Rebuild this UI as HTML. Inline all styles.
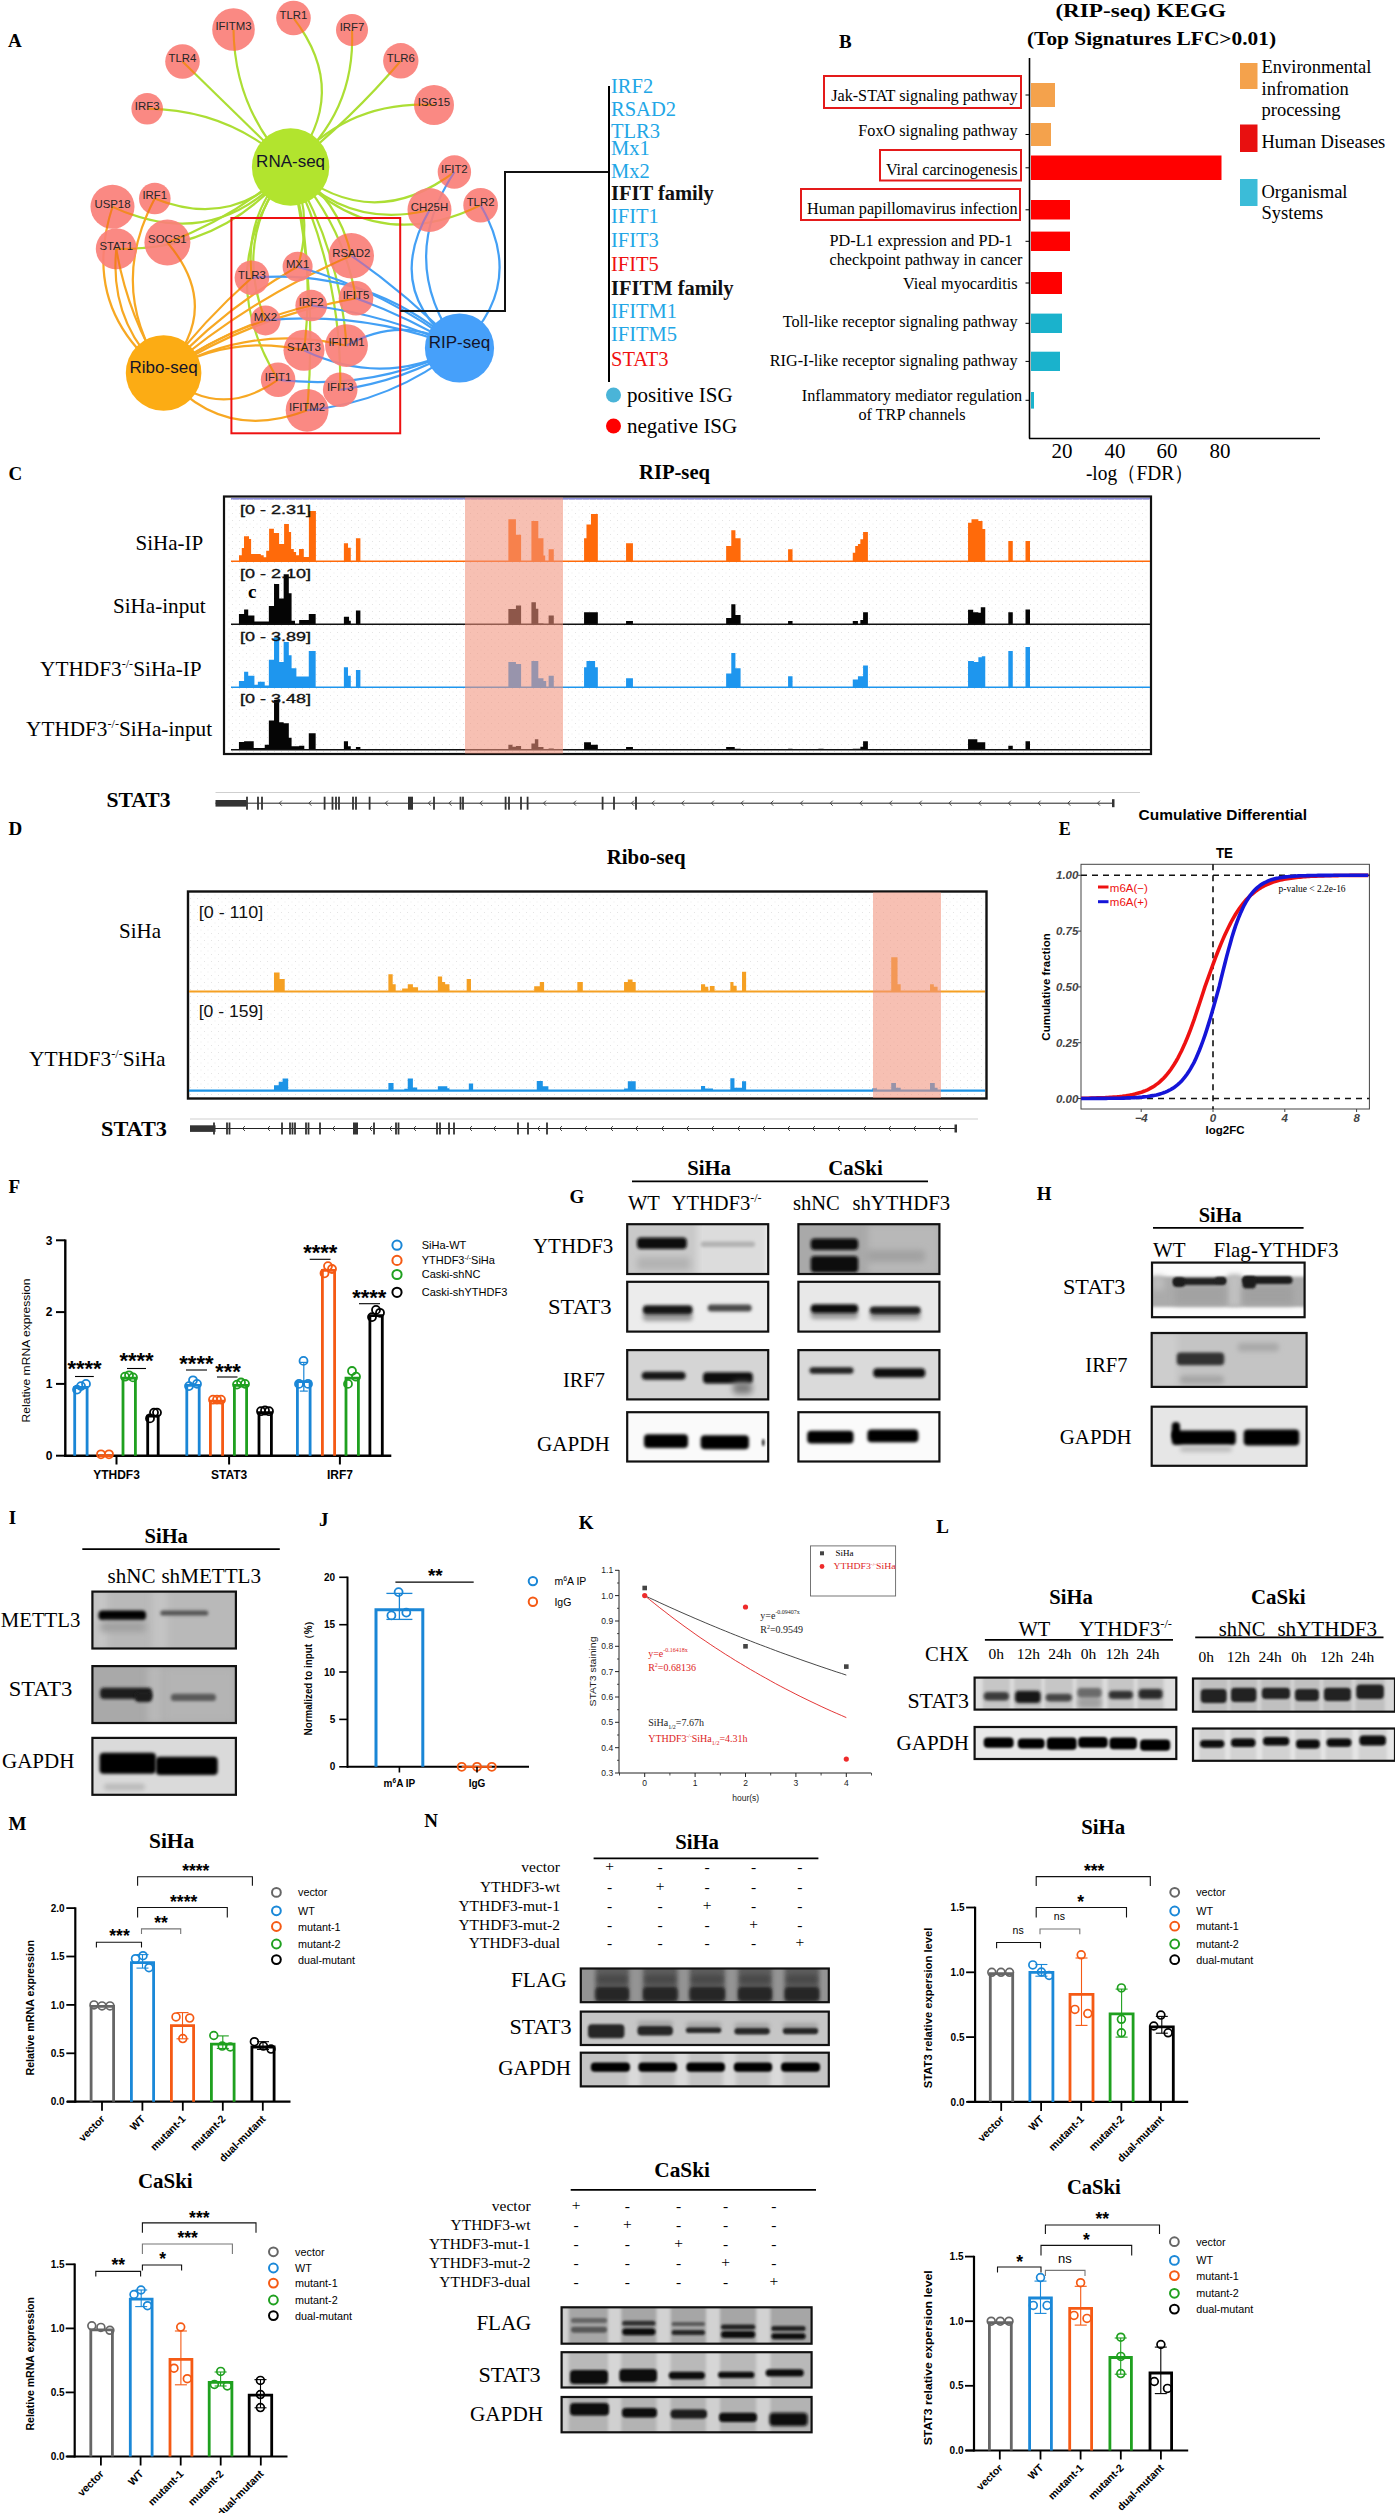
<!DOCTYPE html>
<html><head><meta charset="utf-8"><title>Figure</title>
<style>html,body{margin:0;padding:0;background:#fff;} svg{display:block;}</style>
</head><body>
<svg width="1395" height="2513" viewBox="0 0 1395 2513">
<defs>
<filter id="f0_8" x="-100%" y="-100%" width="300%" height="300%"><feGaussianBlur stdDeviation="0.8"/></filter>
<filter id="f1_2" x="-100%" y="-100%" width="300%" height="300%"><feGaussianBlur stdDeviation="1.2"/></filter>
<filter id="f1_3" x="-100%" y="-100%" width="300%" height="300%"><feGaussianBlur stdDeviation="1.3"/></filter>
<filter id="f1_4" x="-100%" y="-100%" width="300%" height="300%"><feGaussianBlur stdDeviation="1.4"/></filter>
<filter id="f1_5" x="-100%" y="-100%" width="300%" height="300%"><feGaussianBlur stdDeviation="1.5"/></filter>
<filter id="f1_6" x="-100%" y="-100%" width="300%" height="300%"><feGaussianBlur stdDeviation="1.6"/></filter>
<filter id="f1_8" x="-100%" y="-100%" width="300%" height="300%"><feGaussianBlur stdDeviation="1.8"/></filter>
<filter id="f2" x="-100%" y="-100%" width="300%" height="300%"><feGaussianBlur stdDeviation="2"/></filter>
<filter id="f2_2" x="-100%" y="-100%" width="300%" height="300%"><feGaussianBlur stdDeviation="2.2"/></filter>
<filter id="f2_5" x="-100%" y="-100%" width="300%" height="300%"><feGaussianBlur stdDeviation="2.5"/></filter>
<filter id="f3" x="-100%" y="-100%" width="300%" height="300%"><feGaussianBlur stdDeviation="3"/></filter>
<filter id="f4" x="-100%" y="-100%" width="300%" height="300%"><feGaussianBlur stdDeviation="4"/></filter>
<pattern id="dots" width="7" height="7" patternUnits="userSpaceOnUse"><rect x="1" y="2" width="1" height="1" fill="#e4e4e4"/><rect x="4.5" y="5.5" width="1" height="1" fill="#ececec"/></pattern>
</defs>
<rect width="1395" height="2513" fill="#fff"/>
<text x="8.0" y="47.0" font-family="Liberation Serif" font-size="19" font-weight="bold">A</text>
<path d="M290.6,167.0 Q234.6,109.7 233.5,29.5" fill="none" stroke="#acde34" stroke-width="2.2"/>
<path d="M290.6,167.0 Q351.7,93.7 293.5,18.0" fill="none" stroke="#acde34" stroke-width="2.2"/>
<path d="M290.6,167.0 Q355.6,113.8 352.0,30.0" fill="none" stroke="#acde34" stroke-width="2.2"/>
<path d="M290.6,167.0 Q236.6,114.2 182.5,61.5" fill="none" stroke="#acde34" stroke-width="2.2"/>
<path d="M290.6,167.0 Q351.0,119.4 400.8,60.8" fill="none" stroke="#acde34" stroke-width="2.2"/>
<path d="M290.6,167.0 Q230.5,109.2 147.2,108.8" fill="none" stroke="#acde34" stroke-width="2.2"/>
<path d="M290.6,167.0 Q346.8,100.2 434.0,105.0" fill="none" stroke="#acde34" stroke-width="2.2"/>
<path d="M290.6,167.0 Q370.5,235.0 454.4,172.0" fill="none" stroke="#acde34" stroke-width="2.2"/>
<path d="M290.6,167.0 Q347.2,230.2 429.5,210.0" fill="none" stroke="#acde34" stroke-width="2.2"/>
<path d="M290.6,167.0 Q371.1,258.3 480.6,205.2" fill="none" stroke="#acde34" stroke-width="2.2"/>
<path d="M290.6,167.0 Q216.7,254.6 112.5,206.8" fill="none" stroke="#acde34" stroke-width="2.2"/>
<path d="M290.6,167.0 Q233.7,230.3 154.8,198.5" fill="none" stroke="#acde34" stroke-width="2.2"/>
<path d="M290.6,167.0 Q236.6,217.1 167.4,242.5" fill="none" stroke="#acde34" stroke-width="2.2"/>
<path d="M290.6,167.0 Q223.9,251.5 116.3,248.8" fill="none" stroke="#acde34" stroke-width="2.2"/>
<path d="M290.6,167.0 Q243.6,212.7 251.9,277.8" fill="none" stroke="#acde34" stroke-width="2.2"/>
<path d="M290.6,167.0 Q314.0,215.4 297.6,266.7" fill="none" stroke="#acde34" stroke-width="2.2"/>
<path d="M290.6,167.0 Q338.7,199.2 351.3,255.7" fill="none" stroke="#acde34" stroke-width="2.2"/>
<path d="M290.6,167.0 Q343.0,222.8 356.0,298.3" fill="none" stroke="#acde34" stroke-width="2.2"/>
<path d="M290.6,167.0 Q232.0,236.2 265.5,320.4" fill="none" stroke="#acde34" stroke-width="2.2"/>
<path d="M290.6,167.0 Q340.0,249.6 346.5,345.6" fill="none" stroke="#acde34" stroke-width="2.2"/>
<path d="M290.6,167.0 Q209.9,269.0 278.1,379.7" fill="none" stroke="#acde34" stroke-width="2.2"/>
<path d="M290.6,167.0 Q342.1,272.4 340.2,389.8" fill="none" stroke="#acde34" stroke-width="2.2"/>
<path d="M290.6,167.0 Q318.3,287.3 307.1,410.3" fill="none" stroke="#acde34" stroke-width="2.2"/>
<path d="M290.6,167.0 Q315.6,257.3 304.0,350.3" fill="none" stroke="#acde34" stroke-width="2.2"/>
<path d="M163.6,373.0 Q79.9,307.8 112.5,206.8" fill="none" stroke="#f7a823" stroke-width="2.2"/>
<path d="M163.6,373.0 Q108.9,322.7 116.3,248.8" fill="none" stroke="#f7a823" stroke-width="2.2"/>
<path d="M163.6,373.0 Q127.5,315.6 116.3,248.8" fill="none" stroke="#f7a823" stroke-width="2.2"/>
<path d="M163.6,373.0 Q106.8,288.4 154.8,198.5" fill="none" stroke="#f7a823" stroke-width="2.2"/>
<path d="M163.6,373.0 Q224.2,309.5 167.4,242.5" fill="none" stroke="#f7a823" stroke-width="2.2"/>
<path d="M163.6,373.0 Q203.0,321.0 251.9,277.8" fill="none" stroke="#f7a823" stroke-width="2.2"/>
<path d="M163.6,373.0 Q222.1,309.1 297.6,266.7" fill="none" stroke="#f7a823" stroke-width="2.2"/>
<path d="M163.6,373.0 Q248.1,299.3 351.3,255.7" fill="none" stroke="#f7a823" stroke-width="2.2"/>
<path d="M163.6,373.0 Q230.6,324.5 311.2,305.5" fill="none" stroke="#f7a823" stroke-width="2.2"/>
<path d="M163.6,373.0 Q252.3,316.4 356.0,298.3" fill="none" stroke="#f7a823" stroke-width="2.2"/>
<path d="M163.6,373.0 Q210.3,338.5 265.5,320.4" fill="none" stroke="#f7a823" stroke-width="2.2"/>
<path d="M163.6,373.0 Q229.3,333.6 304.0,350.3" fill="none" stroke="#f7a823" stroke-width="2.2"/>
<path d="M163.6,373.0 Q249.6,322.7 346.5,345.6" fill="none" stroke="#f7a823" stroke-width="2.2"/>
<path d="M163.6,373.0 Q218.2,422.2 278.1,379.7" fill="none" stroke="#f7a823" stroke-width="2.2"/>
<path d="M163.6,373.0 Q221.9,443.3 307.1,410.3" fill="none" stroke="#f7a823" stroke-width="2.2"/>
<path d="M459.5,348.0 Q395.4,261.8 454.4,172.0" fill="none" stroke="#43a0f5" stroke-width="2.2"/>
<path d="M459.5,348.0 Q382.4,292.5 429.5,210.0" fill="none" stroke="#43a0f5" stroke-width="2.2"/>
<path d="M459.5,348.0 Q527.2,285.0 480.6,205.2" fill="none" stroke="#43a0f5" stroke-width="2.2"/>
<path d="M459.5,348.0 Q371.1,267.2 251.9,277.8" fill="none" stroke="#43a0f5" stroke-width="2.2"/>
<path d="M459.5,348.0 Q386.7,291.2 297.6,266.7" fill="none" stroke="#43a0f5" stroke-width="2.2"/>
<path d="M459.5,348.0 Q410.0,296.4 351.3,255.7" fill="none" stroke="#43a0f5" stroke-width="2.2"/>
<path d="M459.5,348.0 Q388.8,314.9 311.2,305.5" fill="none" stroke="#43a0f5" stroke-width="2.2"/>
<path d="M459.5,348.0 Q410.2,318.0 356.0,298.3" fill="none" stroke="#43a0f5" stroke-width="2.2"/>
<path d="M459.5,348.0 Q365.8,310.9 265.5,320.4" fill="none" stroke="#43a0f5" stroke-width="2.2"/>
<path d="M459.5,348.0 Q403.7,312.9 346.5,345.6" fill="none" stroke="#43a0f5" stroke-width="2.2"/>
<path d="M459.5,348.0 Q382.3,388.0 304.0,350.3" fill="none" stroke="#43a0f5" stroke-width="2.2"/>
<path d="M459.5,348.0 Q373.6,391.1 278.1,379.7" fill="none" stroke="#43a0f5" stroke-width="2.2"/>
<path d="M459.5,348.0 Q404.0,380.8 340.2,389.8" fill="none" stroke="#43a0f5" stroke-width="2.2"/>
<path d="M459.5,348.0 Q392.6,402.0 307.1,410.3" fill="none" stroke="#43a0f5" stroke-width="2.2"/>
<circle cx="233.5" cy="29.5" r="21.3" fill="#fa7f78" fill-opacity="0.92"/>
<circle cx="293.5" cy="18.0" r="17.3" fill="#fa7f78" fill-opacity="0.92"/>
<circle cx="352.0" cy="30.0" r="16.0" fill="#fa7f78" fill-opacity="0.92"/>
<circle cx="182.5" cy="61.5" r="17.3" fill="#fa7f78" fill-opacity="0.92"/>
<circle cx="400.8" cy="60.8" r="17.7" fill="#fa7f78" fill-opacity="0.92"/>
<circle cx="147.2" cy="108.8" r="15.8" fill="#fa7f78" fill-opacity="0.92"/>
<circle cx="434.0" cy="105.0" r="20.0" fill="#fa7f78" fill-opacity="0.92"/>
<circle cx="454.4" cy="172.0" r="16.7" fill="#fa7f78" fill-opacity="0.92"/>
<circle cx="429.5" cy="210.0" r="22.0" fill="#fa7f78" fill-opacity="0.92"/>
<circle cx="480.6" cy="205.2" r="17.3" fill="#fa7f78" fill-opacity="0.92"/>
<circle cx="112.5" cy="206.8" r="22.0" fill="#fa7f78" fill-opacity="0.92"/>
<circle cx="154.8" cy="198.5" r="15.8" fill="#fa7f78" fill-opacity="0.92"/>
<circle cx="116.3" cy="248.8" r="20.5" fill="#fa7f78" fill-opacity="0.92"/>
<circle cx="167.4" cy="242.5" r="23.0" fill="#fa7f78" fill-opacity="0.92"/>
<circle cx="251.9" cy="277.8" r="17.3" fill="#fa7f78" fill-opacity="0.92"/>
<circle cx="297.6" cy="266.7" r="15.0" fill="#fa7f78" fill-opacity="0.92"/>
<circle cx="351.3" cy="255.7" r="22.7" fill="#fa7f78" fill-opacity="0.92"/>
<circle cx="311.2" cy="305.5" r="15.8" fill="#fa7f78" fill-opacity="0.92"/>
<circle cx="356.0" cy="298.3" r="17.3" fill="#fa7f78" fill-opacity="0.92"/>
<circle cx="265.5" cy="320.4" r="15.0" fill="#fa7f78" fill-opacity="0.92"/>
<circle cx="304.0" cy="350.3" r="20.5" fill="#fa7f78" fill-opacity="0.92"/>
<circle cx="346.5" cy="345.6" r="21.4" fill="#fa7f78" fill-opacity="0.92"/>
<circle cx="278.1" cy="379.7" r="17.3" fill="#fa7f78" fill-opacity="0.92"/>
<circle cx="340.2" cy="389.8" r="17.3" fill="#fa7f78" fill-opacity="0.92"/>
<circle cx="307.1" cy="410.3" r="21.4" fill="#fa7f78" fill-opacity="0.92"/>
<clipPath id="nc_IFITM3"><circle cx="233.5" cy="29.5" r="21.3"/></clipPath>
<clipPath id="nc_TLR1"><circle cx="293.5" cy="18.0" r="17.3"/></clipPath>
<clipPath id="nc_IRF7"><circle cx="352.0" cy="30.0" r="16.0"/></clipPath>
<clipPath id="nc_TLR4"><circle cx="182.5" cy="61.5" r="17.3"/></clipPath>
<clipPath id="nc_TLR6"><circle cx="400.8" cy="60.8" r="17.7"/></clipPath>
<clipPath id="nc_IRF3"><circle cx="147.2" cy="108.8" r="15.8"/></clipPath>
<clipPath id="nc_ISG15"><circle cx="434.0" cy="105.0" r="20.0"/></clipPath>
<clipPath id="nc_IFIT2"><circle cx="454.4" cy="172.0" r="16.7"/></clipPath>
<clipPath id="nc_CH25H"><circle cx="429.5" cy="210.0" r="22.0"/></clipPath>
<clipPath id="nc_TLR2"><circle cx="480.6" cy="205.2" r="17.3"/></clipPath>
<clipPath id="nc_USP18"><circle cx="112.5" cy="206.8" r="22.0"/></clipPath>
<clipPath id="nc_IRF1"><circle cx="154.8" cy="198.5" r="15.8"/></clipPath>
<clipPath id="nc_STAT1"><circle cx="116.3" cy="248.8" r="20.5"/></clipPath>
<clipPath id="nc_SOCS1"><circle cx="167.4" cy="242.5" r="23.0"/></clipPath>
<clipPath id="nc_TLR3"><circle cx="251.9" cy="277.8" r="17.3"/></clipPath>
<clipPath id="nc_MX1"><circle cx="297.6" cy="266.7" r="15.0"/></clipPath>
<clipPath id="nc_RSAD2"><circle cx="351.3" cy="255.7" r="22.7"/></clipPath>
<clipPath id="nc_IRF2"><circle cx="311.2" cy="305.5" r="15.8"/></clipPath>
<clipPath id="nc_IFIT5"><circle cx="356.0" cy="298.3" r="17.3"/></clipPath>
<clipPath id="nc_MX2"><circle cx="265.5" cy="320.4" r="15.0"/></clipPath>
<clipPath id="nc_STAT3"><circle cx="304.0" cy="350.3" r="20.5"/></clipPath>
<clipPath id="nc_IFITM1"><circle cx="346.5" cy="345.6" r="21.4"/></clipPath>
<clipPath id="nc_IFIT1"><circle cx="278.1" cy="379.7" r="17.3"/></clipPath>
<clipPath id="nc_IFIT3"><circle cx="340.2" cy="389.8" r="17.3"/></clipPath>
<clipPath id="nc_IFITM2"><circle cx="307.1" cy="410.3" r="21.4"/></clipPath>
<path d="M290.6,167.0 Q234.6,109.7 233.5,29.5" fill="none" stroke="#f28a22" stroke-width="2.0" clip-path="url(#nc_IFITM3)"/>
<path d="M290.6,167.0 Q351.7,93.7 293.5,18.0" fill="none" stroke="#f28a22" stroke-width="2.0" clip-path="url(#nc_TLR1)"/>
<path d="M290.6,167.0 Q355.6,113.8 352.0,30.0" fill="none" stroke="#f28a22" stroke-width="2.0" clip-path="url(#nc_IRF7)"/>
<path d="M290.6,167.0 Q236.6,114.2 182.5,61.5" fill="none" stroke="#f28a22" stroke-width="2.0" clip-path="url(#nc_TLR4)"/>
<path d="M290.6,167.0 Q351.0,119.4 400.8,60.8" fill="none" stroke="#f28a22" stroke-width="2.0" clip-path="url(#nc_TLR6)"/>
<path d="M290.6,167.0 Q230.5,109.2 147.2,108.8" fill="none" stroke="#f28a22" stroke-width="2.0" clip-path="url(#nc_IRF3)"/>
<path d="M290.6,167.0 Q346.8,100.2 434.0,105.0" fill="none" stroke="#f28a22" stroke-width="2.0" clip-path="url(#nc_ISG15)"/>
<path d="M290.6,167.0 Q370.5,235.0 454.4,172.0" fill="none" stroke="#f28a22" stroke-width="2.0" clip-path="url(#nc_IFIT2)"/>
<path d="M290.6,167.0 Q347.2,230.2 429.5,210.0" fill="none" stroke="#f28a22" stroke-width="2.0" clip-path="url(#nc_CH25H)"/>
<path d="M290.6,167.0 Q371.1,258.3 480.6,205.2" fill="none" stroke="#f28a22" stroke-width="2.0" clip-path="url(#nc_TLR2)"/>
<path d="M290.6,167.0 Q216.7,254.6 112.5,206.8" fill="none" stroke="#f28a22" stroke-width="2.0" clip-path="url(#nc_USP18)"/>
<path d="M290.6,167.0 Q233.7,230.3 154.8,198.5" fill="none" stroke="#f28a22" stroke-width="2.0" clip-path="url(#nc_IRF1)"/>
<path d="M290.6,167.0 Q236.6,217.1 167.4,242.5" fill="none" stroke="#f28a22" stroke-width="2.0" clip-path="url(#nc_SOCS1)"/>
<path d="M290.6,167.0 Q223.9,251.5 116.3,248.8" fill="none" stroke="#f28a22" stroke-width="2.0" clip-path="url(#nc_STAT1)"/>
<path d="M290.6,167.0 Q243.6,212.7 251.9,277.8" fill="none" stroke="#f28a22" stroke-width="2.0" clip-path="url(#nc_TLR3)"/>
<path d="M290.6,167.0 Q314.0,215.4 297.6,266.7" fill="none" stroke="#f28a22" stroke-width="2.0" clip-path="url(#nc_MX1)"/>
<path d="M290.6,167.0 Q338.7,199.2 351.3,255.7" fill="none" stroke="#f28a22" stroke-width="2.0" clip-path="url(#nc_RSAD2)"/>
<path d="M290.6,167.0 Q343.0,222.8 356.0,298.3" fill="none" stroke="#f28a22" stroke-width="2.0" clip-path="url(#nc_IFIT5)"/>
<path d="M290.6,167.0 Q232.0,236.2 265.5,320.4" fill="none" stroke="#f28a22" stroke-width="2.0" clip-path="url(#nc_MX2)"/>
<path d="M290.6,167.0 Q340.0,249.6 346.5,345.6" fill="none" stroke="#f28a22" stroke-width="2.0" clip-path="url(#nc_IFITM1)"/>
<path d="M290.6,167.0 Q209.9,269.0 278.1,379.7" fill="none" stroke="#f28a22" stroke-width="2.0" clip-path="url(#nc_IFIT1)"/>
<path d="M290.6,167.0 Q342.1,272.4 340.2,389.8" fill="none" stroke="#f28a22" stroke-width="2.0" clip-path="url(#nc_IFIT3)"/>
<path d="M290.6,167.0 Q318.3,287.3 307.1,410.3" fill="none" stroke="#f28a22" stroke-width="2.0" clip-path="url(#nc_IFITM2)"/>
<path d="M290.6,167.0 Q315.6,257.3 304.0,350.3" fill="none" stroke="#f28a22" stroke-width="2.0" clip-path="url(#nc_STAT3)"/>
<path d="M163.6,373.0 Q79.9,307.8 112.5,206.8" fill="none" stroke="#f2801e" stroke-width="2.0" clip-path="url(#nc_USP18)"/>
<path d="M163.6,373.0 Q108.9,322.7 116.3,248.8" fill="none" stroke="#f2801e" stroke-width="2.0" clip-path="url(#nc_STAT1)"/>
<path d="M163.6,373.0 Q127.5,315.6 116.3,248.8" fill="none" stroke="#f2801e" stroke-width="2.0" clip-path="url(#nc_STAT1)"/>
<path d="M163.6,373.0 Q106.8,288.4 154.8,198.5" fill="none" stroke="#f2801e" stroke-width="2.0" clip-path="url(#nc_IRF1)"/>
<path d="M163.6,373.0 Q224.2,309.5 167.4,242.5" fill="none" stroke="#f2801e" stroke-width="2.0" clip-path="url(#nc_SOCS1)"/>
<path d="M163.6,373.0 Q203.0,321.0 251.9,277.8" fill="none" stroke="#f2801e" stroke-width="2.0" clip-path="url(#nc_TLR3)"/>
<path d="M163.6,373.0 Q222.1,309.1 297.6,266.7" fill="none" stroke="#f2801e" stroke-width="2.0" clip-path="url(#nc_MX1)"/>
<path d="M163.6,373.0 Q248.1,299.3 351.3,255.7" fill="none" stroke="#f2801e" stroke-width="2.0" clip-path="url(#nc_RSAD2)"/>
<path d="M163.6,373.0 Q230.6,324.5 311.2,305.5" fill="none" stroke="#f2801e" stroke-width="2.0" clip-path="url(#nc_IRF2)"/>
<path d="M163.6,373.0 Q252.3,316.4 356.0,298.3" fill="none" stroke="#f2801e" stroke-width="2.0" clip-path="url(#nc_IFIT5)"/>
<path d="M163.6,373.0 Q210.3,338.5 265.5,320.4" fill="none" stroke="#f2801e" stroke-width="2.0" clip-path="url(#nc_MX2)"/>
<path d="M163.6,373.0 Q229.3,333.6 304.0,350.3" fill="none" stroke="#f2801e" stroke-width="2.0" clip-path="url(#nc_STAT3)"/>
<path d="M163.6,373.0 Q249.6,322.7 346.5,345.6" fill="none" stroke="#f2801e" stroke-width="2.0" clip-path="url(#nc_IFITM1)"/>
<path d="M163.6,373.0 Q218.2,422.2 278.1,379.7" fill="none" stroke="#f2801e" stroke-width="2.0" clip-path="url(#nc_IFIT1)"/>
<path d="M163.6,373.0 Q221.9,443.3 307.1,410.3" fill="none" stroke="#f2801e" stroke-width="2.0" clip-path="url(#nc_IFITM2)"/>
<path d="M459.5,348.0 Q395.4,261.8 454.4,172.0" fill="none" stroke="#a878b8" stroke-width="2.0" clip-path="url(#nc_IFIT2)"/>
<path d="M459.5,348.0 Q382.4,292.5 429.5,210.0" fill="none" stroke="#a878b8" stroke-width="2.0" clip-path="url(#nc_CH25H)"/>
<path d="M459.5,348.0 Q527.2,285.0 480.6,205.2" fill="none" stroke="#a878b8" stroke-width="2.0" clip-path="url(#nc_TLR2)"/>
<path d="M459.5,348.0 Q371.1,267.2 251.9,277.8" fill="none" stroke="#a878b8" stroke-width="2.0" clip-path="url(#nc_TLR3)"/>
<path d="M459.5,348.0 Q386.7,291.2 297.6,266.7" fill="none" stroke="#a878b8" stroke-width="2.0" clip-path="url(#nc_MX1)"/>
<path d="M459.5,348.0 Q410.0,296.4 351.3,255.7" fill="none" stroke="#a878b8" stroke-width="2.0" clip-path="url(#nc_RSAD2)"/>
<path d="M459.5,348.0 Q388.8,314.9 311.2,305.5" fill="none" stroke="#a878b8" stroke-width="2.0" clip-path="url(#nc_IRF2)"/>
<path d="M459.5,348.0 Q410.2,318.0 356.0,298.3" fill="none" stroke="#a878b8" stroke-width="2.0" clip-path="url(#nc_IFIT5)"/>
<path d="M459.5,348.0 Q365.8,310.9 265.5,320.4" fill="none" stroke="#a878b8" stroke-width="2.0" clip-path="url(#nc_MX2)"/>
<path d="M459.5,348.0 Q403.7,312.9 346.5,345.6" fill="none" stroke="#a878b8" stroke-width="2.0" clip-path="url(#nc_IFITM1)"/>
<path d="M459.5,348.0 Q382.3,388.0 304.0,350.3" fill="none" stroke="#a878b8" stroke-width="2.0" clip-path="url(#nc_STAT3)"/>
<path d="M459.5,348.0 Q373.6,391.1 278.1,379.7" fill="none" stroke="#a878b8" stroke-width="2.0" clip-path="url(#nc_IFIT1)"/>
<path d="M459.5,348.0 Q404.0,380.8 340.2,389.8" fill="none" stroke="#a878b8" stroke-width="2.0" clip-path="url(#nc_IFIT3)"/>
<path d="M459.5,348.0 Q392.6,402.0 307.1,410.3" fill="none" stroke="#a878b8" stroke-width="2.0" clip-path="url(#nc_IFITM2)"/>
<text x="233.5" y="30.3" font-family="Liberation Sans" font-size="11.4" text-anchor="middle" fill="#262626">IFITM3</text>
<text x="293.5" y="18.8" font-family="Liberation Sans" font-size="11.4" text-anchor="middle" fill="#262626">TLR1</text>
<text x="352.0" y="30.8" font-family="Liberation Sans" font-size="11.4" text-anchor="middle" fill="#262626">IRF7</text>
<text x="182.5" y="62.3" font-family="Liberation Sans" font-size="11.4" text-anchor="middle" fill="#262626">TLR4</text>
<text x="400.8" y="61.6" font-family="Liberation Sans" font-size="11.4" text-anchor="middle" fill="#262626">TLR6</text>
<text x="147.2" y="109.6" font-family="Liberation Sans" font-size="11.4" text-anchor="middle" fill="#262626">IRF3</text>
<text x="434.0" y="105.8" font-family="Liberation Sans" font-size="11.4" text-anchor="middle" fill="#262626">ISG15</text>
<text x="454.4" y="172.8" font-family="Liberation Sans" font-size="11.4" text-anchor="middle" fill="#262626">IFIT2</text>
<text x="429.5" y="210.8" font-family="Liberation Sans" font-size="11.4" text-anchor="middle" fill="#262626">CH25H</text>
<text x="480.6" y="206.0" font-family="Liberation Sans" font-size="11.4" text-anchor="middle" fill="#262626">TLR2</text>
<text x="112.5" y="207.6" font-family="Liberation Sans" font-size="11.4" text-anchor="middle" fill="#262626">USP18</text>
<text x="154.8" y="199.3" font-family="Liberation Sans" font-size="11.4" text-anchor="middle" fill="#262626">IRF1</text>
<text x="116.3" y="249.6" font-family="Liberation Sans" font-size="11.4" text-anchor="middle" fill="#262626">STAT1</text>
<text x="167.4" y="243.3" font-family="Liberation Sans" font-size="11.4" text-anchor="middle" fill="#262626">SOCS1</text>
<text x="251.9" y="278.6" font-family="Liberation Sans" font-size="11.4" text-anchor="middle" fill="#262626">TLR3</text>
<text x="297.6" y="267.5" font-family="Liberation Sans" font-size="11.4" text-anchor="middle" fill="#262626">MX1</text>
<text x="351.3" y="256.5" font-family="Liberation Sans" font-size="11.4" text-anchor="middle" fill="#262626">RSAD2</text>
<text x="311.2" y="306.3" font-family="Liberation Sans" font-size="11.4" text-anchor="middle" fill="#262626">IRF2</text>
<text x="356.0" y="299.1" font-family="Liberation Sans" font-size="11.4" text-anchor="middle" fill="#262626">IFIT5</text>
<text x="265.5" y="321.2" font-family="Liberation Sans" font-size="11.4" text-anchor="middle" fill="#262626">MX2</text>
<text x="304.0" y="351.1" font-family="Liberation Sans" font-size="11.4" text-anchor="middle" fill="#262626">STAT3</text>
<text x="346.5" y="346.4" font-family="Liberation Sans" font-size="11.4" text-anchor="middle" fill="#262626">IFITM1</text>
<text x="278.1" y="380.5" font-family="Liberation Sans" font-size="11.4" text-anchor="middle" fill="#262626">IFIT1</text>
<text x="340.2" y="390.6" font-family="Liberation Sans" font-size="11.4" text-anchor="middle" fill="#262626">IFIT3</text>
<text x="307.1" y="411.1" font-family="Liberation Sans" font-size="11.4" text-anchor="middle" fill="#262626">IFITM2</text>
<circle cx="290.6" cy="167.0" r="38.7" fill="#b2e42e"/>
<text x="290.6" y="167.4" font-family="Liberation Sans" font-size="17" text-anchor="middle" fill="#141428">RNA-seq</text>
<circle cx="163.6" cy="373.0" r="37.8" fill="#fcac14"/>
<text x="163.6" y="373.4" font-family="Liberation Sans" font-size="17" text-anchor="middle" fill="#141428">Ribo-seq</text>
<circle cx="459.5" cy="348.0" r="34.6" fill="#46a0fa"/>
<text x="459.5" y="348.4" font-family="Liberation Sans" font-size="17" text-anchor="middle" fill="#141428">RIP-seq</text>
<rect x="231.4" y="218.0" width="168.8" height="215.3" fill="none" stroke="#ee1111" stroke-width="2"/>
<path d="M400.2,311 H505 V172 H609" fill="none" stroke="#111" stroke-width="2"/>
<line x1="609.0" y1="86.0" x2="609.0" y2="382.0" stroke="#000" stroke-width="2" />
<text x="611.0" y="93.0" font-family="Liberation Serif" font-size="20.5" fill="#22a6e6">IRF2</text>
<text x="611.0" y="116.0" font-family="Liberation Serif" font-size="20.5" fill="#22a6e6">RSAD2</text>
<text x="611.0" y="137.5" font-family="Liberation Serif" font-size="20.5" fill="#22a6e6">TLR3</text>
<text x="611.0" y="154.5" font-family="Liberation Serif" font-size="20.5" fill="#22a6e6">Mx1</text>
<text x="611.0" y="177.5" font-family="Liberation Serif" font-size="20.5" fill="#22a6e6">Mx2</text>
<text x="611.0" y="199.5" font-family="Liberation Serif" font-size="20.5" font-weight="bold" fill="#111">IFIT family</text>
<text x="611.0" y="222.5" font-family="Liberation Serif" font-size="20.5" fill="#22a6e6">IFIT1</text>
<text x="611.0" y="247.0" font-family="Liberation Serif" font-size="20.5" fill="#22a6e6">IFIT3</text>
<text x="611.0" y="271.0" font-family="Liberation Serif" font-size="20.5" fill="#f01010">IFIT5</text>
<text x="611.0" y="295.0" font-family="Liberation Serif" font-size="20.5" font-weight="bold" fill="#111">IFITM family</text>
<text x="611.0" y="318.0" font-family="Liberation Serif" font-size="20.5" fill="#22a6e6">IFITM1</text>
<text x="611.0" y="341.0" font-family="Liberation Serif" font-size="20.5" fill="#22a6e6">IFITM5</text>
<text x="611.0" y="366.0" font-family="Liberation Serif" font-size="20.5" fill="#f01010">STAT3</text>
<circle cx="613.5" cy="395.0" r="7.5" fill="#4ab4d8"/>
<text x="627.0" y="402.0" font-family="Liberation Serif" font-size="21">positive ISG</text>
<circle cx="613.5" cy="426.0" r="7.5" fill="#ff0000"/>
<text x="627.0" y="432.5" font-family="Liberation Serif" font-size="21">negative ISG</text>
<text x="1055.4" y="17.0" font-family="Liberation Serif" font-size="19.5" font-weight="bold" textLength="170.6" lengthAdjust="spacingAndGlyphs">(RIP-seq)  KEGG</text>
<text x="1151.5" y="44.5" font-family="Liberation Serif" font-size="19.5" text-anchor="middle" font-weight="bold" textLength="249.0" lengthAdjust="spacingAndGlyphs">(Top Signatures LFC&gt;0.01)</text>
<text x="839.0" y="47.5" font-family="Liberation Serif" font-size="19" font-weight="bold">B</text>
<line x1="1029.5" y1="58.0" x2="1029.5" y2="438.5" stroke="#000" stroke-width="1.6" />
<line x1="1029.0" y1="438.5" x2="1320.0" y2="438.5" stroke="#000" stroke-width="1.6" />
<text x="1062.0" y="457.5" font-family="Liberation Serif" font-size="21" text-anchor="middle">20</text>
<text x="1115.0" y="457.5" font-family="Liberation Serif" font-size="21" text-anchor="middle">40</text>
<text x="1167.0" y="457.5" font-family="Liberation Serif" font-size="21" text-anchor="middle">60</text>
<text x="1220.0" y="457.5" font-family="Liberation Serif" font-size="21" text-anchor="middle">80</text>
<text x="1085.9" y="479.5" font-family="Liberation Serif" font-size="21" textLength="107.5" lengthAdjust="spacingAndGlyphs">-log（FDR）</text>
<rect x="1031.0" y="83.0" width="24.0" height="24.0" fill="#f4a24c"/>
<line x1="1025.5" y1="95.0" x2="1029.0" y2="95.0" stroke="#000" stroke-width="1" />
<text x="1017.5" y="101.0" font-family="Liberation Serif" font-size="16.2" text-anchor="end">Jak-STAT signaling pathway</text>
<rect x="1031.0" y="123.0" width="20.0" height="23.0" fill="#f4a24c"/>
<line x1="1025.5" y1="134.5" x2="1029.0" y2="134.5" stroke="#000" stroke-width="1" />
<text x="1017.5" y="136.0" font-family="Liberation Serif" font-size="16.2" text-anchor="end">FoxO signaling pathway</text>
<rect x="1031.0" y="155.5" width="190.5" height="24.5" fill="#ff0000"/>
<line x1="1025.5" y1="167.8" x2="1029.0" y2="167.8" stroke="#000" stroke-width="1" />
<text x="1017.5" y="175.0" font-family="Liberation Serif" font-size="16.2" text-anchor="end">Viral carcinogenesis</text>
<rect x="1031.0" y="200.0" width="39.0" height="19.5" fill="#ff0000"/>
<line x1="1025.5" y1="209.8" x2="1029.0" y2="209.8" stroke="#000" stroke-width="1" />
<text x="1017.5" y="214.0" font-family="Liberation Serif" font-size="16.2" text-anchor="end">Human papillomavirus infection</text>
<rect x="1031.0" y="231.6" width="39.0" height="19.4" fill="#ff0000"/>
<line x1="1025.5" y1="241.3" x2="1029.0" y2="241.3" stroke="#000" stroke-width="1" />
<text x="829.6" y="245.5" font-family="Liberation Serif" font-size="16.2">PD-L1 expression and PD-1</text>
<text x="829.6" y="265.0" font-family="Liberation Serif" font-size="16.2">checkpoint pathway in cancer</text>
<rect x="1031.0" y="272.0" width="31.0" height="22.0" fill="#ff0000"/>
<line x1="1025.5" y1="283.0" x2="1029.0" y2="283.0" stroke="#000" stroke-width="1" />
<text x="1017.5" y="289.0" font-family="Liberation Serif" font-size="16.2" text-anchor="end">Vieal myocarditis</text>
<rect x="1031.0" y="313.6" width="31.0" height="19.4" fill="#1ab2cc"/>
<line x1="1025.5" y1="323.3" x2="1029.0" y2="323.3" stroke="#000" stroke-width="1" />
<text x="1017.5" y="327.0" font-family="Liberation Serif" font-size="16.2" text-anchor="end">Toll-like receptor signaling pathway</text>
<rect x="1031.0" y="351.7" width="29.0" height="19.3" fill="#1ab2cc"/>
<line x1="1025.5" y1="361.4" x2="1029.0" y2="361.4" stroke="#000" stroke-width="1" />
<text x="1017.5" y="366.0" font-family="Liberation Serif" font-size="16.2" text-anchor="end">RIG-I-like receptor signaling pathway</text>
<rect x="1031.0" y="392.0" width="3.0" height="16.6" fill="#1ab2cc"/>
<line x1="1025.5" y1="400.3" x2="1029.0" y2="400.3" stroke="#000" stroke-width="1" />
<text x="912.0" y="401.0" font-family="Liberation Serif" font-size="16.2" text-anchor="middle">Inflammatory mediator regulation</text>
<text x="912.0" y="420.0" font-family="Liberation Serif" font-size="16.2" text-anchor="middle">of TRP channels</text>
<rect x="824.0" y="76.0" width="197.0" height="32.0" fill="none" stroke="#e41a1a" stroke-width="2"/>
<rect x="880.0" y="150.0" width="141.0" height="30.5" fill="none" stroke="#e41a1a" stroke-width="2"/>
<rect x="801.0" y="189.0" width="219.0" height="31.0" fill="none" stroke="#e41a1a" stroke-width="2"/>
<rect x="1240.0" y="63.0" width="17.5" height="26.0" fill="#f4a24c"/>
<rect x="1240.0" y="124.5" width="17.5" height="27.5" fill="#e81010"/>
<rect x="1240.0" y="179.0" width="17.5" height="27.0" fill="#3bbcd8"/>
<text x="1261.5" y="73.0" font-family="Liberation Serif" font-size="18.5">Environmental</text>
<text x="1261.5" y="94.5" font-family="Liberation Serif" font-size="18.5">infromation</text>
<text x="1261.5" y="116.0" font-family="Liberation Serif" font-size="18.5">processing</text>
<text x="1261.5" y="148.0" font-family="Liberation Serif" font-size="18.5">Human Diseases</text>
<text x="1261.5" y="197.5" font-family="Liberation Serif" font-size="18.5">Organismal</text>
<text x="1261.5" y="219.0" font-family="Liberation Serif" font-size="18.5">Systems</text>
<text x="8.5" y="480.0" font-family="Liberation Serif" font-size="19" font-weight="bold">C</text>
<text x="639.0" y="479.1" font-family="Liberation Serif" font-size="21.5" font-weight="bold" textLength="71.0" lengthAdjust="spacingAndGlyphs">RIP-seq</text>
<rect x="224.0" y="496.5" width="927.0" height="257.5" fill="#fff" stroke="#111" stroke-width="2.2"/>
<line x1="231.0" y1="498.8" x2="1150.0" y2="498.8" stroke="#6666cc" stroke-width="1.2" />
<rect x="225.0" y="499.5" width="925.0" height="253.0" fill="url(#dots)"/>
<path d="M239.0,561.2V555.2H241.8V561.2ZM241.8,561.2V548.0H244.0V561.2ZM244.0,561.2V536.2H249.0V561.2ZM249.0,561.2V539.0H251.1V561.2ZM251.1,561.2V553.9H260.8V561.2ZM260.8,561.2V555.2H263.7V561.2ZM263.7,561.2V557.3H266.2V561.2ZM266.2,561.2V550.8H269.1V561.2ZM269.1,561.2V528.8H273.9V561.2ZM273.9,561.2V533.0H279.1V561.2ZM279.1,561.2V544.0H284.1V561.2ZM284.1,561.2V524.0H288.9V561.2ZM288.9,561.2V531.9H291.1V561.2ZM291.1,561.2V549.1H293.8V561.2ZM293.8,561.2V552.0H296.1V561.2ZM296.1,561.2V555.2H299.0V561.2ZM299.0,561.2V549.1H303.8V561.2ZM303.8,561.2V557.1H308.9V561.2ZM308.9,561.2V511.1H315.9V561.2Z" fill="#ff6a0a"/>
<path d="M343.88,561.23V543.34H348.01V561.23ZM348.01,561.23V547.81H350.76V561.23ZM355.93,561.23V538.18H360.40V561.23ZM508.37,561.23V519.25H515.94V561.23ZM515.94,561.23V534.74H521.10V561.23ZM531.42,561.23V520.97H538.31V561.23ZM538.31,561.23V538.18H543.47V561.23ZM543.47,561.23V555.38H545.19V561.23ZM548.63,561.23V549.19H553.79V561.23ZM584.07,561.23V538.18H586.48V561.23ZM586.48,561.23V524.41H590.96V561.23ZM590.96,561.23V514.09H597.84V561.23ZM626.06,561.23V543.34H632.94V561.23Z" fill="#ff6a0a"/>
<path d="M726.13,561.23V546.09H731.29V561.23ZM731.29,561.23V530.26H735.42V561.23ZM735.42,561.23V538.18H740.58V561.23ZM788.07,561.23V549.19H792.55V561.23ZM852.77,561.23V552.63H855.18V561.23ZM855.18,561.23V546.09H857.93V561.23ZM857.93,561.23V544.03H860.34V561.23ZM860.34,561.23V539.21H863.09V561.23ZM863.09,561.23V531.98H867.91V561.23ZM968.05,561.23V522.69H971.49V561.23ZM971.49,561.23V519.25H978.37V561.23ZM978.37,561.23V520.97H982.50V561.23ZM982.50,561.23V528.89H985.25V561.23ZM1008.31,561.23V540.93H1012.78V561.23ZM1025.51,561.23V540.93H1029.99V561.23Z" fill="#ff6a0a"/>
<path d="M238.93,624.21V613.88H244.09V624.21ZM244.09,624.21V609.41H248.22V624.21ZM248.22,624.21V615.60H254.41V624.21ZM254.41,624.21V621.45H264.74V624.21ZM264.74,624.21V621.45H268.86V624.21ZM268.86,624.21V605.97H274.03V624.21ZM274.03,624.21V583.94H279.19V624.21ZM279.19,624.21V598.40H283.66V624.21ZM283.66,624.21V574.31H288.82V624.21ZM288.82,624.21V593.23H291.58V624.21ZM291.58,624.21V620.76H295.02V624.21ZM299.15,624.21V620.08H308.78V624.21ZM308.78,624.21V613.88H315.66V624.21ZM343.88,624.21V616.63H349.04V624.21ZM349.04,624.21V620.76H350.76V624.21ZM355.93,624.21V610.44H360.40V624.21ZM508.37,624.21V609.06H515.94V624.21ZM515.94,624.21V605.62H521.10V624.21ZM531.42,624.21V602.18H535.90V624.21ZM535.90,624.21V608.72H538.31V624.21ZM538.31,624.21V623.52H543.47V624.21ZM548.63,624.21V615.60H553.79V624.21ZM584.07,624.21V612.16H597.84V624.21ZM626.06,624.21V621.11H632.94V624.21Z" fill="#050505"/>
<path d="M726.13,624.21V618.01H731.29V624.21ZM731.29,624.21V604.25H735.42V624.21ZM735.42,624.21V614.91H740.58V624.21ZM788.07,624.21V621.11H792.55V624.21ZM852.77,624.21V621.11H857.93V624.21ZM860.34,624.21V620.08H863.09V624.21ZM863.09,624.21V612.16H867.91V624.21ZM968.05,624.21V609.75H973.21V624.21ZM973.21,624.21V612.16H978.37V624.21ZM978.37,624.21V612.85H980.78V624.21ZM980.78,624.21V607.34H985.25V624.21ZM1008.31,624.21V612.16H1012.78V624.21ZM1025.51,624.21V609.41H1029.99V624.21Z" fill="#050505"/>
<path d="M238.93,687.18V680.98H244.09V687.18ZM244.09,687.18V671.69H248.22V687.18ZM248.22,687.18V675.82H254.41V687.18ZM254.41,687.18V684.77H257.85V687.18ZM257.85,687.18V681.67H264.74V687.18ZM264.74,687.18V685.46H268.86V687.18ZM268.86,687.18V659.65H274.03V687.18ZM274.03,687.18V637.28H279.19V687.18ZM279.19,687.18V662.06H283.66V687.18ZM283.66,687.18V642.10H288.82V687.18ZM288.82,687.18V655.18H291.58V687.18ZM291.58,687.18V668.25H296.39V687.18ZM296.39,687.18V676.51H308.78V687.18ZM308.78,687.18V651.05H315.66V687.18ZM343.88,687.18V667.22H348.01V687.18ZM348.01,687.18V675.82H350.76V687.18ZM355.93,687.18V669.97H360.40V687.18ZM508.37,687.18V662.06H515.94V687.18ZM515.94,687.18V664.12H521.10V687.18ZM531.42,687.18V661.03H538.31V687.18ZM538.31,687.18V678.23H543.47V687.18ZM543.47,687.18V680.98H546.22V687.18ZM548.63,687.18V675.82H553.79V687.18ZM584.07,687.18V667.22H586.48V687.18ZM586.48,687.18V661.03H595.09V687.18ZM595.09,687.18V667.22H597.84V687.18ZM626.06,687.18V678.23H632.94V687.18Z" fill="#1e96ee"/>
<path d="M726.13,687.18V673.41H731.29V687.18ZM731.29,687.18V653.11H735.42V687.18ZM735.42,687.18V668.25H740.58V687.18ZM788.07,687.18V676.17H792.55V687.18ZM852.77,687.18V679.61H857.93V687.18ZM857.93,687.18V676.17H863.09V687.18ZM863.09,687.18V665.50H867.91V687.18ZM968.05,687.18V661.03H973.90V687.18ZM973.90,687.18V662.06H978.37V687.18ZM978.37,687.18V657.24H981.81V687.18ZM981.81,687.18V656.21H985.25V687.18ZM1008.31,687.18V651.05H1012.78V687.18ZM1025.51,687.18V646.92H1029.99V687.18Z" fill="#1e96ee"/>
<path d="M238.93,749.81V741.89H244.09V749.81ZM244.09,749.81V741.20H253.72V749.81ZM253.72,749.81V748.09H264.74V749.81ZM264.74,749.81V744.65H268.86V749.81ZM268.86,749.81V720.56H274.03V749.81ZM274.03,749.81V699.91H279.19V749.81ZM279.19,749.81V722.28H283.66V749.81ZM283.66,749.81V723.31H288.82V749.81ZM288.82,749.81V737.76H291.58V749.81ZM291.58,749.81V746.37H299.15V749.81ZM299.15,749.81V745.68H304.31V749.81ZM308.78,749.81V733.29H315.66V749.81ZM343.88,749.81V741.20H348.01V749.81ZM348.01,749.81V746.37H350.76V749.81ZM355.93,749.81V747.05H360.40V749.81ZM508.37,749.81V744.65H512.50V749.81ZM512.50,749.81V746.71H515.94V749.81ZM515.94,749.81V746.02H521.10V749.81ZM531.42,749.81V743.61H534.87V749.81ZM534.87,749.81V739.14H538.31V749.81ZM538.31,749.81V747.05H543.47V749.81ZM548.63,749.81V748.43H553.79V749.81ZM584.07,749.81V742.24H590.96V749.81ZM590.96,749.81V744.65H597.84V749.81ZM626.06,749.81V747.05H632.94V749.81Z" fill="#050505"/>
<path d="M726.13,749.81V747.05H734.74V749.81ZM734.74,749.81V748.77H740.58V749.81ZM788.07,749.81V748.77H792.55V749.81ZM818.36,749.81V748.77H823.52V749.81ZM852.77,749.81V748.77H860.34V749.81ZM860.34,749.81V746.71H863.09V749.81ZM863.09,749.81V741.20H867.91V749.81ZM968.05,749.81V739.14H977.34V749.81ZM977.34,749.81V742.24H985.25V749.81ZM1008.31,749.81V745.68H1012.78V749.81ZM1025.51,749.81V741.20H1029.99V749.81Z" fill="#050505"/>
<line x1="231.0" y1="561.2" x2="1150.0" y2="561.2" stroke="#ff6a0a" stroke-width="1.4" />
<line x1="231.0" y1="624.2" x2="1150.0" y2="624.2" stroke="#111" stroke-width="1.4" />
<line x1="231.0" y1="687.2" x2="1150.0" y2="687.2" stroke="#1e96ee" stroke-width="1.6" />
<line x1="231.0" y1="749.8" x2="1150.0" y2="749.8" stroke="#111" stroke-width="1.4" />
<rect x="465.0" y="497.5" width="98.0" height="256.0" fill="#f2937c" fill-opacity="0.58"/>
<text x="240.0" y="514.0" font-family="Liberation Sans" font-size="13" fill="#111" textLength="71.0" lengthAdjust="spacingAndGlyphs" stroke="#111" stroke-width="0.35">[0 - 2.31]</text>
<text x="240.0" y="577.5" font-family="Liberation Sans" font-size="13" fill="#111" textLength="71.0" lengthAdjust="spacingAndGlyphs" stroke="#111" stroke-width="0.35">[0 - 2.10]</text>
<text x="240.0" y="640.5" font-family="Liberation Sans" font-size="13" fill="#111" textLength="71.0" lengthAdjust="spacingAndGlyphs" stroke="#111" stroke-width="0.35">[0 - 3.89]</text>
<text x="240.0" y="703.0" font-family="Liberation Sans" font-size="13" fill="#111" textLength="71.0" lengthAdjust="spacingAndGlyphs" stroke="#111" stroke-width="0.35">[0 - 3.48]</text>
<text x="248.0" y="598.0" font-family="Liberation Serif" font-size="19" font-weight="bold">c</text>
<text x="135.5" y="550.0" font-family="Liberation Serif" font-size="21" textLength="67.7" lengthAdjust="spacingAndGlyphs">SiHa-IP</text>
<text x="112.9" y="613.0" font-family="Liberation Serif" font-size="21" textLength="92.8" lengthAdjust="spacingAndGlyphs">SiHa-input</text>
<text x="40.1" y="676.0" font-family="Liberation Serif" font-size="21" textLength="161.6" lengthAdjust="spacingAndGlyphs">YTHDF3<tspan font-size="12" dy="-8">-/-</tspan><tspan dy="8">SiHa-IP</tspan></text>
<text x="26.1" y="736.0" font-family="Liberation Serif" font-size="21" textLength="186.0" lengthAdjust="spacingAndGlyphs">YTHDF3<tspan font-size="12" dy="-8">-/-</tspan><tspan dy="8">SiHa-input</tspan></text>
<line x1="215.5" y1="792.5" x2="1140.0" y2="792.5" stroke="#cfcfcf" stroke-width="1" />
<line x1="215.5" y1="803.2" x2="1113.5" y2="803.2" stroke="#222" stroke-width="1" />
<rect x="215.5" y="800.0" width="31.0" height="6.6" fill="#333"/>
<rect x="246.1" y="796.7" width="1.8" height="13.0" fill="#333"/>
<rect x="257.1" y="796.7" width="1.8" height="13.0" fill="#333"/>
<rect x="261.1" y="796.7" width="1.8" height="13.0" fill="#333"/>
<rect x="323.7" y="796.7" width="1.8" height="13.0" fill="#333"/>
<rect x="331.6" y="796.7" width="1.8" height="13.0" fill="#333"/>
<rect x="335.1" y="796.7" width="1.8" height="13.0" fill="#333"/>
<rect x="338.1" y="796.7" width="1.8" height="13.0" fill="#333"/>
<rect x="352.1" y="796.7" width="1.8" height="13.0" fill="#333"/>
<rect x="355.1" y="796.7" width="1.8" height="13.0" fill="#333"/>
<rect x="368.7" y="796.7" width="1.8" height="13.0" fill="#333"/>
<rect x="433.1" y="796.7" width="1.8" height="13.0" fill="#333"/>
<rect x="459.6" y="796.7" width="1.8" height="13.0" fill="#333"/>
<rect x="462.1" y="796.7" width="1.8" height="13.0" fill="#333"/>
<rect x="504.7" y="796.7" width="1.8" height="13.0" fill="#333"/>
<rect x="508.1" y="796.7" width="1.8" height="13.0" fill="#333"/>
<rect x="520.1" y="796.7" width="1.8" height="13.0" fill="#333"/>
<rect x="526.7" y="796.7" width="1.8" height="13.0" fill="#333"/>
<rect x="601.7" y="796.7" width="1.8" height="13.0" fill="#333"/>
<rect x="613.1" y="796.7" width="1.8" height="13.0" fill="#333"/>
<rect x="635.1" y="796.7" width="1.8" height="13.0" fill="#333"/>
<rect x="408.0" y="796.7" width="5.0" height="13.0" fill="#333"/>
<path d="M281.8,800.7 L279.3,803.2 L281.8,805.7" fill="none" stroke="#333" stroke-width="0.9"/>
<path d="M311.4,800.7 L308.9,803.2 L311.4,805.7" fill="none" stroke="#333" stroke-width="0.9"/>
<path d="M387.8,800.7 L385.3,803.2 L387.8,805.7" fill="none" stroke="#333" stroke-width="0.9"/>
<path d="M430.8,800.7 L428.3,803.2 L430.8,805.7" fill="none" stroke="#333" stroke-width="0.9"/>
<path d="M451.5,800.7 L449.0,803.2 L451.5,805.7" fill="none" stroke="#333" stroke-width="0.9"/>
<path d="M482.5,800.7 L480.0,803.2 L482.5,805.7" fill="none" stroke="#333" stroke-width="0.9"/>
<path d="M546.0,800.7 L543.5,803.2 L546.0,805.7" fill="none" stroke="#333" stroke-width="0.9"/>
<path d="M576.0,800.7 L573.5,803.2 L576.0,805.7" fill="none" stroke="#333" stroke-width="0.9"/>
<path d="M633.9,800.7 L631.4,803.2 L633.9,805.7" fill="none" stroke="#333" stroke-width="0.9"/>
<path d="M654.5,800.7 L652.0,803.2 L654.5,805.7" fill="none" stroke="#333" stroke-width="0.9"/>
<path d="M684.2,800.7 L681.7,803.2 L684.2,805.7" fill="none" stroke="#333" stroke-width="0.9"/>
<path d="M713.9,800.7 L711.4,803.2 L713.9,805.7" fill="none" stroke="#333" stroke-width="0.9"/>
<path d="M743.6,800.7 L741.1,803.2 L743.6,805.7" fill="none" stroke="#333" stroke-width="0.9"/>
<path d="M773.3,800.7 L770.8,803.2 L773.3,805.7" fill="none" stroke="#333" stroke-width="0.9"/>
<path d="M803.0,800.7 L800.5,803.2 L803.0,805.7" fill="none" stroke="#333" stroke-width="0.9"/>
<path d="M832.7,800.7 L830.2,803.2 L832.7,805.7" fill="none" stroke="#333" stroke-width="0.9"/>
<path d="M862.4,800.7 L859.9,803.2 L862.4,805.7" fill="none" stroke="#333" stroke-width="0.9"/>
<path d="M892.1,800.7 L889.6,803.2 L892.1,805.7" fill="none" stroke="#333" stroke-width="0.9"/>
<path d="M921.8,800.7 L919.3,803.2 L921.8,805.7" fill="none" stroke="#333" stroke-width="0.9"/>
<path d="M951.5,800.7 L949.0,803.2 L951.5,805.7" fill="none" stroke="#333" stroke-width="0.9"/>
<path d="M981.2,800.7 L978.7,803.2 L981.2,805.7" fill="none" stroke="#333" stroke-width="0.9"/>
<path d="M1010.9,800.7 L1008.4,803.2 L1010.9,805.7" fill="none" stroke="#333" stroke-width="0.9"/>
<path d="M1040.6,800.7 L1038.1,803.2 L1040.6,805.7" fill="none" stroke="#333" stroke-width="0.9"/>
<path d="M1070.3,800.7 L1067.8,803.2 L1070.3,805.7" fill="none" stroke="#333" stroke-width="0.9"/>
<path d="M1100.0,800.7 L1097.5,803.2 L1100.0,805.7" fill="none" stroke="#333" stroke-width="0.9"/>
<rect x="1112.0" y="799.2" width="2.5" height="8.0" fill="#333"/>
<text x="106.5" y="807.0" font-family="Liberation Serif" font-size="20" font-weight="bold" textLength="64.0" lengthAdjust="spacingAndGlyphs">STAT3</text>
<text x="8.6" y="835.0" font-family="Liberation Serif" font-size="19" font-weight="bold">D</text>
<text x="606.7" y="863.7" font-family="Liberation Serif" font-size="20" font-weight="bold" textLength="78.8" lengthAdjust="spacingAndGlyphs">Ribo-seq</text>
<rect x="188.0" y="891.5" width="798.5" height="207.0" fill="#fff" stroke="#111" stroke-width="2.4"/>
<rect x="189.0" y="893.0" width="796.0" height="204.0" fill="url(#dots)"/>
<path d="M273.98,991.51V972.58H279.57V991.51ZM279.57,991.51V979.03H284.73V991.51ZM388.39,991.51V974.30H392.69V991.51ZM392.69,991.51V984.19H395.70V991.51ZM402.15,991.51V988.49H407.74V991.51ZM407.74,991.51V984.19H412.90V991.51ZM412.90,991.51V987.20H418.06V991.51ZM437.85,991.51V976.45H442.15V991.51ZM442.15,991.51V982.04H445.16V991.51ZM445.16,991.51V984.19H449.46V991.51ZM466.67,991.51V979.03H470.97V991.51ZM534.19,991.51V986.34H539.78V991.51ZM539.78,991.51V982.04H544.09V991.51ZM578.49,991.51V982.04H582.80V991.51Z" fill="#f5a023"/>
<path d="M577.35,991.42V981.96H582.08V991.42ZM624.04,991.42V981.96H627.82V991.42ZM627.82,991.42V979.43H632.56V991.42ZM632.56,991.42V981.96H635.71V991.42ZM701.01,991.42V984.16H705.11V991.42ZM705.11,991.42V986.69H708.26V991.42ZM709.84,991.42V986.06H714.57V991.42ZM730.35,991.42V981.96H733.50V991.42ZM733.50,991.42V985.74H736.66V991.42ZM742.02,991.42V971.86H746.12V991.42ZM891.23,991.42V957.35H897.54V991.42ZM897.54,991.42V984.16H900.69V991.42ZM930.03,991.42V984.16H933.82V991.42ZM933.82,991.42V986.69H937.60V991.42Z" fill="#f5a023"/>
<path d="M273.98,1090.43V1085.27H278.71V1090.43ZM278.71,1090.43V1081.83H282.58V1090.43ZM282.58,1090.43V1078.39H288.17V1090.43ZM388.39,1090.43V1083.12H393.55V1090.43ZM404.30,1090.43V1088.71H407.74V1090.43ZM407.74,1090.43V1078.39H412.90V1090.43ZM412.90,1090.43V1087.42H417.20V1090.43ZM437.85,1090.43V1086.13H447.31V1090.43ZM447.31,1090.43V1088.28H449.46V1090.43ZM468.82,1090.43V1083.55H473.12V1090.43ZM536.77,1090.43V1080.97H542.80V1090.43ZM542.80,1090.43V1086.13H548.39V1090.43Z" fill="#1c93e6"/>
<path d="M624.04,1090.79V1088.58H627.82V1090.79ZM627.82,1090.79V1081.32H635.71V1090.79ZM701.01,1090.79V1086.06H705.11V1090.79ZM705.11,1090.79V1088.58H713.00V1090.79ZM730.35,1090.79V1078.17H734.45V1090.79ZM734.45,1090.79V1087.63H742.02V1090.79ZM742.02,1090.79V1081.32H746.12V1090.79ZM872.30,1090.79V1088.26H877.03V1090.79ZM891.23,1090.79V1082.90H895.96V1090.79ZM895.96,1090.79V1087.63H900.69V1090.79ZM930.03,1090.79V1082.90H934.76V1090.79ZM934.76,1090.79V1087.63H937.60V1090.79Z" fill="#1c93e6"/>
<line x1="189.0" y1="991.5" x2="985.0" y2="991.5" stroke="#f5a023" stroke-width="2.2" />
<line x1="189.0" y1="1090.6" x2="985.0" y2="1090.6" stroke="#1c93e6" stroke-width="2.2" />
<rect x="873.0" y="892.5" width="68.0" height="205.5" fill="#f2937c" fill-opacity="0.58"/>
<text x="198.7" y="917.5" font-family="Liberation Sans" font-size="17" fill="#111" textLength="64.5" lengthAdjust="spacingAndGlyphs">[0 - 110]</text>
<text x="198.7" y="1017.0" font-family="Liberation Sans" font-size="17" fill="#111" textLength="64.5" lengthAdjust="spacingAndGlyphs">[0 - 159]</text>
<text x="119.0" y="938.0" font-family="Liberation Serif" font-size="21" textLength="42.0" lengthAdjust="spacingAndGlyphs">SiHa</text>
<text x="29.0" y="1066.0" font-family="Liberation Serif" font-size="21" textLength="136.6" lengthAdjust="spacingAndGlyphs">YTHDF3<tspan font-size="12" dy="-8">-/-</tspan><tspan dy="8">SiHa</tspan></text>
<line x1="190.0" y1="1119.0" x2="978.0" y2="1119.0" stroke="#cfcfcf" stroke-width="1" />
<line x1="190.0" y1="1128.5" x2="956.0" y2="1128.5" stroke="#222" stroke-width="1" />
<rect x="190.0" y="1125.3" width="25.5" height="6.6" fill="#333"/>
<rect x="213.1" y="1122.5" width="1.8" height="12.0" fill="#333"/>
<rect x="226.1" y="1122.5" width="1.8" height="12.0" fill="#333"/>
<rect x="228.6" y="1122.5" width="1.8" height="12.0" fill="#333"/>
<rect x="281.1" y="1122.5" width="1.8" height="12.0" fill="#333"/>
<rect x="289.1" y="1122.5" width="1.8" height="12.0" fill="#333"/>
<rect x="291.6" y="1122.5" width="1.8" height="12.0" fill="#333"/>
<rect x="294.1" y="1122.5" width="1.8" height="12.0" fill="#333"/>
<rect x="305.1" y="1122.5" width="1.8" height="12.0" fill="#333"/>
<rect x="307.6" y="1122.5" width="1.8" height="12.0" fill="#333"/>
<rect x="319.1" y="1122.5" width="1.8" height="12.0" fill="#333"/>
<rect x="373.1" y="1122.5" width="1.8" height="12.0" fill="#333"/>
<rect x="395.1" y="1122.5" width="1.8" height="12.0" fill="#333"/>
<rect x="397.6" y="1122.5" width="1.8" height="12.0" fill="#333"/>
<rect x="436.1" y="1122.5" width="1.8" height="12.0" fill="#333"/>
<rect x="439.1" y="1122.5" width="1.8" height="12.0" fill="#333"/>
<rect x="448.1" y="1122.5" width="1.8" height="12.0" fill="#333"/>
<rect x="453.1" y="1122.5" width="1.8" height="12.0" fill="#333"/>
<rect x="517.1" y="1122.5" width="1.8" height="12.0" fill="#333"/>
<rect x="527.1" y="1122.5" width="1.8" height="12.0" fill="#333"/>
<rect x="546.1" y="1122.5" width="1.8" height="12.0" fill="#333"/>
<rect x="353.0" y="1122.5" width="5.0" height="12.0" fill="#333"/>
<path d="M245.0,1126.0 L242.5,1128.5 L245.0,1131.0" fill="none" stroke="#333" stroke-width="0.9"/>
<path d="M270.0,1126.0 L267.5,1128.5 L270.0,1131.0" fill="none" stroke="#333" stroke-width="0.9"/>
<path d="M335.0,1126.0 L332.5,1128.5 L335.0,1131.0" fill="none" stroke="#333" stroke-width="0.9"/>
<path d="M372.0,1126.0 L369.5,1128.5 L372.0,1131.0" fill="none" stroke="#333" stroke-width="0.9"/>
<path d="M392.0,1126.0 L389.5,1128.5 L392.0,1131.0" fill="none" stroke="#333" stroke-width="0.9"/>
<path d="M416.0,1126.0 L413.5,1128.5 L416.0,1131.0" fill="none" stroke="#333" stroke-width="0.9"/>
<path d="M472.0,1126.0 L469.5,1128.5 L472.0,1131.0" fill="none" stroke="#333" stroke-width="0.9"/>
<path d="M496.0,1126.0 L493.5,1128.5 L496.0,1131.0" fill="none" stroke="#333" stroke-width="0.9"/>
<path d="M540.0,1126.0 L537.5,1128.5 L540.0,1131.0" fill="none" stroke="#333" stroke-width="0.9"/>
<path d="M562.0,1126.0 L559.5,1128.5 L562.0,1131.0" fill="none" stroke="#333" stroke-width="0.9"/>
<path d="M587.0,1126.0 L584.5,1128.5 L587.0,1131.0" fill="none" stroke="#333" stroke-width="0.9"/>
<path d="M613.0,1126.0 L610.5,1128.5 L613.0,1131.0" fill="none" stroke="#333" stroke-width="0.9"/>
<path d="M638.0,1126.0 L635.5,1128.5 L638.0,1131.0" fill="none" stroke="#333" stroke-width="0.9"/>
<path d="M664.0,1126.0 L661.5,1128.5 L664.0,1131.0" fill="none" stroke="#333" stroke-width="0.9"/>
<path d="M689.0,1126.0 L686.5,1128.5 L689.0,1131.0" fill="none" stroke="#333" stroke-width="0.9"/>
<path d="M714.0,1126.0 L711.5,1128.5 L714.0,1131.0" fill="none" stroke="#333" stroke-width="0.9"/>
<path d="M740.0,1126.0 L737.5,1128.5 L740.0,1131.0" fill="none" stroke="#333" stroke-width="0.9"/>
<path d="M765.0,1126.0 L762.5,1128.5 L765.0,1131.0" fill="none" stroke="#333" stroke-width="0.9"/>
<path d="M790.0,1126.0 L787.5,1128.5 L790.0,1131.0" fill="none" stroke="#333" stroke-width="0.9"/>
<path d="M815.0,1126.0 L812.5,1128.5 L815.0,1131.0" fill="none" stroke="#333" stroke-width="0.9"/>
<path d="M840.0,1126.0 L837.5,1128.5 L840.0,1131.0" fill="none" stroke="#333" stroke-width="0.9"/>
<path d="M866.0,1126.0 L863.5,1128.5 L866.0,1131.0" fill="none" stroke="#333" stroke-width="0.9"/>
<path d="M891.0,1126.0 L888.5,1128.5 L891.0,1131.0" fill="none" stroke="#333" stroke-width="0.9"/>
<path d="M916.0,1126.0 L913.5,1128.5 L916.0,1131.0" fill="none" stroke="#333" stroke-width="0.9"/>
<path d="M941.0,1126.0 L938.5,1128.5 L941.0,1131.0" fill="none" stroke="#333" stroke-width="0.9"/>
<rect x="954.5" y="1124.5" width="2.5" height="8.0" fill="#333"/>
<text x="101.0" y="1136.0" font-family="Liberation Serif" font-size="20" font-weight="bold" textLength="66.0" lengthAdjust="spacingAndGlyphs">STAT3</text>
<text x="1138.6" y="819.9" font-family="Liberation Sans" font-size="14.5" font-weight="bold" textLength="168.4" lengthAdjust="spacingAndGlyphs">Cumulative Differential</text>
<text x="1058.8" y="834.8" font-family="Liberation Serif" font-size="18" font-weight="bold">E</text>
<text x="1216.0" y="857.8" font-family="Liberation Sans" font-size="15" font-weight="bold" textLength="17.0" lengthAdjust="spacingAndGlyphs">TE</text>
<rect x="1081.0" y="864.3" width="288.4" height="244.7" fill="#fff" stroke="#444" stroke-width="1"/>
<line x1="1081.0" y1="875.3" x2="1369.4" y2="875.3" stroke="#111" stroke-width="1.6" stroke-dasharray="6,5"/>
<line x1="1081.0" y1="1098.5" x2="1369.4" y2="1098.5" stroke="#111" stroke-width="1.6" stroke-dasharray="6,5"/>
<line x1="1213.0" y1="864.3" x2="1213.0" y2="1109.0" stroke="#111" stroke-width="1.6" stroke-dasharray="6,5"/>
<path d="M1081.1,1098.3 L1082.9,1098.3 L1084.7,1098.2 L1086.5,1098.2 L1088.2,1098.2 L1090.0,1098.1 L1091.8,1098.1 L1093.6,1098.0 L1095.4,1098.0 L1097.2,1097.9 L1099.0,1097.9 L1100.8,1097.8 L1102.6,1097.8 L1104.4,1097.7 L1106.2,1097.6 L1108.0,1097.5 L1109.8,1097.4 L1111.6,1097.3 L1113.4,1097.1 L1115.2,1097.0 L1117.0,1096.9 L1118.8,1096.7 L1120.6,1096.5 L1122.4,1096.3 L1124.1,1096.0 L1125.9,1095.8 L1127.7,1095.5 L1129.5,1095.2 L1131.3,1094.9 L1133.1,1094.5 L1134.9,1094.1 L1136.7,1093.6 L1138.5,1093.1 L1140.3,1092.6 L1142.1,1092.0 L1143.9,1091.3 L1145.7,1090.6 L1147.5,1089.8 L1149.3,1088.9 L1151.1,1087.9 L1152.9,1086.9 L1154.7,1085.7 L1156.5,1084.4 L1158.3,1083.1 L1160.0,1081.6 L1161.8,1079.9 L1163.6,1078.2 L1165.4,1076.2 L1167.2,1074.1 L1169.0,1071.9 L1170.8,1069.5 L1172.6,1066.8 L1174.4,1064.0 L1176.2,1061.0 L1178.0,1057.8 L1179.8,1054.3 L1181.6,1050.7 L1183.4,1046.8 L1185.2,1042.8 L1187.0,1038.5 L1188.8,1034.0 L1190.6,1029.3 L1192.4,1024.4 L1194.2,1019.4 L1195.9,1014.2 L1197.7,1008.9 L1199.5,1003.5 L1201.3,998.0 L1203.1,992.5 L1204.9,986.9 L1206.7,981.8 L1208.5,976.8 L1210.3,971.8 L1212.1,966.8 L1213.9,962.0 L1215.7,957.2 L1217.5,952.5 L1219.3,948.0 L1221.1,943.6 L1222.9,939.4 L1224.7,935.3 L1226.5,931.4 L1228.3,927.7 L1230.1,924.1 L1231.8,920.8 L1233.6,917.6 L1235.4,914.5 L1237.2,911.7 L1239.0,909.0 L1240.8,906.5 L1242.6,904.1 L1244.4,901.9 L1246.2,899.8 L1248.0,897.9 L1249.8,896.1 L1251.6,894.5 L1253.4,893.0 L1255.2,891.5 L1257.0,890.2 L1258.8,889.0 L1260.6,887.9 L1262.4,886.8 L1264.2,885.9 L1266.0,885.0 L1267.7,884.2 L1269.5,883.5 L1271.3,882.8 L1273.1,882.1 L1274.9,881.6 L1276.7,881.0 L1278.5,880.5 L1280.3,880.1 L1282.1,879.7 L1283.9,879.3 L1285.7,879.0 L1287.5,878.7 L1289.3,878.4 L1291.1,878.1 L1292.9,877.9 L1294.7,877.6 L1296.5,877.4 L1298.3,877.3 L1300.1,877.1 L1301.9,876.9 L1303.6,876.8 L1305.4,876.7 L1307.2,876.5 L1309.0,876.4 L1310.8,876.3 L1312.6,876.3 L1314.4,876.2 L1316.2,876.1 L1318.0,876.0 L1319.8,876.0 L1321.6,875.9 L1323.4,875.9 L1325.2,875.8 L1327.0,875.8 L1328.8,875.7 L1330.6,875.7 L1332.4,875.7 L1334.2,875.6 L1336.0,875.6 L1337.8,875.6 L1339.5,875.5 L1341.3,875.5 L1343.1,875.5 L1344.9,875.5 L1346.7,875.5 L1348.5,875.5 L1350.3,875.4 L1352.1,875.4 L1353.9,875.4 L1355.7,875.4 L1357.5,875.4 L1359.3,875.4 L1361.1,875.4 L1362.9,875.4 L1364.7,875.4 L1366.5,875.4 L1368.3,875.4" fill="none" stroke="#ee1111" stroke-width="3.6"/>
<path d="M1081.1,1098.5 L1082.9,1098.5 L1084.7,1098.5 L1086.5,1098.5 L1088.2,1098.5 L1090.0,1098.5 L1091.8,1098.4 L1093.6,1098.4 L1095.4,1098.4 L1097.2,1098.4 L1099.0,1098.4 L1100.8,1098.4 L1102.6,1098.4 L1104.4,1098.4 L1106.2,1098.4 L1108.0,1098.3 L1109.8,1098.3 L1111.6,1098.3 L1113.4,1098.3 L1115.2,1098.3 L1117.0,1098.2 L1118.8,1098.2 L1120.6,1098.2 L1122.4,1098.1 L1124.1,1098.1 L1125.9,1098.0 L1127.7,1097.9 L1129.5,1097.9 L1131.3,1097.8 L1133.1,1097.7 L1134.9,1097.6 L1136.7,1097.5 L1138.5,1097.4 L1140.3,1097.2 L1142.1,1097.1 L1143.9,1096.9 L1145.7,1096.7 L1147.5,1096.5 L1149.3,1096.2 L1151.1,1095.9 L1152.9,1095.6 L1154.7,1095.3 L1156.5,1094.9 L1158.3,1094.4 L1160.0,1093.9 L1161.8,1093.4 L1163.6,1092.8 L1165.4,1092.1 L1167.2,1091.3 L1169.0,1090.4 L1170.8,1089.5 L1172.6,1088.4 L1174.4,1087.2 L1176.2,1085.8 L1178.0,1084.4 L1179.8,1082.7 L1181.6,1080.9 L1183.4,1078.9 L1185.2,1076.7 L1187.0,1074.3 L1188.8,1071.6 L1190.6,1068.7 L1192.4,1065.5 L1194.2,1062.1 L1195.9,1058.4 L1197.7,1054.3 L1199.5,1050.0 L1201.3,1045.4 L1203.1,1040.5 L1204.9,1035.3 L1206.7,1029.9 L1208.5,1024.1 L1210.3,1018.2 L1212.1,1012.1 L1213.9,1005.8 L1215.7,999.3 L1217.5,992.8 L1219.3,986.2 L1221.1,978.7 L1222.9,971.4 L1224.7,964.2 L1226.5,957.1 L1228.3,950.4 L1230.1,943.9 L1231.8,937.7 L1233.6,931.9 L1235.4,926.4 L1237.2,921.4 L1239.0,916.7 L1240.8,912.4 L1242.6,908.4 L1244.4,904.8 L1246.2,901.6 L1248.0,898.7 L1249.8,896.0 L1251.6,893.6 L1253.4,891.5 L1255.2,889.6 L1257.0,887.9 L1258.8,886.4 L1260.6,885.1 L1262.4,883.9 L1264.2,882.9 L1266.0,882.0 L1267.7,881.2 L1269.5,880.4 L1271.3,879.8 L1273.1,879.3 L1274.9,878.8 L1276.7,878.3 L1278.5,878.0 L1280.3,877.6 L1282.1,877.4 L1283.9,877.1 L1285.7,876.9 L1287.5,876.7 L1289.3,876.5 L1291.1,876.4 L1292.9,876.2 L1294.7,876.1 L1296.5,876.0 L1298.3,875.9 L1300.1,875.8 L1301.9,875.8 L1303.6,875.7 L1305.4,875.7 L1307.2,875.6 L1309.0,875.6 L1310.8,875.5 L1312.6,875.5 L1314.4,875.5 L1316.2,875.5 L1318.0,875.4 L1319.8,875.4 L1321.6,875.4 L1323.4,875.4 L1325.2,875.4 L1327.0,875.4 L1328.8,875.4 L1330.6,875.4 L1332.4,875.3 L1334.2,875.3 L1336.0,875.3 L1337.8,875.3 L1339.5,875.3 L1341.3,875.3 L1343.1,875.3 L1344.9,875.3 L1346.7,875.3 L1348.5,875.3 L1350.3,875.3 L1352.1,875.3 L1353.9,875.3 L1355.7,875.3 L1357.5,875.3 L1359.3,875.3 L1361.1,875.3 L1362.9,875.3 L1364.7,875.3 L1366.5,875.3 L1368.3,875.3" fill="none" stroke="#1515d8" stroke-width="3.6"/>
<line x1="1078.0" y1="875.3" x2="1081.0" y2="875.3" stroke="#444" stroke-width="1" />
<text x="1078.4" y="879.3" font-family="Liberation Sans" font-size="11.5" text-anchor="end" font-weight="bold" font-style="italic" fill="#444">1.00</text>
<line x1="1078.0" y1="931.1" x2="1081.0" y2="931.1" stroke="#444" stroke-width="1" />
<text x="1078.4" y="935.1" font-family="Liberation Sans" font-size="11.5" text-anchor="end" font-weight="bold" font-style="italic" fill="#444">0.75</text>
<line x1="1078.0" y1="986.9" x2="1081.0" y2="986.9" stroke="#444" stroke-width="1" />
<text x="1078.4" y="990.9" font-family="Liberation Sans" font-size="11.5" text-anchor="end" font-weight="bold" font-style="italic" fill="#444">0.50</text>
<line x1="1078.0" y1="1042.7" x2="1081.0" y2="1042.7" stroke="#444" stroke-width="1" />
<text x="1078.4" y="1046.7" font-family="Liberation Sans" font-size="11.5" text-anchor="end" font-weight="bold" font-style="italic" fill="#444">0.25</text>
<line x1="1078.0" y1="1098.5" x2="1081.0" y2="1098.5" stroke="#444" stroke-width="1" />
<text x="1078.4" y="1102.5" font-family="Liberation Sans" font-size="11.5" text-anchor="end" font-weight="bold" font-style="italic" fill="#444">0.00</text>
<line x1="1141.2" y1="1109.0" x2="1141.2" y2="1112.0" stroke="#444" stroke-width="1" />
<text x="1141.2" y="1122.0" font-family="Liberation Sans" font-size="11.5" text-anchor="middle" font-weight="bold" font-style="italic" fill="#444">−4</text>
<line x1="1213.0" y1="1109.0" x2="1213.0" y2="1112.0" stroke="#444" stroke-width="1" />
<text x="1213.0" y="1122.0" font-family="Liberation Sans" font-size="11.5" text-anchor="middle" font-weight="bold" font-style="italic" fill="#444">0</text>
<line x1="1284.8" y1="1109.0" x2="1284.8" y2="1112.0" stroke="#444" stroke-width="1" />
<text x="1284.8" y="1122.0" font-family="Liberation Sans" font-size="11.5" text-anchor="middle" font-weight="bold" font-style="italic" fill="#444">4</text>
<line x1="1356.6" y1="1109.0" x2="1356.6" y2="1112.0" stroke="#444" stroke-width="1" />
<text x="1356.6" y="1122.0" font-family="Liberation Sans" font-size="11.5" text-anchor="middle" font-weight="bold" font-style="italic" fill="#444">8</text>
<text x="1225.0" y="1134.3" font-family="Liberation Sans" font-size="11.5" text-anchor="middle" font-weight="bold">log2FC</text>
<text x="0.0" y="0.0" font-family="Liberation Sans" font-size="11.5" text-anchor="middle" font-weight="bold" transform="translate(1050,987) rotate(-90)">Cumulative fraction</text>
<line x1="1098.0" y1="887.0" x2="1108.5" y2="887.0" stroke="#ee1111" stroke-width="3" />
<line x1="1098.0" y1="901.7" x2="1108.5" y2="901.7" stroke="#1515d8" stroke-width="3" />
<text x="1109.8" y="891.8" font-family="Liberation Sans" font-size="11.5" fill="#ee1111">m6A(−)</text>
<text x="1109.8" y="906.2" font-family="Liberation Sans" font-size="11.5" fill="#ee1111">m6A(+)</text>
<text x="1278.6" y="892.3" font-family="Liberation Serif" font-size="9.5" textLength="67.0" lengthAdjust="spacingAndGlyphs">p-value &lt; 2.2e-16</text>
<text x="8.4" y="1192.8" font-family="Liberation Serif" font-size="19" font-weight="bold">F</text>
<line x1="65.3" y1="1239.5" x2="65.3" y2="1456.7" stroke="#000" stroke-width="2.4" />
<line x1="64.0" y1="1455.7" x2="391.3" y2="1455.7" stroke="#000" stroke-width="2.4" />
<line x1="56.0" y1="1455.7" x2="65.3" y2="1455.7" stroke="#000" stroke-width="2" />
<text x="52.4" y="1460.0" font-family="Liberation Sans" font-size="12" text-anchor="end" font-weight="bold">0</text>
<line x1="56.0" y1="1383.9" x2="65.3" y2="1383.9" stroke="#000" stroke-width="2" />
<text x="52.4" y="1388.2" font-family="Liberation Sans" font-size="12" text-anchor="end" font-weight="bold">1</text>
<line x1="56.0" y1="1312.1" x2="65.3" y2="1312.1" stroke="#000" stroke-width="2" />
<text x="52.4" y="1316.4" font-family="Liberation Sans" font-size="12" text-anchor="end" font-weight="bold">2</text>
<line x1="56.0" y1="1240.3" x2="65.3" y2="1240.3" stroke="#000" stroke-width="2" />
<text x="52.4" y="1244.6" font-family="Liberation Sans" font-size="12" text-anchor="end" font-weight="bold">3</text>
<line x1="116.5" y1="1455.7" x2="116.5" y2="1464.5" stroke="#000" stroke-width="2" />
<text x="116.5" y="1478.5" font-family="Liberation Sans" font-size="12" text-anchor="middle" font-weight="bold">YTHDF3</text>
<line x1="229.1" y1="1455.7" x2="229.1" y2="1464.5" stroke="#000" stroke-width="2" />
<text x="229.1" y="1478.5" font-family="Liberation Sans" font-size="12" text-anchor="middle" font-weight="bold">STAT3</text>
<line x1="339.9" y1="1455.7" x2="339.9" y2="1464.5" stroke="#000" stroke-width="2" />
<text x="339.9" y="1478.5" font-family="Liberation Sans" font-size="12" text-anchor="middle" font-weight="bold">IRF7</text>
<text x="0.0" y="0.0" font-family="Liberation Sans" font-size="11.5" text-anchor="middle" textLength="144.0" lengthAdjust="spacingAndGlyphs" transform="translate(29.5,1350.5) rotate(-90)">Relative mRNA expression</text>
<path d="M74.7,1455.7V1387.5H87.1V1455.7" fill="none" stroke="#1a86d6" stroke-width="2.8" stroke-linejoin="miter"/>
<circle cx="77.0" cy="1389.6" r="4.0" fill="none" stroke="#1a86d6" stroke-width="1.8"/>
<circle cx="81.0" cy="1386.1" r="4.0" fill="none" stroke="#1a86d6" stroke-width="1.8"/>
<circle cx="86.0" cy="1383.9" r="4.0" fill="none" stroke="#1a86d6" stroke-width="1.8"/>
<path d="M98.4,1455.7V1455.7H112.6V1455.7" fill="none" stroke="#f55a14" stroke-width="2.8" stroke-linejoin="miter"/>
<circle cx="101.0" cy="1454.3" r="4.0" fill="none" stroke="#f55a14" stroke-width="1.8"/>
<circle cx="109.0" cy="1454.3" r="4.0" fill="none" stroke="#f55a14" stroke-width="1.8"/>
<path d="M123.0,1455.7V1378.1H135.4V1455.7" fill="none" stroke="#1fa01f" stroke-width="2.8" stroke-linejoin="miter"/>
<circle cx="125.0" cy="1376.7" r="4.0" fill="none" stroke="#1fa01f" stroke-width="1.8"/>
<circle cx="129.0" cy="1375.3" r="4.0" fill="none" stroke="#1fa01f" stroke-width="1.8"/>
<circle cx="133.0" cy="1377.4" r="4.0" fill="none" stroke="#1fa01f" stroke-width="1.8"/>
<path d="M147.7,1455.7V1416.2H158.2V1455.7" fill="none" stroke="#000" stroke-width="2.8" stroke-linejoin="miter"/>
<circle cx="150.0" cy="1418.4" r="4.0" fill="none" stroke="#000" stroke-width="1.8"/>
<circle cx="154.0" cy="1412.6" r="4.0" fill="none" stroke="#000" stroke-width="1.8"/>
<circle cx="157.0" cy="1412.6" r="4.0" fill="none" stroke="#000" stroke-width="1.8"/>
<path d="M186.8,1455.7V1385.3H199.2V1455.7" fill="none" stroke="#1a86d6" stroke-width="2.8" stroke-linejoin="miter"/>
<circle cx="189.0" cy="1386.1" r="4.0" fill="none" stroke="#1a86d6" stroke-width="1.8"/>
<circle cx="193.0" cy="1380.3" r="4.0" fill="none" stroke="#1a86d6" stroke-width="1.8"/>
<circle cx="197.0" cy="1383.9" r="4.0" fill="none" stroke="#1a86d6" stroke-width="1.8"/>
<path d="M210.4,1455.7V1401.1H222.6V1455.7" fill="none" stroke="#f55a14" stroke-width="2.8" stroke-linejoin="miter"/>
<circle cx="213.0" cy="1399.7" r="4.0" fill="none" stroke="#f55a14" stroke-width="1.8"/>
<circle cx="217.0" cy="1399.7" r="4.0" fill="none" stroke="#f55a14" stroke-width="1.8"/>
<circle cx="221.0" cy="1399.7" r="4.0" fill="none" stroke="#f55a14" stroke-width="1.8"/>
<path d="M234.4,1455.7V1385.3H246.6V1455.7" fill="none" stroke="#1fa01f" stroke-width="2.8" stroke-linejoin="miter"/>
<circle cx="237.0" cy="1384.6" r="4.0" fill="none" stroke="#1fa01f" stroke-width="1.8"/>
<circle cx="241.0" cy="1382.5" r="4.0" fill="none" stroke="#1fa01f" stroke-width="1.8"/>
<circle cx="245.0" cy="1383.9" r="4.0" fill="none" stroke="#1fa01f" stroke-width="1.8"/>
<path d="M259.0,1455.7V1412.6H271.4V1455.7" fill="none" stroke="#000" stroke-width="2.8" stroke-linejoin="miter"/>
<circle cx="261.0" cy="1411.2" r="4.0" fill="none" stroke="#000" stroke-width="1.8"/>
<circle cx="265.0" cy="1410.5" r="4.0" fill="none" stroke="#000" stroke-width="1.8"/>
<circle cx="269.0" cy="1411.2" r="4.0" fill="none" stroke="#000" stroke-width="1.8"/>
<path d="M297.4,1455.7V1381.7H310.1V1455.7" fill="none" stroke="#1a86d6" stroke-width="2.8" stroke-linejoin="miter"/>
<line x1="303.8" y1="1391.1" x2="303.8" y2="1362.4" stroke="#1a86d6" stroke-width="1.2" />
<line x1="299.8" y1="1391.1" x2="307.8" y2="1391.1" stroke="#1a86d6" stroke-width="1.2" />
<line x1="299.8" y1="1362.4" x2="307.8" y2="1362.4" stroke="#1a86d6" stroke-width="1.2" />
<circle cx="299.0" cy="1383.9" r="4.0" fill="none" stroke="#1a86d6" stroke-width="1.8"/>
<circle cx="303.5" cy="1360.9" r="4.0" fill="none" stroke="#1a86d6" stroke-width="1.8"/>
<circle cx="308.0" cy="1383.9" r="4.0" fill="none" stroke="#1a86d6" stroke-width="1.8"/>
<path d="M322.4,1455.7V1270.4H334.6V1455.7" fill="none" stroke="#f55a14" stroke-width="2.8" stroke-linejoin="miter"/>
<circle cx="324.5" cy="1273.3" r="4.0" fill="none" stroke="#f55a14" stroke-width="1.8"/>
<circle cx="328.0" cy="1266.1" r="4.0" fill="none" stroke="#f55a14" stroke-width="1.8"/>
<circle cx="332.0" cy="1269.0" r="4.0" fill="none" stroke="#f55a14" stroke-width="1.8"/>
<path d="M346.0,1455.7V1378.1H358.4V1455.7" fill="none" stroke="#1fa01f" stroke-width="2.8" stroke-linejoin="miter"/>
<circle cx="348.0" cy="1383.9" r="4.0" fill="none" stroke="#1fa01f" stroke-width="1.8"/>
<circle cx="352.0" cy="1371.0" r="4.0" fill="none" stroke="#1fa01f" stroke-width="1.8"/>
<circle cx="356.0" cy="1376.7" r="4.0" fill="none" stroke="#1fa01f" stroke-width="1.8"/>
<path d="M369.9,1455.7V1315.7H382.3V1455.7" fill="none" stroke="#000" stroke-width="2.8" stroke-linejoin="miter"/>
<circle cx="372.0" cy="1317.1" r="4.0" fill="none" stroke="#000" stroke-width="1.8"/>
<circle cx="376.0" cy="1309.9" r="4.0" fill="none" stroke="#000" stroke-width="1.8"/>
<circle cx="380.0" cy="1312.8" r="4.0" fill="none" stroke="#000" stroke-width="1.8"/>
<line x1="75.0" y1="1376.5" x2="93.8" y2="1376.5" stroke="#000" stroke-width="1.1" />
<text x="84.5" y="1376.1" font-family="Liberation Sans" font-size="22" text-anchor="middle" font-weight="bold">****</text>
<line x1="127.0" y1="1368.5" x2="146.0" y2="1368.5" stroke="#000" stroke-width="1.1" />
<text x="136.5" y="1368.0" font-family="Liberation Sans" font-size="22" text-anchor="middle" font-weight="bold">****</text>
<line x1="186.0" y1="1370.0" x2="207.0" y2="1370.0" stroke="#000" stroke-width="1.1" />
<text x="196.4" y="1371.1" font-family="Liberation Sans" font-size="22" text-anchor="middle" font-weight="bold">****</text>
<line x1="217.0" y1="1377.0" x2="237.5" y2="1377.0" stroke="#000" stroke-width="1.1" />
<text x="228.0" y="1378.7" font-family="Liberation Sans" font-size="22" text-anchor="middle" font-weight="bold">***</text>
<line x1="309.7" y1="1259.3" x2="330.5" y2="1259.3" stroke="#000" stroke-width="1.1" />
<text x="320.3" y="1260.1" font-family="Liberation Sans" font-size="22" text-anchor="middle" font-weight="bold">****</text>
<line x1="359.0" y1="1303.7" x2="380.0" y2="1303.7" stroke="#000" stroke-width="1.1" />
<text x="369.3" y="1304.6" font-family="Liberation Sans" font-size="22" text-anchor="middle" font-weight="bold">****</text>
<circle cx="397.0" cy="1245.2" r="4.6" fill="none" stroke="#1a86d6" stroke-width="2"/>
<text x="421.7" y="1249.0" font-family="Liberation Sans" font-size="11">SiHa-WT</text>
<circle cx="397.0" cy="1260.4" r="4.6" fill="none" stroke="#f55a14" stroke-width="2"/>
<circle cx="397.0" cy="1274.5" r="4.6" fill="none" stroke="#1fa01f" stroke-width="2"/>
<text x="421.7" y="1278.3" font-family="Liberation Sans" font-size="11">Caski-shNC</text>
<circle cx="397.0" cy="1292.3" r="4.6" fill="none" stroke="#000" stroke-width="2"/>
<text x="421.7" y="1296.1" font-family="Liberation Sans" font-size="11">Caski-shYTHDF3</text>
<text x="421.7" y="1264.2" font-family="Liberation Sans" font-size="11">YTHDF3<tspan font-size="7" dy="-4">-/-</tspan><tspan dy="4">SiHa</tspan></text>
<text x="687.2" y="1174.7" font-family="Liberation Serif" font-size="20" font-weight="bold" textLength="43.8" lengthAdjust="spacingAndGlyphs">SiHa</text>
<text x="828.3" y="1174.7" font-family="Liberation Serif" font-size="20" font-weight="bold" textLength="54.4" lengthAdjust="spacingAndGlyphs">CaSki</text>
<line x1="632.0" y1="1181.3" x2="928.0" y2="1181.3" stroke="#000" stroke-width="1.8" />
<text x="569.5" y="1202.8" font-family="Liberation Serif" font-size="19" font-weight="bold">G</text>
<text x="628.0" y="1210.3" font-family="Liberation Serif" font-size="20.5">WT</text>
<text x="671.7" y="1210.3" font-family="Liberation Serif" font-size="20.5">YTHDF3<tspan font-size="12" dy="-8">-/-</tspan></text>
<text x="793.0" y="1210.3" font-family="Liberation Serif" font-size="20.5">shNC</text>
<text x="852.4" y="1210.3" font-family="Liberation Serif" font-size="20.5" textLength="97.6" lengthAdjust="spacingAndGlyphs">shYTHDF3</text>
<text x="533.0" y="1253.0" font-family="Liberation Serif" font-size="21" textLength="80.3" lengthAdjust="spacingAndGlyphs">YTHDF3</text>
<text x="548.0" y="1314.0" font-family="Liberation Serif" font-size="21" textLength="63.7" lengthAdjust="spacingAndGlyphs">STAT3</text>
<text x="563.0" y="1386.8" font-family="Liberation Serif" font-size="21" textLength="42.0" lengthAdjust="spacingAndGlyphs">IRF7</text>
<text x="537.0" y="1450.7" font-family="Liberation Serif" font-size="21" textLength="72.7" lengthAdjust="spacingAndGlyphs">GAPDH</text>
<clipPath id="clip538"><rect x="627.2" y="1224.2" width="141.0" height="49.8"/></clipPath>
<g clip-path="url(#clip538)">
<rect x="627.2" y="1220.0" width="75.0" height="60.0" fill="#c9c9c9"/>
<rect x="697.2" y="1220.0" width="71.0" height="60.0" fill="#dcdcdc" filter="url(#f3)"/>
<rect x="637.0" y="1237.4" width="49.8" height="11.6" fill="#0a0a0a" rx="4.0" filter="url(#f1_4)"/>
<rect x="700.7" y="1241.5" width="54.3" height="5.5" fill="#b2b2b2" rx="2.8" filter="url(#f1_8)"/>
<rect x="637.0" y="1257.0" width="53.0" height="13.0" fill="#b3b3b3" rx="4.0" filter="url(#f3)"/>
</g>
<rect x="627.2" y="1224.2" width="141.0" height="49.8" fill="none" stroke="#111" stroke-width="2.2"/>
<clipPath id="clip547"><rect x="798.4" y="1224.2" width="141.0" height="49.8"/></clipPath>
<g clip-path="url(#clip547)">
<rect x="798.4" y="1220.0" width="141.0" height="60.0" fill="#a9a9a9"/>
<rect x="868.4" y="1225.0" width="71.0" height="50.0" fill="#b8b8b8" filter="url(#f3)"/>
<rect x="810.7" y="1238.5" width="47.5" height="11.5" fill="#0a0a0a" rx="4.0" filter="url(#f1_4)"/>
<rect x="810.7" y="1256.0" width="47.5" height="16.5" fill="#0e0e0e" rx="4.0" filter="url(#f1_4)"/>
<rect x="866.0" y="1250.0" width="59.0" height="12.0" fill="#a2a2a2" rx="4.0" filter="url(#f3)"/>
</g>
<rect x="798.4" y="1224.2" width="141.0" height="49.8" fill="none" stroke="#111" stroke-width="2.2"/>
<clipPath id="clip556"><rect x="627.2" y="1281.8" width="141.0" height="49.8"/></clipPath>
<g clip-path="url(#clip556)">
<rect x="627.2" y="1281.8" width="141.0" height="49.8" fill="#ececec"/>
<rect x="642.8" y="1312.0" width="49.8" height="9.0" fill="#9a9a9a" rx="4.0" filter="url(#f2_2)"/>
<rect x="642.8" y="1305.2" width="49.8" height="9.0" fill="#151515" rx="4.0" filter="url(#f1_5)"/>
<rect x="707.7" y="1304.5" width="44.0" height="7.0" fill="#4a4a4a" rx="3.5" filter="url(#f1_5)"/>
</g>
<rect x="627.2" y="1281.8" width="141.0" height="49.8" fill="none" stroke="#111" stroke-width="2.2"/>
<clipPath id="clip564"><rect x="798.4" y="1281.8" width="141.0" height="49.8"/></clipPath>
<g clip-path="url(#clip564)">
<rect x="798.4" y="1281.8" width="141.0" height="49.8" fill="#e8e8e8"/>
<rect x="810.7" y="1310.0" width="47.5" height="9.0" fill="#9a9a9a" rx="4.0" filter="url(#f2_2)"/>
<rect x="869.7" y="1311.0" width="51.0" height="9.0" fill="#a0a0a0" rx="4.0" filter="url(#f2_2)"/>
<rect x="810.7" y="1304.2" width="47.5" height="8.8" fill="#111" rx="4.0" filter="url(#f1_5)"/>
<rect x="869.7" y="1306.5" width="51.0" height="7.7" fill="#1c1c1c" rx="3.9" filter="url(#f1_5)"/>
</g>
<rect x="798.4" y="1281.8" width="141.0" height="49.8" fill="none" stroke="#111" stroke-width="2.2"/>
<clipPath id="clip573"><rect x="627.2" y="1350.1" width="141.0" height="49.3"/></clipPath>
<g clip-path="url(#clip573)">
<rect x="627.2" y="1350.1" width="141.0" height="49.3" fill="#d5d5d5"/>
<rect x="641.7" y="1371.7" width="44.0" height="8.1" fill="#161616" rx="4.0" filter="url(#f1_4)"/>
<rect x="703.0" y="1372.3" width="49.8" height="11.2" fill="#0c0c0c" rx="4.0" filter="url(#f1_6)"/>
<rect x="733.0" y="1382.0" width="19.0" height="12.0" fill="#7a7a7a" rx="4.0" filter="url(#f3)"/>
</g>
<rect x="627.2" y="1350.1" width="141.0" height="49.3" fill="none" stroke="#111" stroke-width="2.2"/>
<clipPath id="clip581"><rect x="798.4" y="1350.1" width="141.0" height="49.3"/></clipPath>
<g clip-path="url(#clip581)">
<rect x="798.4" y="1350.1" width="141.0" height="49.3" fill="#dadada"/>
<rect x="809.5" y="1367.2" width="44.0" height="6.6" fill="#222" rx="3.3" filter="url(#f1_4)"/>
<rect x="873.2" y="1368.2" width="52.1" height="9.2" fill="#111" rx="4.0" filter="url(#f1_5)"/>
</g>
<rect x="798.4" y="1350.1" width="141.0" height="49.3" fill="none" stroke="#111" stroke-width="2.2"/>
<clipPath id="clip588"><rect x="627.2" y="1412.2" width="141.0" height="49.3"/></clipPath>
<g clip-path="url(#clip588)">
<rect x="627.2" y="1412.2" width="141.0" height="49.3" fill="#fafafa"/>
<rect x="644.0" y="1434.2" width="44.0" height="13.8" fill="#050505" rx="4.0" filter="url(#f1_4)"/>
<rect x="700.7" y="1435.3" width="48.2" height="13.9" fill="#050505" rx="4.0" filter="url(#f1_4)"/>
<rect x="762.0" y="1439.0" width="2.5" height="7.0" fill="#222" rx="3.5" filter="url(#f0_8)"/>
</g>
<rect x="627.2" y="1412.2" width="141.0" height="49.3" fill="none" stroke="#111" stroke-width="2.2"/>
<clipPath id="clip596"><rect x="798.4" y="1412.2" width="141.0" height="49.3"/></clipPath>
<g clip-path="url(#clip596)">
<rect x="798.4" y="1412.2" width="141.0" height="49.3" fill="#fbfbfb"/>
<rect x="807.2" y="1430.7" width="46.3" height="12.7" fill="#050505" rx="4.0" filter="url(#f1_4)"/>
<rect x="867.4" y="1429.5" width="51.0" height="12.8" fill="#050505" rx="4.0" filter="url(#f1_4)"/>
</g>
<rect x="798.4" y="1412.2" width="141.0" height="49.3" fill="none" stroke="#111" stroke-width="2.2"/>
<text x="1036.7" y="1199.6" font-family="Liberation Serif" font-size="19" font-weight="bold">H</text>
<text x="1198.8" y="1222.4" font-family="Liberation Serif" font-size="20" font-weight="bold" textLength="43.0" lengthAdjust="spacingAndGlyphs">SiHa</text>
<line x1="1153.0" y1="1227.8" x2="1303.6" y2="1227.8" stroke="#000" stroke-width="1.8" />
<text x="1153.0" y="1257.4" font-family="Liberation Serif" font-size="21">WT</text>
<text x="1213.5" y="1257.4" font-family="Liberation Serif" font-size="21" textLength="125.0" lengthAdjust="spacingAndGlyphs">Flag-YTHDF3</text>
<text x="1063.0" y="1293.7" font-family="Liberation Serif" font-size="22" textLength="62.4" lengthAdjust="spacingAndGlyphs">STAT3</text>
<text x="1085.3" y="1371.6" font-family="Liberation Serif" font-size="22" textLength="42.2" lengthAdjust="spacingAndGlyphs">IRF7</text>
<text x="1059.8" y="1443.7" font-family="Liberation Serif" font-size="22" textLength="71.8" lengthAdjust="spacingAndGlyphs">GAPDH</text>
<clipPath id="clip611"><rect x="1152.0" y="1262.6" width="152.6" height="54.6"/></clipPath>
<g clip-path="url(#clip611)">
<rect x="1152.0" y="1255.0" width="152.6" height="70.0" fill="#fcfcfc"/>
<rect x="1147.0" y="1276.5" width="162.6" height="30.5" fill="#ababab" filter="url(#f1_8)"/>
<rect x="1228.0" y="1274.0" width="13.0" height="32.0" fill="#c0c0c0" filter="url(#f2_5)"/>
<rect x="1152.0" y="1276.0" width="12.0" height="14.0" fill="#bdbdbd" filter="url(#f3)"/>
<rect x="1175.0" y="1286.0" width="51.0" height="18.0" fill="#a2a2a2" filter="url(#f3)"/>
<rect x="1243.0" y="1286.0" width="50.0" height="18.0" fill="#a0a0a0" filter="url(#f3)"/>
<rect x="1173.0" y="1278.0" width="53.0" height="7.0" fill="#222" rx="3.5" filter="url(#f1_2)"/>
<rect x="1173.0" y="1277.5" width="12.0" height="9.5" fill="#1a1a1a" rx="4.0" filter="url(#f1_3)"/>
<rect x="1215.0" y="1277.0" width="11.0" height="6.5" fill="#222" rx="3.2" filter="url(#f1_2)"/>
<rect x="1242.5" y="1276.3" width="50.0" height="7.7" fill="#1e1e1e" rx="3.9" filter="url(#f1_2)"/>
<rect x="1242.5" y="1276.3" width="13.5" height="12.2" fill="#1e1e1e" rx="4.0" filter="url(#f1_3)"/>
</g>
<rect x="1152.0" y="1262.6" width="152.6" height="54.6" fill="none" stroke="#111" stroke-width="2.2"/>
<clipPath id="clip626"><rect x="1151.7" y="1333.0" width="154.9" height="53.9"/></clipPath>
<g clip-path="url(#clip626)">
<rect x="1147.0" y="1325.0" width="162.6" height="70.0" fill="#c4c4c4"/>
<rect x="1152.0" y="1333.0" width="25.0" height="54.0" fill="#cdcdcd" filter="url(#f3)"/>
<rect x="1176.7" y="1352.5" width="47.5" height="12.8" fill="#303030" rx="4.0" filter="url(#f1_5)"/>
<rect x="1180.0" y="1375.6" width="44.0" height="8.6" fill="#a6a6a6" rx="4.0" filter="url(#f2_5)"/>
<rect x="1237.6" y="1343.0" width="41.4" height="8.5" fill="#a9a9a9" rx="4.0" filter="url(#f2_5)"/>
</g>
<rect x="1151.7" y="1333.0" width="154.9" height="53.9" fill="none" stroke="#111" stroke-width="2.2"/>
<clipPath id="clip635"><rect x="1151.7" y="1406.7" width="154.9" height="59.1"/></clipPath>
<g clip-path="url(#clip635)">
<rect x="1151.7" y="1406.7" width="154.9" height="59.1" fill="#e6e6e6"/>
<rect x="1171.8" y="1430.5" width="64.0" height="14.5" fill="#050505" rx="4.0" filter="url(#f1_5)"/>
<rect x="1171.8" y="1422.0" width="8.2" height="18.0" fill="#050505" rx="4.0" filter="url(#f1_4)"/>
<rect x="1243.7" y="1429.5" width="55.5" height="16.0" fill="#050505" rx="4.0" filter="url(#f1_5)"/>
<rect x="1180.0" y="1446.0" width="52.0" height="6.0" fill="#bdbdbd" rx="3.0" filter="url(#f2)"/>
</g>
<rect x="1151.7" y="1406.7" width="154.9" height="59.1" fill="none" stroke="#111" stroke-width="2.2"/>
<text x="8.8" y="1523.9" font-family="Liberation Serif" font-size="19" font-weight="bold">I</text>
<text x="144.5" y="1543.2" font-family="Liberation Serif" font-size="20" font-weight="bold" textLength="43.4" lengthAdjust="spacingAndGlyphs">SiHa</text>
<line x1="82.3" y1="1549.2" x2="279.8" y2="1549.2" stroke="#000" stroke-width="1.8" />
<text x="107.6" y="1583.3" font-family="Liberation Serif" font-size="21">shNC</text>
<text x="161.4" y="1583.3" font-family="Liberation Serif" font-size="21" textLength="99.6" lengthAdjust="spacingAndGlyphs">shMETTL3</text>
<text x="0.8" y="1626.7" font-family="Liberation Serif" font-size="21" textLength="79.5" lengthAdjust="spacingAndGlyphs">METTL3</text>
<text x="8.8" y="1695.7" font-family="Liberation Serif" font-size="21" textLength="63.5" lengthAdjust="spacingAndGlyphs">STAT3</text>
<text x="2.0" y="1768.0" font-family="Liberation Serif" font-size="21" textLength="72.3" lengthAdjust="spacingAndGlyphs">GAPDH</text>
<clipPath id="clip652"><rect x="92.4" y="1591.6" width="143.5" height="56.9"/></clipPath>
<g clip-path="url(#clip652)">
<rect x="87.4" y="1585.0" width="153.5" height="70.0" fill="#b9b9b9"/>
<rect x="92.4" y="1590.0" width="15.0" height="60.0" fill="#c6c6c6" filter="url(#f3)"/>
<rect x="152.4" y="1590.0" width="15.0" height="60.0" fill="#c4c4c4" filter="url(#f3)"/>
<rect x="98.5" y="1610.4" width="47.5" height="9.9" fill="#050505" rx="4.0" filter="url(#f1_5)"/>
<rect x="160.3" y="1610.4" width="48.0" height="5.2" fill="#555" rx="2.6" filter="url(#f1_6)"/>
<rect x="100.0" y="1622.0" width="46.0" height="10.0" fill="#a0a0a0" rx="4.0" filter="url(#f3)"/>
</g>
<rect x="92.4" y="1591.6" width="143.5" height="56.9" fill="none" stroke="#111" stroke-width="2.2"/>
<clipPath id="clip662"><rect x="92.4" y="1666.1" width="143.5" height="56.9"/></clipPath>
<g clip-path="url(#clip662)">
<rect x="87.4" y="1660.0" width="153.5" height="70.0" fill="#a9a9a9"/>
<rect x="162.4" y="1666.0" width="73.5" height="57.0" fill="#b4b4b4" filter="url(#f4)"/>
<rect x="147.4" y="1666.0" width="15.0" height="57.0" fill="#b8b8b8" filter="url(#f3)"/>
<rect x="100.1" y="1687.7" width="51.9" height="11.3" fill="#1a1a1a" rx="4.0" filter="url(#f1_5)"/>
<rect x="135.0" y="1692.0" width="17.0" height="10.0" fill="#1a1a1a" rx="4.0" filter="url(#f1_5)"/>
<rect x="170.8" y="1693.7" width="45.2" height="7.3" fill="#5a5a5a" rx="3.6" filter="url(#f1_8)"/>
</g>
<rect x="92.4" y="1666.1" width="143.5" height="56.9" fill="none" stroke="#111" stroke-width="2.2"/>
<clipPath id="clip672"><rect x="92.4" y="1737.9" width="143.5" height="56.9"/></clipPath>
<g clip-path="url(#clip672)">
<rect x="92.4" y="1737.9" width="143.5" height="56.9" fill="#dadada"/>
<rect x="99.6" y="1752.8" width="56.3" height="21.0" fill="#030303" rx="4.0" filter="url(#f1_5)"/>
<rect x="155.9" y="1756.7" width="61.8" height="18.2" fill="#030303" rx="4.0" filter="url(#f1_5)"/>
<rect x="104.0" y="1783.7" width="41.0" height="6.6" fill="#bababa" rx="3.3" filter="url(#f2)"/>
</g>
<rect x="92.4" y="1737.9" width="143.5" height="56.9" fill="none" stroke="#111" stroke-width="2.2"/>
<text x="319.1" y="1526.3" font-family="Liberation Serif" font-size="19" font-weight="bold">J</text>
<line x1="347.5" y1="1576.6" x2="347.5" y2="1767.8" stroke="#000" stroke-width="2" />
<line x1="347.0" y1="1766.8" x2="529.0" y2="1766.8" stroke="#000" stroke-width="2" />
<line x1="339.2" y1="1766.8" x2="347.5" y2="1766.8" stroke="#000" stroke-width="1.6" />
<text x="335.2" y="1770.3" font-family="Liberation Sans" font-size="10" text-anchor="end" font-weight="bold">0</text>
<line x1="339.2" y1="1719.4" x2="347.5" y2="1719.4" stroke="#000" stroke-width="1.6" />
<text x="335.2" y="1722.9" font-family="Liberation Sans" font-size="10" text-anchor="end" font-weight="bold">5</text>
<line x1="339.2" y1="1672.0" x2="347.5" y2="1672.0" stroke="#000" stroke-width="1.6" />
<text x="335.2" y="1675.5" font-family="Liberation Sans" font-size="10" text-anchor="end" font-weight="bold">10</text>
<line x1="339.2" y1="1624.7" x2="347.5" y2="1624.7" stroke="#000" stroke-width="1.6" />
<text x="335.2" y="1628.2" font-family="Liberation Sans" font-size="10" text-anchor="end" font-weight="bold">15</text>
<line x1="339.2" y1="1577.3" x2="347.5" y2="1577.3" stroke="#000" stroke-width="1.6" />
<text x="335.2" y="1580.8" font-family="Liberation Sans" font-size="10" text-anchor="end" font-weight="bold">20</text>
<path d="M376.0,1766.8V1609.7H422.8V1766.8" fill="none" stroke="#1a86d6" stroke-width="3" stroke-linejoin="miter"/>
<line x1="399.4" y1="1593.4" x2="399.4" y2="1619.4" stroke="#1a86d6" stroke-width="1.3" />
<line x1="386.4" y1="1593.4" x2="412.4" y2="1593.4" stroke="#1a86d6" stroke-width="1.3" />
<line x1="386.4" y1="1619.4" x2="412.4" y2="1619.4" stroke="#1a86d6" stroke-width="1.3" />
<circle cx="398.6" cy="1592.1" r="4.0" fill="none" stroke="#1a86d6" stroke-width="1.8"/>
<circle cx="391.4" cy="1615.4" r="4.0" fill="none" stroke="#1a86d6" stroke-width="1.8"/>
<circle cx="406.3" cy="1612.6" r="4.0" fill="none" stroke="#1a86d6" stroke-width="1.8"/>
<line x1="461.7" y1="1766.8" x2="491.8" y2="1766.8" stroke="#f55a14" stroke-width="2" />
<circle cx="461.7" cy="1766.8" r="4.0" fill="none" stroke="#f55a14" stroke-width="1.8"/>
<circle cx="477.0" cy="1766.8" r="4.0" fill="none" stroke="#f55a14" stroke-width="1.8"/>
<circle cx="491.8" cy="1766.8" r="4.0" fill="none" stroke="#f55a14" stroke-width="1.8"/>
<line x1="399.4" y1="1766.8" x2="399.4" y2="1772.5" stroke="#000" stroke-width="1.6" />
<line x1="477.0" y1="1766.8" x2="477.0" y2="1772.5" stroke="#000" stroke-width="1.6" />
<text x="399.4" y="1787.3" font-family="Liberation Sans" font-size="10" text-anchor="middle" font-weight="bold">m<tspan font-size="6.5" dy="-4">6</tspan><tspan dy="4">A IP</tspan></text>
<text x="477.0" y="1787.3" font-family="Liberation Sans" font-size="10" text-anchor="middle" font-weight="bold">IgG</text>
<line x1="395.4" y1="1582.1" x2="473.7" y2="1582.1" stroke="#000" stroke-width="1.2" />
<text x="435.3" y="1581.6" font-family="Liberation Sans" font-size="19" text-anchor="middle" font-weight="bold">**</text>
<text x="0.0" y="0.0" font-family="Liberation Sans" font-size="10" text-anchor="middle" font-weight="bold" textLength="119.6" lengthAdjust="spacingAndGlyphs" transform="translate(311.8,1675.6) rotate(-90)">Normalized to input（%）</text>
<circle cx="532.9" cy="1581.1" r="4.2" fill="none" stroke="#1a86d6" stroke-width="2"/>
<circle cx="532.9" cy="1601.8" r="4.2" fill="none" stroke="#f55a14" stroke-width="2"/>
<text x="554.4" y="1585.4" font-family="Liberation Sans" font-size="10.5">m<tspan font-size="7" dy="-4">6</tspan><tspan dy="4">A IP</tspan></text>
<text x="554.4" y="1605.5" font-family="Liberation Sans" font-size="10.5">IgG</text>
<text x="578.8" y="1528.7" font-family="Liberation Serif" font-size="19" font-weight="bold">K</text>
<line x1="619.0" y1="1570.0" x2="619.0" y2="1773.0" stroke="#222" stroke-width="1" />
<line x1="619.0" y1="1773.0" x2="871.3" y2="1773.0" stroke="#222" stroke-width="1" />
<line x1="615.0" y1="1773.0" x2="619.0" y2="1773.0" stroke="#222" stroke-width="1" />
<text x="613.2" y="1776.0" font-family="Liberation Sans" font-size="8.5" text-anchor="end" fill="#222">0.3</text>
<line x1="617.0" y1="1760.3" x2="619.0" y2="1760.3" stroke="#222" stroke-width="0.8" />
<line x1="615.0" y1="1747.7" x2="619.0" y2="1747.7" stroke="#222" stroke-width="1" />
<text x="613.2" y="1750.7" font-family="Liberation Sans" font-size="8.5" text-anchor="end" fill="#222">0.4</text>
<line x1="617.0" y1="1735.0" x2="619.0" y2="1735.0" stroke="#222" stroke-width="0.8" />
<line x1="615.0" y1="1722.3" x2="619.0" y2="1722.3" stroke="#222" stroke-width="1" />
<text x="613.2" y="1725.3" font-family="Liberation Sans" font-size="8.5" text-anchor="end" fill="#222">0.5</text>
<line x1="617.0" y1="1709.7" x2="619.0" y2="1709.7" stroke="#222" stroke-width="0.8" />
<line x1="615.0" y1="1697.0" x2="619.0" y2="1697.0" stroke="#222" stroke-width="1" />
<text x="613.2" y="1700.0" font-family="Liberation Sans" font-size="8.5" text-anchor="end" fill="#222">0.6</text>
<line x1="617.0" y1="1684.3" x2="619.0" y2="1684.3" stroke="#222" stroke-width="0.8" />
<line x1="615.0" y1="1671.6" x2="619.0" y2="1671.6" stroke="#222" stroke-width="1" />
<text x="613.2" y="1674.6" font-family="Liberation Sans" font-size="8.5" text-anchor="end" fill="#222">0.7</text>
<line x1="617.0" y1="1659.0" x2="619.0" y2="1659.0" stroke="#222" stroke-width="0.8" />
<line x1="615.0" y1="1646.3" x2="619.0" y2="1646.3" stroke="#222" stroke-width="1" />
<text x="613.2" y="1649.3" font-family="Liberation Sans" font-size="8.5" text-anchor="end" fill="#222">0.8</text>
<line x1="617.0" y1="1633.6" x2="619.0" y2="1633.6" stroke="#222" stroke-width="0.8" />
<line x1="615.0" y1="1621.0" x2="619.0" y2="1621.0" stroke="#222" stroke-width="1" />
<text x="613.2" y="1624.0" font-family="Liberation Sans" font-size="8.5" text-anchor="end" fill="#222">0.9</text>
<line x1="617.0" y1="1608.3" x2="619.0" y2="1608.3" stroke="#222" stroke-width="0.8" />
<line x1="615.0" y1="1595.6" x2="619.0" y2="1595.6" stroke="#222" stroke-width="1" />
<text x="613.2" y="1598.6" font-family="Liberation Sans" font-size="8.5" text-anchor="end" fill="#222">1.0</text>
<line x1="617.0" y1="1583.0" x2="619.0" y2="1583.0" stroke="#222" stroke-width="0.8" />
<line x1="615.0" y1="1570.3" x2="619.0" y2="1570.3" stroke="#222" stroke-width="1" />
<text x="613.2" y="1573.3" font-family="Liberation Sans" font-size="8.5" text-anchor="end" fill="#222">1.1</text>
<line x1="619.5" y1="1773.0" x2="619.5" y2="1775.5" stroke="#222" stroke-width="0.8" />
<line x1="644.7" y1="1773.0" x2="644.7" y2="1777.0" stroke="#222" stroke-width="1" />
<text x="644.7" y="1786.2" font-family="Liberation Sans" font-size="8.5" text-anchor="middle" fill="#222">0</text>
<line x1="669.9" y1="1773.0" x2="669.9" y2="1775.5" stroke="#222" stroke-width="0.8" />
<line x1="695.1" y1="1773.0" x2="695.1" y2="1777.0" stroke="#222" stroke-width="1" />
<text x="695.1" y="1786.2" font-family="Liberation Sans" font-size="8.5" text-anchor="middle" fill="#222">1</text>
<line x1="720.3" y1="1773.0" x2="720.3" y2="1775.5" stroke="#222" stroke-width="0.8" />
<line x1="745.5" y1="1773.0" x2="745.5" y2="1777.0" stroke="#222" stroke-width="1" />
<text x="745.5" y="1786.2" font-family="Liberation Sans" font-size="8.5" text-anchor="middle" fill="#222">2</text>
<line x1="770.7" y1="1773.0" x2="770.7" y2="1775.5" stroke="#222" stroke-width="0.8" />
<line x1="795.9" y1="1773.0" x2="795.9" y2="1777.0" stroke="#222" stroke-width="1" />
<text x="795.9" y="1786.2" font-family="Liberation Sans" font-size="8.5" text-anchor="middle" fill="#222">3</text>
<line x1="821.1" y1="1773.0" x2="821.1" y2="1775.5" stroke="#222" stroke-width="0.8" />
<line x1="846.3" y1="1773.0" x2="846.3" y2="1777.0" stroke="#222" stroke-width="1" />
<text x="846.3" y="1786.2" font-family="Liberation Sans" font-size="8.5" text-anchor="middle" fill="#222">4</text>
<line x1="871.5" y1="1773.0" x2="871.5" y2="1775.5" stroke="#222" stroke-width="0.8" />
<text x="745.7" y="1801.0" font-family="Liberation Sans" font-size="8.5" text-anchor="middle" fill="#222">hour(s)</text>
<text x="0.0" y="0.0" font-family="Liberation Sans" font-size="9" text-anchor="middle" fill="#222" textLength="70.0" lengthAdjust="spacingAndGlyphs" transform="translate(596.3,1671.5) rotate(-90)">STAT3 staining</text>
<path d="M644.7,1595.6 L649.7,1598.0 L654.8,1600.3 L659.8,1602.7 L664.9,1605.0 L669.9,1607.3 L674.9,1609.5 L680.0,1611.8 L685.0,1614.0 L690.1,1616.2 L695.1,1618.4 L700.1,1620.5 L705.2,1622.7 L710.2,1624.8 L715.3,1626.9 L720.3,1629.0 L725.3,1631.0 L730.4,1633.1 L735.4,1635.1 L740.5,1637.1 L745.5,1639.1 L750.5,1641.0 L755.6,1643.0 L760.6,1644.9 L765.7,1646.8 L770.7,1648.7 L775.7,1650.6 L780.8,1652.5 L785.8,1654.3 L790.9,1656.1 L795.9,1657.9 L800.9,1659.7 L806.0,1661.5 L811.0,1663.2 L816.1,1665.0 L821.1,1666.7 L826.1,1668.4 L831.2,1670.1 L836.2,1671.8 L841.3,1673.4 L846.3,1675.1" fill="none" stroke="#333" stroke-width="0.9"/>
<path d="M644.7,1595.6 L649.7,1599.7 L654.8,1603.8 L659.8,1607.8 L664.9,1611.7 L669.9,1615.6 L674.9,1619.4 L680.0,1623.1 L685.0,1626.8 L690.1,1630.4 L695.1,1634.0 L700.1,1637.5 L705.2,1640.9 L710.2,1644.3 L715.3,1647.7 L720.3,1650.9 L725.3,1654.2 L730.4,1657.3 L735.4,1660.5 L740.5,1663.5 L745.5,1666.5 L750.5,1669.5 L755.6,1672.4 L760.6,1675.3 L765.7,1678.1 L770.7,1680.9 L775.7,1683.7 L780.8,1686.4 L785.8,1689.0 L790.9,1691.6 L795.9,1694.2 L800.9,1696.7 L806.0,1699.2 L811.0,1701.6 L816.1,1704.0 L821.1,1706.4 L826.1,1708.7 L831.2,1711.0 L836.2,1713.2 L841.3,1715.4 L846.3,1717.6" fill="none" stroke="#e02020" stroke-width="0.9"/>
<rect x="642.4" y="1585.7" width="4.6" height="4.6" fill="#444"/>
<rect x="743.2" y="1644.0" width="4.6" height="4.6" fill="#444"/>
<rect x="844.0" y="1664.3" width="4.6" height="4.6" fill="#444"/>
<circle cx="644.7" cy="1595.6" r="2.6" fill="#ee2b2b"/>
<circle cx="745.5" cy="1607.0" r="2.6" fill="#ee2b2b"/>
<circle cx="846.3" cy="1759.1" r="2.6" fill="#ee2b2b"/>
<rect x="810.5" y="1545.9" width="85.1" height="50.1" fill="none" stroke="#666" stroke-width="0.9"/>
<rect x="820.0" y="1551.3" width="4.0" height="4.0" fill="#444"/>
<text x="835.4" y="1556.0" font-family="Liberation Serif" font-size="9">SiHa</text>
<circle cx="822.0" cy="1566.5" r="2.4" fill="#ee2b2b"/>
<text x="833.5" y="1569.4" font-family="Liberation Serif" font-size="9" fill="#dd1c1c" textLength="62.0" lengthAdjust="spacingAndGlyphs">YTHDF3<tspan font-size="5" dy="-3">-/-</tspan><tspan dy="3">SiHa</tspan></text>
<text x="760.3" y="1619.0" font-family="Liberation Serif" font-size="10" fill="#222">y=e<tspan font-size="6" dy="-5">-0.09407x</tspan></text>
<text x="760.3" y="1633.3" font-family="Liberation Serif" font-size="10" fill="#222">R<tspan font-size="6" dy="-4">2</tspan><tspan dy="4">=0.9549</tspan></text>
<text x="648.2" y="1656.8" font-family="Liberation Serif" font-size="10" fill="#dd1c1c">y=e<tspan font-size="6" dy="-5">-0.16418x</tspan></text>
<text x="648.2" y="1670.6" font-family="Liberation Serif" font-size="10" fill="#dd1c1c">R<tspan font-size="6" dy="-4">2</tspan><tspan dy="4">=0.68136</tspan></text>
<text x="648.2" y="1726.0" font-family="Liberation Serif" font-size="10" fill="#222">SiHa<tspan font-size="6" dy="3">1/2</tspan><tspan dy="-3">=7.67h</tspan></text>
<text x="648.2" y="1742.3" font-family="Liberation Serif" font-size="10" fill="#dd1c1c">YTHDF3<tspan font-size="5.5" dy="-4">-/-</tspan><tspan dy="4">SiHa</tspan><tspan font-size="6" dy="3">1/2</tspan><tspan dy="-3">=4.31h</tspan></text>
<text x="936.3" y="1533.0" font-family="Liberation Serif" font-size="19" font-weight="bold">L</text>
<text x="1049.3" y="1604.3" font-family="Liberation Serif" font-size="20" font-weight="bold" textLength="43.4" lengthAdjust="spacingAndGlyphs">SiHa</text>
<text x="1251.0" y="1604.3" font-family="Liberation Serif" font-size="20" font-weight="bold" textLength="54.6" lengthAdjust="spacingAndGlyphs">CaSki</text>
<text x="1018.5" y="1635.5" font-family="Liberation Serif" font-size="20.5">WT</text>
<text x="1079.0" y="1635.5" font-family="Liberation Serif" font-size="20.5" textLength="93.0" lengthAdjust="spacingAndGlyphs">YTHDF3<tspan font-size="12" dy="-8">-/-</tspan></text>
<text x="1218.7" y="1635.5" font-family="Liberation Serif" font-size="20.5">shNC</text>
<text x="1277.4" y="1635.5" font-family="Liberation Serif" font-size="20.5" textLength="99.6" lengthAdjust="spacingAndGlyphs">shYTHDF3</text>
<line x1="984.9" y1="1639.8" x2="1173.0" y2="1639.8" stroke="#000" stroke-width="1.8" />
<line x1="1195.2" y1="1637.3" x2="1383.5" y2="1637.3" stroke="#000" stroke-width="1.8" />
<text x="925.1" y="1660.8" font-family="Liberation Serif" font-size="21" textLength="43.8" lengthAdjust="spacingAndGlyphs">CHX</text>
<text x="988.5" y="1659.0" font-family="Liberation Serif" font-size="15.5">0h</text>
<text x="1016.7" y="1659.0" font-family="Liberation Serif" font-size="15.5">12h</text>
<text x="1048.2" y="1659.0" font-family="Liberation Serif" font-size="15.5">24h</text>
<text x="1080.8" y="1659.0" font-family="Liberation Serif" font-size="15.5">0h</text>
<text x="1105.4" y="1659.0" font-family="Liberation Serif" font-size="15.5">12h</text>
<text x="1136.2" y="1659.0" font-family="Liberation Serif" font-size="15.5">24h</text>
<text x="1198.5" y="1661.5" font-family="Liberation Serif" font-size="15.5">0h</text>
<text x="1226.7" y="1661.5" font-family="Liberation Serif" font-size="15.5">12h</text>
<text x="1258.6" y="1661.5" font-family="Liberation Serif" font-size="15.5">24h</text>
<text x="1291.2" y="1661.5" font-family="Liberation Serif" font-size="15.5">0h</text>
<text x="1320.0" y="1661.5" font-family="Liberation Serif" font-size="15.5">12h</text>
<text x="1350.9" y="1661.5" font-family="Liberation Serif" font-size="15.5">24h</text>
<text x="907.4" y="1707.9" font-family="Liberation Serif" font-size="21" textLength="61.6" lengthAdjust="spacingAndGlyphs">STAT3</text>
<text x="896.5" y="1749.5" font-family="Liberation Serif" font-size="21" textLength="72.5" lengthAdjust="spacingAndGlyphs">GAPDH</text>
<clipPath id="clip805"><rect x="974.6" y="1677.6" width="201.7" height="32.0"/></clipPath>
<g clip-path="url(#clip805)">
<rect x="969.6" y="1672.6" width="211.7" height="42.0" fill="#dedede"/>
<rect x="982.7" y="1672.6" width="27.3" height="42.0" fill="#c6c6c6" filter="url(#f1_5)"/>
<rect x="1014.0" y="1672.6" width="27.7" height="42.0" fill="#c6c6c6" filter="url(#f1_5)"/>
<rect x="1044.6" y="1672.6" width="28.4" height="42.0" fill="#c6c6c6" filter="url(#f1_5)"/>
<rect x="1076.3" y="1672.6" width="26.3" height="42.0" fill="#c6c6c6" filter="url(#f1_5)"/>
<rect x="1107.6" y="1672.6" width="26.4" height="42.0" fill="#c6c6c6" filter="url(#f1_5)"/>
<rect x="1137.5" y="1672.6" width="26.1" height="42.0" fill="#c6c6c6" filter="url(#f1_5)"/>
<rect x="1078.0" y="1697.0" width="23.0" height="11.0" fill="#a2a2a2" rx="4.0" filter="url(#f2)"/>
<rect x="983.7" y="1692.0" width="25.3" height="8.5" fill="#3a3a3a" rx="4.0" filter="url(#f1_4)"/>
<rect x="1015.0" y="1690.7" width="25.7" height="12.3" fill="#181818" rx="4.0" filter="url(#f1_4)"/>
<rect x="1045.6" y="1693.8" width="26.4" height="7.6" fill="#444" rx="3.8" filter="url(#f1_4)"/>
<rect x="1077.3" y="1688.0" width="24.3" height="9.4" fill="#6a6a6a" rx="4.0" filter="url(#f1_4)"/>
<rect x="1108.6" y="1690.7" width="24.4" height="8.3" fill="#333" rx="4.0" filter="url(#f1_4)"/>
<rect x="1138.5" y="1689.0" width="24.1" height="10.0" fill="#2a2a2a" rx="4.0" filter="url(#f1_4)"/>
</g>
<rect x="974.6" y="1677.6" width="201.7" height="32.0" fill="none" stroke="#111" stroke-width="2.2"/>
<clipPath id="clip823"><rect x="1193.0" y="1678.5" width="202.0" height="33.2"/></clipPath>
<g clip-path="url(#clip823)">
<rect x="1188.0" y="1673.5" width="212.0" height="43.2" fill="#d6d6d6"/>
<rect x="1199.7" y="1673.5" width="27.9" height="43.2" fill="#c0c0c0" filter="url(#f1_5)"/>
<rect x="1230.0" y="1673.5" width="27.4" height="43.2" fill="#c0c0c0" filter="url(#f1_5)"/>
<rect x="1260.9" y="1673.5" width="30.1" height="43.2" fill="#c0c0c0" filter="url(#f1_5)"/>
<rect x="1294.0" y="1673.5" width="25.9" height="43.2" fill="#c0c0c0" filter="url(#f1_5)"/>
<rect x="1323.0" y="1673.5" width="28.9" height="43.2" fill="#c0c0c0" filter="url(#f1_5)"/>
<rect x="1355.3" y="1673.5" width="29.5" height="43.2" fill="#c0c0c0" filter="url(#f1_5)"/>
<rect x="1200.7" y="1689.0" width="25.9" height="14.0" fill="#222" rx="4.0" filter="url(#f1_3)"/>
<rect x="1231.0" y="1687.7" width="25.4" height="14.3" fill="#222" rx="4.0" filter="url(#f1_3)"/>
<rect x="1261.9" y="1687.7" width="28.1" height="11.3" fill="#222" rx="4.0" filter="url(#f1_3)"/>
<rect x="1295.0" y="1689.0" width="23.9" height="12.0" fill="#222" rx="4.0" filter="url(#f1_3)"/>
<rect x="1324.0" y="1687.7" width="26.9" height="13.3" fill="#222" rx="4.0" filter="url(#f1_3)"/>
<rect x="1356.3" y="1684.6" width="27.5" height="14.4" fill="#222" rx="4.0" filter="url(#f1_3)"/>
</g>
<rect x="1193.0" y="1678.5" width="202.0" height="33.2" fill="none" stroke="#111" stroke-width="2.2"/>
<clipPath id="clip840"><rect x="974.6" y="1727.0" width="201.7" height="32.0"/></clipPath>
<g clip-path="url(#clip840)">
<rect x="974.6" y="1727.0" width="201.7" height="32.0" fill="#e8e8e8"/>
<rect x="983.7" y="1737.6" width="29.9" height="10.1" fill="#060606" rx="4.0" filter="url(#f1_3)"/>
<rect x="1017.8" y="1738.6" width="26.8" height="10.0" fill="#060606" rx="4.0" filter="url(#f1_3)"/>
<rect x="1046.8" y="1737.6" width="29.8" height="12.2" fill="#060606" rx="4.0" filter="url(#f1_3)"/>
<rect x="1078.2" y="1737.0" width="29.5" height="10.7" fill="#060606" rx="4.0" filter="url(#f1_3)"/>
<rect x="1109.5" y="1737.6" width="27.5" height="11.6" fill="#060606" rx="4.0" filter="url(#f1_3)"/>
<rect x="1140.0" y="1739.5" width="30.2" height="11.2" fill="#060606" rx="4.0" filter="url(#f1_3)"/>
</g>
<rect x="974.6" y="1727.0" width="201.7" height="32.0" fill="none" stroke="#111" stroke-width="2.2"/>
<clipPath id="clip851"><rect x="1193.0" y="1728.5" width="202.0" height="32.3"/></clipPath>
<g clip-path="url(#clip851)">
<rect x="1188.0" y="1723.5" width="212.0" height="42.3" fill="#e6e6e6"/>
<rect x="1199.0" y="1723.5" width="26.4" height="42.3" fill="#d2d2d2" filter="url(#f1_5)"/>
<rect x="1230.0" y="1723.5" width="26.5" height="42.3" fill="#d2d2d2" filter="url(#f1_5)"/>
<rect x="1262.0" y="1723.5" width="28.3" height="42.3" fill="#d2d2d2" filter="url(#f1_5)"/>
<rect x="1295.0" y="1723.5" width="25.8" height="42.3" fill="#d2d2d2" filter="url(#f1_5)"/>
<rect x="1325.5" y="1723.5" width="27.0" height="42.3" fill="#d2d2d2" filter="url(#f1_5)"/>
<rect x="1358.4" y="1723.5" width="28.5" height="42.3" fill="#d2d2d2" filter="url(#f1_5)"/>
<rect x="1200.0" y="1740.0" width="24.4" height="7.7" fill="#080808" rx="3.9" filter="url(#f1_2)"/>
<rect x="1231.0" y="1738.6" width="24.5" height="8.4" fill="#080808" rx="4.0" filter="url(#f1_2)"/>
<rect x="1263.0" y="1737.0" width="26.3" height="8.6" fill="#080808" rx="4.0" filter="url(#f1_2)"/>
<rect x="1296.0" y="1739.5" width="23.8" height="9.1" fill="#080808" rx="4.0" filter="url(#f1_2)"/>
<rect x="1326.5" y="1738.6" width="25.0" height="8.2" fill="#080808" rx="4.0" filter="url(#f1_2)"/>
<rect x="1359.4" y="1735.5" width="26.5" height="10.1" fill="#080808" rx="4.0" filter="url(#f1_2)"/>
</g>
<rect x="1193.0" y="1728.5" width="202.0" height="32.3" fill="none" stroke="#111" stroke-width="2.2"/>
<text x="8.4" y="1829.5" font-family="Liberation Serif" font-size="19" font-weight="bold">M</text>
<line x1="75.3" y1="1907.3" x2="75.3" y2="2102.7" stroke="#000" stroke-width="2.2" />
<line x1="67.0" y1="2101.7" x2="290.5" y2="2101.7" stroke="#000" stroke-width="2.2" />
<line x1="66.3" y1="2101.7" x2="75.3" y2="2101.7" stroke="#000" stroke-width="1.8" />
<text x="64.7" y="2105.3" font-family="Liberation Sans" font-size="10" text-anchor="end" font-weight="bold">0.0</text>
<line x1="66.3" y1="2053.3" x2="75.3" y2="2053.3" stroke="#000" stroke-width="1.8" />
<text x="64.7" y="2056.9" font-family="Liberation Sans" font-size="10" text-anchor="end" font-weight="bold">0.5</text>
<line x1="66.3" y1="2004.9" x2="75.3" y2="2004.9" stroke="#000" stroke-width="1.8" />
<text x="64.7" y="2008.5" font-family="Liberation Sans" font-size="10" text-anchor="end" font-weight="bold">1.0</text>
<line x1="66.3" y1="1956.5" x2="75.3" y2="1956.5" stroke="#000" stroke-width="1.8" />
<text x="64.7" y="1960.1" font-family="Liberation Sans" font-size="10" text-anchor="end" font-weight="bold">1.5</text>
<line x1="66.3" y1="1908.1" x2="75.3" y2="1908.1" stroke="#000" stroke-width="1.8" />
<text x="64.7" y="1911.7" font-family="Liberation Sans" font-size="10" text-anchor="end" font-weight="bold">2.0</text>
<line x1="102.0" y1="2101.7" x2="102.0" y2="2110.7" stroke="#000" stroke-width="1.8" />
<text x="105.5" y="2119.7" font-family="Liberation Sans" font-size="10.6" text-anchor="end" font-weight="bold" transform="rotate(-45 105.5 2119.7)">vector</text>
<line x1="142.4" y1="2101.7" x2="142.4" y2="2110.7" stroke="#000" stroke-width="1.8" />
<text x="145.9" y="2119.7" font-family="Liberation Sans" font-size="10.6" text-anchor="end" font-weight="bold" transform="rotate(-45 145.9 2119.7)">WT</text>
<line x1="182.8" y1="2101.7" x2="182.8" y2="2110.7" stroke="#000" stroke-width="1.8" />
<text x="186.3" y="2119.7" font-family="Liberation Sans" font-size="10.6" text-anchor="end" font-weight="bold" transform="rotate(-45 186.3 2119.7)">mutant-1</text>
<line x1="222.8" y1="2101.7" x2="222.8" y2="2110.7" stroke="#000" stroke-width="1.8" />
<text x="226.3" y="2119.7" font-family="Liberation Sans" font-size="10.6" text-anchor="end" font-weight="bold" transform="rotate(-45 226.3 2119.7)">mutant-2</text>
<line x1="262.8" y1="2101.7" x2="262.8" y2="2110.7" stroke="#000" stroke-width="1.8" />
<text x="266.3" y="2119.7" font-family="Liberation Sans" font-size="10.6" text-anchor="end" font-weight="bold" transform="rotate(-45 266.3 2119.7)">dual-mutant</text>
<path d="M91.1,2101.7V2006.3H113.6V2101.7" fill="none" stroke="#666666" stroke-width="2.8" stroke-linejoin="miter"/>
<circle cx="94.0" cy="2004.9" r="3.9" fill="none" stroke="#666666" stroke-width="1.7"/>
<circle cx="102.0" cy="2005.9" r="3.9" fill="none" stroke="#666666" stroke-width="1.7"/>
<circle cx="110.0" cy="2005.9" r="3.9" fill="none" stroke="#666666" stroke-width="1.7"/>
<path d="M131.4,2101.7V1962.7H153.6V2101.7" fill="none" stroke="#1a88d8" stroke-width="2.8" stroke-linejoin="miter"/>
<line x1="142.5" y1="1968.1" x2="142.5" y2="1954.6" stroke="#1a88d8" stroke-width="1.1" />
<line x1="136.5" y1="1968.1" x2="148.5" y2="1968.1" stroke="#1a88d8" stroke-width="1.1" />
<line x1="136.5" y1="1954.6" x2="148.5" y2="1954.6" stroke="#1a88d8" stroke-width="1.1" />
<circle cx="135.5" cy="1958.7" r="3.9" fill="none" stroke="#1a88d8" stroke-width="1.7"/>
<circle cx="143.0" cy="1955.7" r="3.9" fill="none" stroke="#1a88d8" stroke-width="1.7"/>
<circle cx="149.0" cy="1967.7" r="3.9" fill="none" stroke="#1a88d8" stroke-width="1.7"/>
<path d="M171.4,2101.7V2025.7H193.6V2101.7" fill="none" stroke="#f55a14" stroke-width="2.8" stroke-linejoin="miter"/>
<line x1="182.5" y1="2038.8" x2="182.5" y2="2012.6" stroke="#f55a14" stroke-width="1.1" />
<line x1="176.5" y1="2038.8" x2="188.5" y2="2038.8" stroke="#f55a14" stroke-width="1.1" />
<line x1="176.5" y1="2012.6" x2="188.5" y2="2012.6" stroke="#f55a14" stroke-width="1.1" />
<circle cx="176.0" cy="2016.9" r="3.9" fill="none" stroke="#f55a14" stroke-width="1.7"/>
<circle cx="189.7" cy="2018.1" r="3.9" fill="none" stroke="#f55a14" stroke-width="1.7"/>
<circle cx="182.8" cy="2038.6" r="3.9" fill="none" stroke="#f55a14" stroke-width="1.7"/>
<path d="M211.4,2101.7V2044.1H234.1V2101.7" fill="none" stroke="#1fa01f" stroke-width="2.8" stroke-linejoin="miter"/>
<line x1="222.8" y1="2048.5" x2="222.8" y2="2035.9" stroke="#1fa01f" stroke-width="1.1" />
<line x1="216.8" y1="2048.5" x2="228.8" y2="2048.5" stroke="#1fa01f" stroke-width="1.1" />
<line x1="216.8" y1="2035.9" x2="228.8" y2="2035.9" stroke="#1fa01f" stroke-width="1.1" />
<circle cx="213.8" cy="2035.5" r="3.9" fill="none" stroke="#1fa01f" stroke-width="1.7"/>
<circle cx="222.2" cy="2046.1" r="3.9" fill="none" stroke="#1fa01f" stroke-width="1.7"/>
<circle cx="230.3" cy="2047.0" r="3.9" fill="none" stroke="#1fa01f" stroke-width="1.7"/>
<path d="M251.9,2101.7V2047.0H274.1V2101.7" fill="none" stroke="#000000" stroke-width="2.8" stroke-linejoin="miter"/>
<line x1="263.0" y1="2049.4" x2="263.0" y2="2041.7" stroke="#000000" stroke-width="1.1" />
<line x1="257.0" y1="2049.4" x2="269.0" y2="2049.4" stroke="#000000" stroke-width="1.1" />
<line x1="257.0" y1="2041.7" x2="269.0" y2="2041.7" stroke="#000000" stroke-width="1.1" />
<circle cx="254.4" cy="2041.7" r="3.9" fill="none" stroke="#000000" stroke-width="1.7"/>
<circle cx="263.4" cy="2046.1" r="3.9" fill="none" stroke="#000000" stroke-width="1.7"/>
<circle cx="271.0" cy="2049.1" r="3.9" fill="none" stroke="#000000" stroke-width="1.7"/>
<path d="M96.4,1947.5V1942.2H141.5V1947.5" fill="none" stroke="#111" stroke-width="1.1"/>
<text x="119.5" y="1941.8" font-family="Liberation Sans" font-size="17.5" text-anchor="middle" font-weight="bold">***</text>
<path d="M141.5,1934.0V1928.9H180.7V1934.0" fill="none" stroke="#777" stroke-width="1.1"/>
<text x="161.0" y="1928.6" font-family="Liberation Sans" font-size="17.5" text-anchor="middle" font-weight="bold">**</text>
<path d="M137.6,1917.4V1907.5H227.3V1917.4" fill="none" stroke="#111" stroke-width="1.1"/>
<text x="183.7" y="1907.6" font-family="Liberation Sans" font-size="17.5" text-anchor="middle" font-weight="bold">****</text>
<path d="M137.6,1885.8V1876.8H252.4V1885.8" fill="none" stroke="#111" stroke-width="1.1"/>
<text x="195.8" y="1877.2" font-family="Liberation Sans" font-size="17.5" text-anchor="middle" font-weight="bold">****</text>
<circle cx="276.4" cy="1892.4" r="4.4" fill="none" stroke="#666666" stroke-width="2"/>
<text x="298.0" y="1896.4" font-family="Liberation Sans" font-size="10.8">vector</text>
<circle cx="276.4" cy="1910.8" r="4.4" fill="none" stroke="#1a88d8" stroke-width="2"/>
<text x="298.0" y="1914.8" font-family="Liberation Sans" font-size="10.8">WT</text>
<circle cx="276.4" cy="1926.5" r="4.4" fill="none" stroke="#f55a14" stroke-width="2"/>
<text x="298.0" y="1930.5" font-family="Liberation Sans" font-size="10.8">mutant-1</text>
<circle cx="276.4" cy="1944.0" r="4.4" fill="none" stroke="#1fa01f" stroke-width="2"/>
<text x="298.0" y="1948.0" font-family="Liberation Sans" font-size="10.8">mutant-2</text>
<circle cx="276.4" cy="1959.6" r="4.4" fill="none" stroke="#000000" stroke-width="2"/>
<text x="298.0" y="1963.6" font-family="Liberation Sans" font-size="10.8">dual-mutant</text>
<text x="0.0" y="0.0" font-family="Liberation Sans" font-size="10.8" text-anchor="middle" font-weight="bold" textLength="135.5" lengthAdjust="spacingAndGlyphs" transform="translate(33.5,2007.8) rotate(-90)">Relative mRNA expression</text>
<text x="149.0" y="1847.6" font-family="Liberation Serif" font-size="20" font-weight="bold" textLength="45.2" lengthAdjust="spacingAndGlyphs">SiHa</text>
<line x1="74.7" y1="2263.5" x2="74.7" y2="2457.5" stroke="#000" stroke-width="2.2" />
<line x1="66.8" y1="2456.5" x2="287.5" y2="2456.5" stroke="#000" stroke-width="2.2" />
<line x1="65.7" y1="2456.5" x2="74.7" y2="2456.5" stroke="#000" stroke-width="1.8" />
<text x="64.7" y="2460.1" font-family="Liberation Sans" font-size="10" text-anchor="end" font-weight="bold">0.0</text>
<line x1="65.7" y1="2392.4" x2="74.7" y2="2392.4" stroke="#000" stroke-width="1.8" />
<text x="64.7" y="2396.0" font-family="Liberation Sans" font-size="10" text-anchor="end" font-weight="bold">0.5</text>
<line x1="65.7" y1="2328.4" x2="74.7" y2="2328.4" stroke="#000" stroke-width="1.8" />
<text x="64.7" y="2332.0" font-family="Liberation Sans" font-size="10" text-anchor="end" font-weight="bold">1.0</text>
<line x1="65.7" y1="2264.3" x2="74.7" y2="2264.3" stroke="#000" stroke-width="1.8" />
<text x="64.7" y="2267.9" font-family="Liberation Sans" font-size="10" text-anchor="end" font-weight="bold">1.5</text>
<line x1="100.9" y1="2456.5" x2="100.9" y2="2465.5" stroke="#000" stroke-width="1.8" />
<text x="104.4" y="2474.5" font-family="Liberation Sans" font-size="10.6" text-anchor="end" font-weight="bold" transform="rotate(-45 104.4 2474.5)">vector</text>
<line x1="140.6" y1="2456.5" x2="140.6" y2="2465.5" stroke="#000" stroke-width="1.8" />
<text x="144.1" y="2474.5" font-family="Liberation Sans" font-size="10.6" text-anchor="end" font-weight="bold" transform="rotate(-45 144.1 2474.5)">WT</text>
<line x1="180.7" y1="2456.5" x2="180.7" y2="2465.5" stroke="#000" stroke-width="1.8" />
<text x="184.2" y="2474.5" font-family="Liberation Sans" font-size="10.6" text-anchor="end" font-weight="bold" transform="rotate(-45 184.2 2474.5)">mutant-1</text>
<line x1="220.7" y1="2456.5" x2="220.7" y2="2465.5" stroke="#000" stroke-width="1.8" />
<text x="224.2" y="2474.5" font-family="Liberation Sans" font-size="10.6" text-anchor="end" font-weight="bold" transform="rotate(-45 224.2 2474.5)">mutant-2</text>
<line x1="260.8" y1="2456.5" x2="260.8" y2="2465.5" stroke="#000" stroke-width="1.8" />
<text x="264.3" y="2474.5" font-family="Liberation Sans" font-size="10.6" text-anchor="end" font-weight="bold" transform="rotate(-45 264.3 2474.5)">dual-mutant</text>
<path d="M90.8,2456.5V2329.8H112.4V2456.5" fill="none" stroke="#666666" stroke-width="2.8" stroke-linejoin="miter"/>
<circle cx="91.8" cy="2325.8" r="3.9" fill="none" stroke="#666666" stroke-width="1.7"/>
<circle cx="100.9" cy="2327.4" r="3.9" fill="none" stroke="#666666" stroke-width="1.7"/>
<circle cx="109.9" cy="2330.3" r="3.9" fill="none" stroke="#666666" stroke-width="1.7"/>
<path d="M130.3,2456.5V2299.1H152.1V2456.5" fill="none" stroke="#1a88d8" stroke-width="2.8" stroke-linejoin="miter"/>
<line x1="141.2" y1="2306.6" x2="141.2" y2="2290.0" stroke="#1a88d8" stroke-width="1.1" />
<line x1="135.2" y1="2306.6" x2="147.2" y2="2306.6" stroke="#1a88d8" stroke-width="1.1" />
<line x1="135.2" y1="2290.0" x2="147.2" y2="2290.0" stroke="#1a88d8" stroke-width="1.1" />
<circle cx="134.0" cy="2294.5" r="3.9" fill="none" stroke="#1a88d8" stroke-width="1.7"/>
<circle cx="141.0" cy="2290.0" r="3.9" fill="none" stroke="#1a88d8" stroke-width="1.7"/>
<circle cx="147.5" cy="2305.7" r="3.9" fill="none" stroke="#1a88d8" stroke-width="1.7"/>
<path d="M170.0,2456.5V2359.3H191.9V2456.5" fill="none" stroke="#f55a14" stroke-width="2.8" stroke-linejoin="miter"/>
<line x1="180.9" y1="2384.8" x2="180.9" y2="2331.0" stroke="#f55a14" stroke-width="1.1" />
<line x1="174.9" y1="2384.8" x2="186.9" y2="2384.8" stroke="#f55a14" stroke-width="1.1" />
<line x1="174.9" y1="2331.0" x2="186.9" y2="2331.0" stroke="#f55a14" stroke-width="1.1" />
<circle cx="180.7" cy="2327.1" r="3.9" fill="none" stroke="#f55a14" stroke-width="1.7"/>
<circle cx="174.0" cy="2368.2" r="3.9" fill="none" stroke="#f55a14" stroke-width="1.7"/>
<circle cx="187.3" cy="2378.7" r="3.9" fill="none" stroke="#f55a14" stroke-width="1.7"/>
<path d="M209.2,2456.5V2382.3H231.9V2456.5" fill="none" stroke="#1fa01f" stroke-width="2.8" stroke-linejoin="miter"/>
<line x1="220.6" y1="2386.0" x2="220.6" y2="2372.0" stroke="#1fa01f" stroke-width="1.1" />
<line x1="214.6" y1="2386.0" x2="226.6" y2="2386.0" stroke="#1fa01f" stroke-width="1.1" />
<line x1="214.6" y1="2372.0" x2="226.6" y2="2372.0" stroke="#1fa01f" stroke-width="1.1" />
<circle cx="220.7" cy="2371.4" r="3.9" fill="none" stroke="#1fa01f" stroke-width="1.7"/>
<circle cx="214.4" cy="2384.4" r="3.9" fill="none" stroke="#1fa01f" stroke-width="1.7"/>
<circle cx="227.3" cy="2385.9" r="3.9" fill="none" stroke="#1fa01f" stroke-width="1.7"/>
<path d="M249.2,2456.5V2395.1H271.7V2456.5" fill="none" stroke="#000000" stroke-width="2.8" stroke-linejoin="miter"/>
<line x1="260.5" y1="2407.8" x2="260.5" y2="2379.6" stroke="#000000" stroke-width="1.1" />
<line x1="254.5" y1="2407.8" x2="266.5" y2="2407.8" stroke="#000000" stroke-width="1.1" />
<line x1="254.5" y1="2379.6" x2="266.5" y2="2379.6" stroke="#000000" stroke-width="1.1" />
<circle cx="260.4" cy="2380.4" r="3.9" fill="none" stroke="#000000" stroke-width="1.7"/>
<circle cx="260.4" cy="2394.6" r="3.9" fill="none" stroke="#000000" stroke-width="1.7"/>
<circle cx="260.4" cy="2407.6" r="3.9" fill="none" stroke="#000000" stroke-width="1.7"/>
<path d="M95.8,2276.5V2271.4H140.6V2276.5" fill="none" stroke="#111" stroke-width="1.1"/>
<text x="118.3" y="2271.1" font-family="Liberation Sans" font-size="17.5" text-anchor="middle" font-weight="bold">**</text>
<path d="M142.4,2270.5V2265.0H181.6V2270.5" fill="none" stroke="#111" stroke-width="1.1"/>
<text x="162.6" y="2264.8" font-family="Liberation Sans" font-size="17.5" text-anchor="middle" font-weight="bold">*</text>
<path d="M142.4,2254.0V2244.0H232.4V2254.0" fill="none" stroke="#777" stroke-width="1.1"/>
<text x="187.6" y="2243.8" font-family="Liberation Sans" font-size="17.5" text-anchor="middle" font-weight="bold">***</text>
<path d="M142.4,2232.8V2222.9H256.0V2232.8" fill="none" stroke="#111" stroke-width="1.1"/>
<text x="199.3" y="2223.5" font-family="Liberation Sans" font-size="17.5" text-anchor="middle" font-weight="bold">***</text>
<circle cx="273.4" cy="2251.8" r="4.4" fill="none" stroke="#666666" stroke-width="2"/>
<text x="295.1" y="2255.8" font-family="Liberation Sans" font-size="10.8">vector</text>
<circle cx="273.4" cy="2268.0" r="4.4" fill="none" stroke="#1a88d8" stroke-width="2"/>
<text x="295.1" y="2272.0" font-family="Liberation Sans" font-size="10.8">WT</text>
<circle cx="273.4" cy="2283.1" r="4.4" fill="none" stroke="#f55a14" stroke-width="2"/>
<text x="295.1" y="2287.1" font-family="Liberation Sans" font-size="10.8">mutant-1</text>
<circle cx="273.4" cy="2300.0" r="4.4" fill="none" stroke="#1fa01f" stroke-width="2"/>
<text x="295.1" y="2304.0" font-family="Liberation Sans" font-size="10.8">mutant-2</text>
<circle cx="273.4" cy="2315.6" r="4.4" fill="none" stroke="#000000" stroke-width="2"/>
<text x="295.1" y="2319.6" font-family="Liberation Sans" font-size="10.8">dual-mutant</text>
<text x="0.0" y="0.0" font-family="Liberation Sans" font-size="10.8" text-anchor="middle" font-weight="bold" textLength="133.4" lengthAdjust="spacingAndGlyphs" transform="translate(33.5,2363.8) rotate(-90)">Relative mRNA expression</text>
<text x="137.9" y="2187.6" font-family="Liberation Serif" font-size="20" font-weight="bold" textLength="54.8" lengthAdjust="spacingAndGlyphs">CaSki</text>
<line x1="975.1" y1="1906.7" x2="975.1" y2="2102.9" stroke="#000" stroke-width="2.2" />
<line x1="967.4" y1="2101.9" x2="1188.2" y2="2101.9" stroke="#000" stroke-width="2.2" />
<line x1="966.1" y1="2101.9" x2="975.1" y2="2101.9" stroke="#000" stroke-width="1.8" />
<text x="964.5" y="2105.5" font-family="Liberation Sans" font-size="10" text-anchor="end" font-weight="bold">0.0</text>
<line x1="966.1" y1="2037.1" x2="975.1" y2="2037.1" stroke="#000" stroke-width="1.8" />
<text x="964.5" y="2040.7" font-family="Liberation Sans" font-size="10" text-anchor="end" font-weight="bold">0.5</text>
<line x1="966.1" y1="1972.3" x2="975.1" y2="1972.3" stroke="#000" stroke-width="1.8" />
<text x="964.5" y="1975.9" font-family="Liberation Sans" font-size="10" text-anchor="end" font-weight="bold">1.0</text>
<line x1="966.1" y1="1907.5" x2="975.1" y2="1907.5" stroke="#000" stroke-width="1.8" />
<text x="964.5" y="1911.1" font-family="Liberation Sans" font-size="10" text-anchor="end" font-weight="bold">1.5</text>
<line x1="1001.2" y1="2101.9" x2="1001.2" y2="2110.9" stroke="#000" stroke-width="1.8" />
<text x="1004.7" y="2119.9" font-family="Liberation Sans" font-size="10.6" text-anchor="end" font-weight="bold" transform="rotate(-45 1004.7 2119.9)">vector</text>
<line x1="1041.1" y1="2101.9" x2="1041.1" y2="2110.9" stroke="#000" stroke-width="1.8" />
<text x="1044.6" y="2119.9" font-family="Liberation Sans" font-size="10.6" text-anchor="end" font-weight="bold" transform="rotate(-45 1044.6 2119.9)">WT</text>
<line x1="1081.2" y1="2101.9" x2="1081.2" y2="2110.9" stroke="#000" stroke-width="1.8" />
<text x="1084.7" y="2119.9" font-family="Liberation Sans" font-size="10.6" text-anchor="end" font-weight="bold" transform="rotate(-45 1084.7 2119.9)">mutant-1</text>
<line x1="1121.4" y1="2101.9" x2="1121.4" y2="2110.9" stroke="#000" stroke-width="1.8" />
<text x="1124.9" y="2119.9" font-family="Liberation Sans" font-size="10.6" text-anchor="end" font-weight="bold" transform="rotate(-45 1124.9 2119.9)">mutant-2</text>
<line x1="1160.9" y1="2101.9" x2="1160.9" y2="2110.9" stroke="#000" stroke-width="1.8" />
<text x="1164.4" y="2119.9" font-family="Liberation Sans" font-size="10.6" text-anchor="end" font-weight="bold" transform="rotate(-45 1164.4 2119.9)">dual-mutant</text>
<path d="M990.3,2101.9V1973.7H1012.7V2101.9" fill="none" stroke="#666666" stroke-width="2.8" stroke-linejoin="miter"/>
<circle cx="991.8" cy="1972.3" r="3.9" fill="none" stroke="#666666" stroke-width="1.7"/>
<circle cx="1001.0" cy="1972.3" r="3.9" fill="none" stroke="#666666" stroke-width="1.7"/>
<circle cx="1009.5" cy="1972.3" r="3.9" fill="none" stroke="#666666" stroke-width="1.7"/>
<path d="M1029.9,2101.9V1972.4H1052.9V2101.9" fill="none" stroke="#1a88d8" stroke-width="2.8" stroke-linejoin="miter"/>
<line x1="1041.4" y1="1976.2" x2="1041.4" y2="1964.5" stroke="#1a88d8" stroke-width="1.1" />
<line x1="1035.4" y1="1976.2" x2="1047.4" y2="1976.2" stroke="#1a88d8" stroke-width="1.1" />
<line x1="1035.4" y1="1964.5" x2="1047.4" y2="1964.5" stroke="#1a88d8" stroke-width="1.1" />
<circle cx="1032.8" cy="1964.9" r="3.9" fill="none" stroke="#1a88d8" stroke-width="1.7"/>
<circle cx="1041.4" cy="1972.0" r="3.9" fill="none" stroke="#1a88d8" stroke-width="1.7"/>
<circle cx="1049.1" cy="1975.5" r="3.9" fill="none" stroke="#1a88d8" stroke-width="1.7"/>
<path d="M1070.0,2101.9V1994.4H1093.0V2101.9" fill="none" stroke="#f55a14" stroke-width="2.8" stroke-linejoin="miter"/>
<line x1="1081.5" y1="2025.4" x2="1081.5" y2="1958.0" stroke="#f55a14" stroke-width="1.1" />
<line x1="1075.5" y1="2025.4" x2="1087.5" y2="2025.4" stroke="#f55a14" stroke-width="1.1" />
<line x1="1075.5" y1="1958.0" x2="1087.5" y2="1958.0" stroke="#f55a14" stroke-width="1.1" />
<circle cx="1081.2" cy="1954.8" r="3.9" fill="none" stroke="#f55a14" stroke-width="1.7"/>
<circle cx="1074.9" cy="2009.4" r="3.9" fill="none" stroke="#f55a14" stroke-width="1.7"/>
<circle cx="1087.8" cy="2013.6" r="3.9" fill="none" stroke="#f55a14" stroke-width="1.7"/>
<path d="M1110.1,2101.9V2013.9H1133.1V2101.9" fill="none" stroke="#1fa01f" stroke-width="2.8" stroke-linejoin="miter"/>
<line x1="1121.6" y1="2037.1" x2="1121.6" y2="1989.1" stroke="#1fa01f" stroke-width="1.1" />
<line x1="1115.6" y1="2037.1" x2="1127.6" y2="2037.1" stroke="#1fa01f" stroke-width="1.1" />
<line x1="1115.6" y1="1989.1" x2="1127.6" y2="1989.1" stroke="#1fa01f" stroke-width="1.1" />
<circle cx="1121.4" cy="1987.9" r="3.9" fill="none" stroke="#1fa01f" stroke-width="1.7"/>
<circle cx="1121.4" cy="2019.3" r="3.9" fill="none" stroke="#1fa01f" stroke-width="1.7"/>
<circle cx="1121.4" cy="2032.8" r="3.9" fill="none" stroke="#1fa01f" stroke-width="1.7"/>
<path d="M1150.3,2101.9V2026.8H1173.3V2101.9" fill="none" stroke="#000000" stroke-width="2.8" stroke-linejoin="miter"/>
<line x1="1161.8" y1="2033.2" x2="1161.8" y2="2016.4" stroke="#000000" stroke-width="1.1" />
<line x1="1155.8" y1="2033.2" x2="1167.8" y2="2033.2" stroke="#000000" stroke-width="1.1" />
<line x1="1155.8" y1="2016.4" x2="1167.8" y2="2016.4" stroke="#000000" stroke-width="1.1" />
<circle cx="1160.9" cy="2015.1" r="3.9" fill="none" stroke="#000000" stroke-width="1.7"/>
<circle cx="1153.8" cy="2026.0" r="3.9" fill="none" stroke="#000000" stroke-width="1.7"/>
<circle cx="1168.1" cy="2032.8" r="3.9" fill="none" stroke="#000000" stroke-width="1.7"/>
<path d="M996.6,1948.2V1942.5H1040.5V1948.2" fill="none" stroke="#111" stroke-width="1.1"/>
<text x="1018.1" y="1934.2" font-family="Liberation Sans" font-size="10.5" text-anchor="middle">ns</text>
<path d="M1040.0,1934.2V1929.0H1079.8V1934.2" fill="none" stroke="#777" stroke-width="1.1"/>
<text x="1059.4" y="1920.4" font-family="Liberation Sans" font-size="10.5" text-anchor="middle">ns</text>
<path d="M1036.2,1917.6V1907.5H1126.5V1917.6" fill="none" stroke="#111" stroke-width="1.1"/>
<text x="1080.6" y="1908.2" font-family="Liberation Sans" font-size="17.5" text-anchor="middle" font-weight="bold">*</text>
<path d="M1036.2,1886.0V1876.6H1150.3V1886.0" fill="none" stroke="#111" stroke-width="1.1"/>
<text x="1094.1" y="1876.6" font-family="Liberation Sans" font-size="17.5" text-anchor="middle" font-weight="bold">***</text>
<circle cx="1174.7" cy="1892.3" r="4.4" fill="none" stroke="#666666" stroke-width="2"/>
<text x="1196.2" y="1896.3" font-family="Liberation Sans" font-size="10.8">vector</text>
<circle cx="1174.7" cy="1911.0" r="4.4" fill="none" stroke="#1a88d8" stroke-width="2"/>
<text x="1196.2" y="1915.0" font-family="Liberation Sans" font-size="10.8">WT</text>
<circle cx="1174.7" cy="1926.2" r="4.4" fill="none" stroke="#f55a14" stroke-width="2"/>
<text x="1196.2" y="1930.2" font-family="Liberation Sans" font-size="10.8">mutant-1</text>
<circle cx="1174.7" cy="1944.0" r="4.4" fill="none" stroke="#1fa01f" stroke-width="2"/>
<text x="1196.2" y="1948.0" font-family="Liberation Sans" font-size="10.8">mutant-2</text>
<circle cx="1174.7" cy="1959.7" r="4.4" fill="none" stroke="#000000" stroke-width="2"/>
<text x="1196.2" y="1963.7" font-family="Liberation Sans" font-size="10.8">dual-mutant</text>
<text x="0.0" y="0.0" font-family="Liberation Sans" font-size="10.8" text-anchor="middle" font-weight="bold" textLength="160.6" lengthAdjust="spacingAndGlyphs" transform="translate(931.5,2007.9) rotate(-90)">STAT3 relative expersion level</text>
<text x="1081.2" y="1833.8" font-family="Liberation Serif" font-size="20" font-weight="bold" textLength="43.9" lengthAdjust="spacingAndGlyphs">SiHa</text>
<line x1="974.0" y1="2255.8" x2="974.0" y2="2451.5" stroke="#000" stroke-width="2.2" />
<line x1="966.0" y1="2450.5" x2="1188.2" y2="2450.5" stroke="#000" stroke-width="2.2" />
<line x1="965.0" y1="2450.5" x2="974.0" y2="2450.5" stroke="#000" stroke-width="1.8" />
<text x="963.5" y="2454.1" font-family="Liberation Sans" font-size="10" text-anchor="end" font-weight="bold">0.0</text>
<line x1="965.0" y1="2385.8" x2="974.0" y2="2385.8" stroke="#000" stroke-width="1.8" />
<text x="963.5" y="2389.4" font-family="Liberation Sans" font-size="10" text-anchor="end" font-weight="bold">0.5</text>
<line x1="965.0" y1="2321.2" x2="974.0" y2="2321.2" stroke="#000" stroke-width="1.8" />
<text x="963.5" y="2324.8" font-family="Liberation Sans" font-size="10" text-anchor="end" font-weight="bold">1.0</text>
<line x1="965.0" y1="2256.6" x2="974.0" y2="2256.6" stroke="#000" stroke-width="1.8" />
<text x="963.5" y="2260.2" font-family="Liberation Sans" font-size="10" text-anchor="end" font-weight="bold">1.5</text>
<line x1="999.8" y1="2450.5" x2="999.8" y2="2459.5" stroke="#000" stroke-width="1.8" />
<text x="1003.3" y="2468.5" font-family="Liberation Sans" font-size="10.6" text-anchor="end" font-weight="bold" transform="rotate(-45 1003.3 2468.5)">vector</text>
<line x1="1040.5" y1="2450.5" x2="1040.5" y2="2459.5" stroke="#000" stroke-width="1.8" />
<text x="1044.0" y="2468.5" font-family="Liberation Sans" font-size="10.6" text-anchor="end" font-weight="bold" transform="rotate(-45 1044.0 2468.5)">WT</text>
<line x1="1080.6" y1="2450.5" x2="1080.6" y2="2459.5" stroke="#000" stroke-width="1.8" />
<text x="1084.1" y="2468.5" font-family="Liberation Sans" font-size="10.6" text-anchor="end" font-weight="bold" transform="rotate(-45 1084.1 2468.5)">mutant-1</text>
<line x1="1120.8" y1="2450.5" x2="1120.8" y2="2459.5" stroke="#000" stroke-width="1.8" />
<text x="1124.3" y="2468.5" font-family="Liberation Sans" font-size="10.6" text-anchor="end" font-weight="bold" transform="rotate(-45 1124.3 2468.5)">mutant-2</text>
<line x1="1160.9" y1="2450.5" x2="1160.9" y2="2459.5" stroke="#000" stroke-width="1.8" />
<text x="1164.4" y="2468.5" font-family="Liberation Sans" font-size="10.6" text-anchor="end" font-weight="bold" transform="rotate(-45 1164.4 2468.5)">dual-mutant</text>
<path d="M989.4,2450.5V2322.6H1011.3V2450.5" fill="none" stroke="#666666" stroke-width="2.8" stroke-linejoin="miter"/>
<circle cx="991.2" cy="2321.2" r="3.9" fill="none" stroke="#666666" stroke-width="1.7"/>
<circle cx="1000.3" cy="2321.2" r="3.9" fill="none" stroke="#666666" stroke-width="1.7"/>
<circle cx="1009.0" cy="2321.2" r="3.9" fill="none" stroke="#666666" stroke-width="1.7"/>
<path d="M1029.6,2450.5V2298.0H1051.4V2450.5" fill="none" stroke="#1a88d8" stroke-width="2.8" stroke-linejoin="miter"/>
<line x1="1040.5" y1="2313.4" x2="1040.5" y2="2281.1" stroke="#1a88d8" stroke-width="1.1" />
<line x1="1034.5" y1="2313.4" x2="1046.5" y2="2313.4" stroke="#1a88d8" stroke-width="1.1" />
<line x1="1034.5" y1="2281.1" x2="1046.5" y2="2281.1" stroke="#1a88d8" stroke-width="1.1" />
<circle cx="1040.5" cy="2277.6" r="3.9" fill="none" stroke="#1a88d8" stroke-width="1.7"/>
<circle cx="1033.3" cy="2305.4" r="3.9" fill="none" stroke="#1a88d8" stroke-width="1.7"/>
<circle cx="1047.1" cy="2305.4" r="3.9" fill="none" stroke="#1a88d8" stroke-width="1.7"/>
<path d="M1069.7,2450.5V2308.4H1091.6V2450.5" fill="none" stroke="#f55a14" stroke-width="2.8" stroke-linejoin="miter"/>
<line x1="1080.7" y1="2325.1" x2="1080.7" y2="2286.3" stroke="#f55a14" stroke-width="1.1" />
<line x1="1074.7" y1="2325.1" x2="1086.7" y2="2325.1" stroke="#f55a14" stroke-width="1.1" />
<line x1="1074.7" y1="2286.3" x2="1086.7" y2="2286.3" stroke="#f55a14" stroke-width="1.1" />
<circle cx="1080.6" cy="2282.7" r="3.9" fill="none" stroke="#f55a14" stroke-width="1.7"/>
<circle cx="1074.0" cy="2315.4" r="3.9" fill="none" stroke="#f55a14" stroke-width="1.7"/>
<circle cx="1087.0" cy="2318.4" r="3.9" fill="none" stroke="#f55a14" stroke-width="1.7"/>
<path d="M1109.9,2450.5V2357.5H1131.4V2450.5" fill="none" stroke="#1fa01f" stroke-width="2.8" stroke-linejoin="miter"/>
<line x1="1120.7" y1="2374.2" x2="1120.7" y2="2338.0" stroke="#1fa01f" stroke-width="1.1" />
<line x1="1114.7" y1="2374.2" x2="1126.7" y2="2374.2" stroke="#1fa01f" stroke-width="1.1" />
<line x1="1114.7" y1="2338.0" x2="1126.7" y2="2338.0" stroke="#1fa01f" stroke-width="1.1" />
<circle cx="1120.8" cy="2337.2" r="3.9" fill="none" stroke="#1fa01f" stroke-width="1.7"/>
<circle cx="1120.8" cy="2356.4" r="3.9" fill="none" stroke="#1fa01f" stroke-width="1.7"/>
<circle cx="1120.8" cy="2373.6" r="3.9" fill="none" stroke="#1fa01f" stroke-width="1.7"/>
<path d="M1150.0,2450.5V2373.0H1171.6V2450.5" fill="none" stroke="#000000" stroke-width="2.8" stroke-linejoin="miter"/>
<line x1="1160.8" y1="2393.6" x2="1160.8" y2="2347.1" stroke="#000000" stroke-width="1.1" />
<line x1="1154.8" y1="2393.6" x2="1166.8" y2="2393.6" stroke="#000000" stroke-width="1.1" />
<line x1="1154.8" y1="2347.1" x2="1166.8" y2="2347.1" stroke="#000000" stroke-width="1.1" />
<circle cx="1160.9" cy="2344.5" r="3.9" fill="none" stroke="#000000" stroke-width="1.7"/>
<circle cx="1154.3" cy="2381.5" r="3.9" fill="none" stroke="#000000" stroke-width="1.7"/>
<circle cx="1167.5" cy="2388.4" r="3.9" fill="none" stroke="#000000" stroke-width="1.7"/>
<path d="M997.5,2272.4V2267.0H1041.0V2272.4" fill="none" stroke="#111" stroke-width="1.1"/>
<text x="1019.6" y="2267.6" font-family="Liberation Sans" font-size="17.5" text-anchor="middle" font-weight="bold">*</text>
<path d="M1045.4,2276.0V2270.4H1085.0V2276.0" fill="none" stroke="#777" stroke-width="1.1"/>
<text x="1064.9" y="2263.2" font-family="Liberation Sans" font-size="13" text-anchor="middle">ns</text>
<path d="M1041.0,2255.5V2245.4H1131.7V2255.5" fill="none" stroke="#111" stroke-width="1.1"/>
<text x="1086.4" y="2246.1" font-family="Liberation Sans" font-size="17.5" text-anchor="middle" font-weight="bold">*</text>
<path d="M1045.4,2234.0V2225.0H1159.5V2234.0" fill="none" stroke="#111" stroke-width="1.1"/>
<text x="1102.2" y="2224.6" font-family="Liberation Sans" font-size="17.5" text-anchor="middle" font-weight="bold">**</text>
<circle cx="1174.4" cy="2241.7" r="4.4" fill="none" stroke="#666666" stroke-width="2"/>
<text x="1196.2" y="2245.7" font-family="Liberation Sans" font-size="10.8">vector</text>
<circle cx="1174.4" cy="2260.4" r="4.4" fill="none" stroke="#1a88d8" stroke-width="2"/>
<text x="1196.2" y="2264.4" font-family="Liberation Sans" font-size="10.8">WT</text>
<circle cx="1174.4" cy="2275.6" r="4.4" fill="none" stroke="#f55a14" stroke-width="2"/>
<text x="1196.2" y="2279.6" font-family="Liberation Sans" font-size="10.8">mutant-1</text>
<circle cx="1174.4" cy="2293.3" r="4.4" fill="none" stroke="#1fa01f" stroke-width="2"/>
<text x="1196.2" y="2297.3" font-family="Liberation Sans" font-size="10.8">mutant-2</text>
<circle cx="1174.4" cy="2309.1" r="4.4" fill="none" stroke="#000000" stroke-width="2"/>
<text x="1196.2" y="2313.1" font-family="Liberation Sans" font-size="10.8">dual-mutant</text>
<text x="0.0" y="0.0" font-family="Liberation Sans" font-size="10.8" text-anchor="middle" font-weight="bold" textLength="175.0" lengthAdjust="spacingAndGlyphs" transform="translate(931.5,2357.8) rotate(-90)">STAT3 relative expersion level</text>
<text x="1066.9" y="2194.4" font-family="Liberation Serif" font-size="20" font-weight="bold" textLength="53.9" lengthAdjust="spacingAndGlyphs">CaSki</text>
<text x="424.2" y="1827.0" font-family="Liberation Serif" font-size="19" font-weight="bold">N</text>
<text x="675.2" y="1848.9" font-family="Liberation Serif" font-size="20" font-weight="bold" textLength="43.8" lengthAdjust="spacingAndGlyphs">SiHa</text>
<line x1="593.6" y1="1858.3" x2="818.4" y2="1858.3" stroke="#000" stroke-width="1.8" />
<text x="560.0" y="1871.8" font-family="Liberation Serif" font-size="15.5" text-anchor="end">vector</text>
<text x="609.5" y="1870.8" font-family="Liberation Serif" font-size="15.5" text-anchor="middle">+</text>
<text x="660.0" y="1871.8" font-family="Liberation Serif" font-size="15.5" text-anchor="middle">-</text>
<text x="707.2" y="1871.8" font-family="Liberation Serif" font-size="15.5" text-anchor="middle">-</text>
<text x="753.7" y="1871.8" font-family="Liberation Serif" font-size="15.5" text-anchor="middle">-</text>
<text x="799.8" y="1871.8" font-family="Liberation Serif" font-size="15.5" text-anchor="middle">-</text>
<text x="560.0" y="1891.6" font-family="Liberation Serif" font-size="15.5" text-anchor="end">YTHDF3-wt</text>
<text x="609.5" y="1891.6" font-family="Liberation Serif" font-size="15.5" text-anchor="middle">-</text>
<text x="660.0" y="1890.6" font-family="Liberation Serif" font-size="15.5" text-anchor="middle">+</text>
<text x="707.2" y="1891.6" font-family="Liberation Serif" font-size="15.5" text-anchor="middle">-</text>
<text x="753.7" y="1891.6" font-family="Liberation Serif" font-size="15.5" text-anchor="middle">-</text>
<text x="799.8" y="1891.6" font-family="Liberation Serif" font-size="15.5" text-anchor="middle">-</text>
<text x="560.0" y="1910.5" font-family="Liberation Serif" font-size="15.5" text-anchor="end">YTHDF3-mut-1</text>
<text x="609.5" y="1910.5" font-family="Liberation Serif" font-size="15.5" text-anchor="middle">-</text>
<text x="660.0" y="1910.5" font-family="Liberation Serif" font-size="15.5" text-anchor="middle">-</text>
<text x="707.2" y="1909.5" font-family="Liberation Serif" font-size="15.5" text-anchor="middle">+</text>
<text x="753.7" y="1910.5" font-family="Liberation Serif" font-size="15.5" text-anchor="middle">-</text>
<text x="799.8" y="1910.5" font-family="Liberation Serif" font-size="15.5" text-anchor="middle">-</text>
<text x="560.0" y="1929.7" font-family="Liberation Serif" font-size="15.5" text-anchor="end">YTHDF3-mut-2</text>
<text x="609.5" y="1929.7" font-family="Liberation Serif" font-size="15.5" text-anchor="middle">-</text>
<text x="660.0" y="1929.7" font-family="Liberation Serif" font-size="15.5" text-anchor="middle">-</text>
<text x="707.2" y="1929.7" font-family="Liberation Serif" font-size="15.5" text-anchor="middle">-</text>
<text x="753.7" y="1928.7" font-family="Liberation Serif" font-size="15.5" text-anchor="middle">+</text>
<text x="799.8" y="1929.7" font-family="Liberation Serif" font-size="15.5" text-anchor="middle">-</text>
<text x="560.0" y="1948.2" font-family="Liberation Serif" font-size="15.5" text-anchor="end">YTHDF3-dual</text>
<text x="609.5" y="1948.2" font-family="Liberation Serif" font-size="15.5" text-anchor="middle">-</text>
<text x="660.0" y="1948.2" font-family="Liberation Serif" font-size="15.5" text-anchor="middle">-</text>
<text x="707.2" y="1948.2" font-family="Liberation Serif" font-size="15.5" text-anchor="middle">-</text>
<text x="753.7" y="1948.2" font-family="Liberation Serif" font-size="15.5" text-anchor="middle">-</text>
<text x="799.8" y="1947.2" font-family="Liberation Serif" font-size="15.5" text-anchor="middle">+</text>
<text x="511.0" y="1987.0" font-family="Liberation Serif" font-size="22" textLength="55.7" lengthAdjust="spacingAndGlyphs">FLAG</text>
<text x="509.4" y="2034.2" font-family="Liberation Serif" font-size="22" textLength="62.3" lengthAdjust="spacingAndGlyphs">STAT3</text>
<text x="498.3" y="2074.6" font-family="Liberation Serif" font-size="22" textLength="72.7" lengthAdjust="spacingAndGlyphs">GAPDH</text>
<clipPath id="clip1195"><rect x="580.8" y="1968.5" width="248.0" height="33.7"/></clipPath>
<g clip-path="url(#clip1195)">
<rect x="580.8" y="1960.0" width="248.0" height="50.0" fill="#949494"/>
<rect x="595.5" y="1966.0" width="33.5" height="40.0" fill="#5c5c5c" filter="url(#f2)"/>
<rect x="643.0" y="1966.0" width="34.5" height="40.0" fill="#5c5c5c" filter="url(#f2)"/>
<rect x="689.6" y="1966.0" width="35.4" height="40.0" fill="#5c5c5c" filter="url(#f2)"/>
<rect x="738.0" y="1966.0" width="34.0" height="40.0" fill="#5c5c5c" filter="url(#f2)"/>
<rect x="784.7" y="1966.0" width="34.5" height="40.0" fill="#5c5c5c" filter="url(#f2)"/>
<rect x="595.5" y="1987.0" width="33.5" height="14.0" fill="#272727" rx="4.0" filter="url(#f1_4)"/>
<rect x="643.0" y="1987.0" width="34.5" height="14.0" fill="#272727" rx="4.0" filter="url(#f1_4)"/>
<rect x="689.6" y="1987.0" width="35.4" height="14.0" fill="#272727" rx="4.0" filter="url(#f1_4)"/>
<rect x="738.0" y="1987.0" width="34.0" height="14.0" fill="#272727" rx="4.0" filter="url(#f1_4)"/>
<rect x="784.7" y="1987.0" width="34.5" height="14.0" fill="#272727" rx="4.0" filter="url(#f1_4)"/>
<rect x="597.5" y="1975.0" width="29.5" height="9.0" fill="#4a4a4a" rx="4.0" filter="url(#f2)"/>
<rect x="645.0" y="1975.0" width="30.5" height="9.0" fill="#4a4a4a" rx="4.0" filter="url(#f2)"/>
<rect x="691.6" y="1975.0" width="31.4" height="9.0" fill="#4a4a4a" rx="4.0" filter="url(#f2)"/>
<rect x="740.0" y="1975.0" width="30.0" height="9.0" fill="#4a4a4a" rx="4.0" filter="url(#f2)"/>
<rect x="786.7" y="1975.0" width="30.5" height="9.0" fill="#4a4a4a" rx="4.0" filter="url(#f2)"/>
</g>
<rect x="580.8" y="1968.5" width="248.0" height="33.7" fill="none" stroke="#111" stroke-width="2.2"/>
<clipPath id="clip1215"><rect x="580.8" y="2011.6" width="248.0" height="33.4"/></clipPath>
<g clip-path="url(#clip1215)">
<rect x="580.8" y="2005.0" width="248.0" height="45.0" fill="#c6c6c6"/>
<rect x="637.4" y="2021.0" width="35.5" height="6.0" fill="#a4a4a4" rx="3.0" filter="url(#f2)"/>
<rect x="685.9" y="2022.5" width="35.4" height="6.0" fill="#a4a4a4" rx="3.0" filter="url(#f2)"/>
<rect x="734.4" y="2023.0" width="35.4" height="6.0" fill="#a4a4a4" rx="3.0" filter="url(#f2)"/>
<rect x="782.8" y="2023.0" width="35.4" height="6.0" fill="#a4a4a4" rx="3.0" filter="url(#f2)"/>
<rect x="588.0" y="2024.3" width="36.4" height="14.0" fill="#262626" rx="4.0" filter="url(#f1_3)"/>
<rect x="637.4" y="2026.0" width="35.5" height="9.5" fill="#262626" rx="4.0" filter="url(#f1_3)"/>
<rect x="685.9" y="2027.5" width="35.4" height="5.5" fill="#262626" rx="2.8" filter="url(#f1_3)"/>
<rect x="734.4" y="2028.0" width="35.4" height="6.6" fill="#262626" rx="3.3" filter="url(#f1_3)"/>
<rect x="782.8" y="2028.0" width="35.4" height="6.2" fill="#262626" rx="3.1" filter="url(#f1_3)"/>
</g>
<rect x="580.8" y="2011.6" width="248.0" height="33.4" fill="none" stroke="#111" stroke-width="2.2"/>
<clipPath id="clip1229"><rect x="580.8" y="2052.7" width="248.0" height="33.7"/></clipPath>
<g clip-path="url(#clip1229)">
<rect x="580.8" y="2045.0" width="248.0" height="50.0" fill="#c4c4c4"/>
<rect x="628.0" y="2050.0" width="12.4" height="40.0" fill="#dadada" filter="url(#f2)"/>
<rect x="675.1" y="2050.0" width="13.2" height="40.0" fill="#dadada" filter="url(#f2)"/>
<rect x="723.0" y="2050.0" width="12.8" height="40.0" fill="#dadada" filter="url(#f2)"/>
<rect x="770.2" y="2050.0" width="12.8" height="40.0" fill="#dadada" filter="url(#f2)"/>
<rect x="590.8" y="2062.5" width="39.2" height="9.3" fill="#060606" rx="4.0" filter="url(#f1_2)"/>
<rect x="638.4" y="2062.5" width="38.7" height="9.3" fill="#060606" rx="4.0" filter="url(#f1_2)"/>
<rect x="686.3" y="2062.5" width="38.7" height="9.3" fill="#060606" rx="4.0" filter="url(#f1_2)"/>
<rect x="733.8" y="2062.5" width="38.4" height="9.3" fill="#060606" rx="4.0" filter="url(#f1_2)"/>
<rect x="781.0" y="2062.5" width="39.1" height="9.3" fill="#060606" rx="4.0" filter="url(#f1_2)"/>
</g>
<rect x="580.8" y="2052.7" width="248.0" height="33.7" fill="none" stroke="#111" stroke-width="2.2"/>
<text x="654.3" y="2177.0" font-family="Liberation Serif" font-size="20" font-weight="bold" textLength="55.6" lengthAdjust="spacingAndGlyphs">CaSki</text>
<line x1="570.7" y1="2189.8" x2="816.0" y2="2189.8" stroke="#000" stroke-width="1.8" />
<text x="530.6" y="2210.6" font-family="Liberation Serif" font-size="15.5" text-anchor="end">vector</text>
<text x="576.1" y="2209.6" font-family="Liberation Serif" font-size="15.5" text-anchor="middle">+</text>
<text x="627.3" y="2210.6" font-family="Liberation Serif" font-size="15.5" text-anchor="middle">-</text>
<text x="678.5" y="2210.6" font-family="Liberation Serif" font-size="15.5" text-anchor="middle">-</text>
<text x="725.7" y="2210.6" font-family="Liberation Serif" font-size="15.5" text-anchor="middle">-</text>
<text x="773.9" y="2210.6" font-family="Liberation Serif" font-size="15.5" text-anchor="middle">-</text>
<text x="530.6" y="2229.9" font-family="Liberation Serif" font-size="15.5" text-anchor="end">YTHDF3-wt</text>
<text x="576.1" y="2229.9" font-family="Liberation Serif" font-size="15.5" text-anchor="middle">-</text>
<text x="627.3" y="2228.9" font-family="Liberation Serif" font-size="15.5" text-anchor="middle">+</text>
<text x="678.5" y="2229.9" font-family="Liberation Serif" font-size="15.5" text-anchor="middle">-</text>
<text x="725.7" y="2229.9" font-family="Liberation Serif" font-size="15.5" text-anchor="middle">-</text>
<text x="773.9" y="2229.9" font-family="Liberation Serif" font-size="15.5" text-anchor="middle">-</text>
<text x="530.6" y="2248.7" font-family="Liberation Serif" font-size="15.5" text-anchor="end">YTHDF3-mut-1</text>
<text x="576.1" y="2248.7" font-family="Liberation Serif" font-size="15.5" text-anchor="middle">-</text>
<text x="627.3" y="2248.7" font-family="Liberation Serif" font-size="15.5" text-anchor="middle">-</text>
<text x="678.5" y="2247.7" font-family="Liberation Serif" font-size="15.5" text-anchor="middle">+</text>
<text x="725.7" y="2248.7" font-family="Liberation Serif" font-size="15.5" text-anchor="middle">-</text>
<text x="773.9" y="2248.7" font-family="Liberation Serif" font-size="15.5" text-anchor="middle">-</text>
<text x="530.6" y="2267.9" font-family="Liberation Serif" font-size="15.5" text-anchor="end">YTHDF3-mut-2</text>
<text x="576.1" y="2267.9" font-family="Liberation Serif" font-size="15.5" text-anchor="middle">-</text>
<text x="627.3" y="2267.9" font-family="Liberation Serif" font-size="15.5" text-anchor="middle">-</text>
<text x="678.5" y="2267.9" font-family="Liberation Serif" font-size="15.5" text-anchor="middle">-</text>
<text x="725.7" y="2266.9" font-family="Liberation Serif" font-size="15.5" text-anchor="middle">+</text>
<text x="773.9" y="2267.9" font-family="Liberation Serif" font-size="15.5" text-anchor="middle">-</text>
<text x="530.6" y="2286.5" font-family="Liberation Serif" font-size="15.5" text-anchor="end">YTHDF3-dual</text>
<text x="576.1" y="2286.5" font-family="Liberation Serif" font-size="15.5" text-anchor="middle">-</text>
<text x="627.3" y="2286.5" font-family="Liberation Serif" font-size="15.5" text-anchor="middle">-</text>
<text x="678.5" y="2286.5" font-family="Liberation Serif" font-size="15.5" text-anchor="middle">-</text>
<text x="725.7" y="2286.5" font-family="Liberation Serif" font-size="15.5" text-anchor="middle">-</text>
<text x="773.9" y="2285.5" font-family="Liberation Serif" font-size="15.5" text-anchor="middle">+</text>
<text x="476.4" y="2330.3" font-family="Liberation Serif" font-size="22" textLength="54.9" lengthAdjust="spacingAndGlyphs">FLAG</text>
<text x="478.4" y="2381.5" font-family="Liberation Serif" font-size="22" textLength="62.3" lengthAdjust="spacingAndGlyphs">STAT3</text>
<text x="470.0" y="2421.2" font-family="Liberation Serif" font-size="22" textLength="73.0" lengthAdjust="spacingAndGlyphs">GAPDH</text>
<clipPath id="clip1278"><rect x="561.6" y="2307.3" width="250.0" height="36.4"/></clipPath>
<g clip-path="url(#clip1278)">
<rect x="561.6" y="2299.3" width="250.0" height="52.4" fill="#a6a6a6"/>
<rect x="608.0" y="2299.3" width="13.2" height="52.4" fill="#d2d2d2" filter="url(#f1_5)"/>
<rect x="656.5" y="2299.3" width="14.1" height="52.4" fill="#d2d2d2" filter="url(#f1_5)"/>
<rect x="706.0" y="2299.3" width="14.0" height="52.4" fill="#d2d2d2" filter="url(#f1_5)"/>
<rect x="756.2" y="2299.3" width="14.2" height="52.4" fill="#d2d2d2" filter="url(#f1_5)"/>
<rect x="561.6" y="2299.3" width="7.0" height="52.4" fill="#d2d2d2" filter="url(#f1_5)"/>
<rect x="571.0" y="2318.0" width="36.0" height="5.0" fill="#666" rx="2.5" filter="url(#f1_2)"/>
<rect x="571.0" y="2326.8" width="36.0" height="6.0" fill="#585858" rx="3.0" filter="url(#f1_2)"/>
<rect x="622.2" y="2320.8" width="33.3" height="5.0" fill="#333" rx="2.5" filter="url(#f1_2)"/>
<rect x="622.2" y="2328.2" width="33.3" height="7.0" fill="#111" rx="3.5" filter="url(#f1_2)"/>
<rect x="671.6" y="2322.0" width="33.4" height="4.0" fill="#5a5a5a" rx="2.0" filter="url(#f1_2)"/>
<rect x="671.6" y="2330.1" width="33.4" height="5.0" fill="#262626" rx="2.5" filter="url(#f1_2)"/>
<rect x="721.0" y="2324.5" width="34.2" height="5.0" fill="#222" rx="2.5" filter="url(#f1_2)"/>
<rect x="721.0" y="2331.0" width="34.2" height="7.0" fill="#0a0a0a" rx="3.5" filter="url(#f1_2)"/>
<rect x="771.4" y="2326.0" width="34.2" height="5.0" fill="#222" rx="2.5" filter="url(#f1_2)"/>
<rect x="771.4" y="2333.3" width="34.2" height="6.0" fill="#0a0a0a" rx="3.0" filter="url(#f1_2)"/>
</g>
<rect x="561.6" y="2307.3" width="250.0" height="36.4" fill="none" stroke="#111" stroke-width="2.2"/>
<clipPath id="clip1298"><rect x="561.6" y="2352.2" width="250.0" height="35.3"/></clipPath>
<g clip-path="url(#clip1298)">
<rect x="561.6" y="2344.2" width="250.0" height="51.3" fill="#b9b9b9"/>
<rect x="608.0" y="2344.2" width="13.2" height="51.3" fill="#d6d6d6" filter="url(#f1_5)"/>
<rect x="656.5" y="2344.2" width="14.1" height="51.3" fill="#d6d6d6" filter="url(#f1_5)"/>
<rect x="706.0" y="2344.2" width="14.0" height="51.3" fill="#d6d6d6" filter="url(#f1_5)"/>
<rect x="756.2" y="2344.2" width="14.2" height="51.3" fill="#d6d6d6" filter="url(#f1_5)"/>
<rect x="561.6" y="2344.2" width="7.0" height="51.3" fill="#d6d6d6" filter="url(#f1_5)"/>
<rect x="570.0" y="2370.0" width="38.0" height="14.0" fill="#0c0c0c" rx="4.0" filter="url(#f1_3)"/>
<rect x="619.3" y="2369.0" width="37.7" height="13.0" fill="#0c0c0c" rx="4.0" filter="url(#f1_3)"/>
<rect x="668.7" y="2371.8" width="36.3" height="7.4" fill="#111" rx="3.7" filter="url(#f1_2)"/>
<rect x="718.0" y="2371.8" width="36.4" height="6.2" fill="#111" rx="3.1" filter="url(#f1_2)"/>
<rect x="765.6" y="2369.3" width="38.2" height="7.1" fill="#111" rx="3.5" filter="url(#f1_2)"/>
</g>
<rect x="561.6" y="2352.2" width="250.0" height="35.3" fill="none" stroke="#111" stroke-width="2.2"/>
<clipPath id="clip1313"><rect x="561.6" y="2397.0" width="250.0" height="35.3"/></clipPath>
<g clip-path="url(#clip1313)">
<rect x="561.6" y="2389.0" width="250.0" height="51.3" fill="#b3b3b3"/>
<rect x="608.0" y="2389.0" width="13.2" height="51.3" fill="#d0d0d0" filter="url(#f1_5)"/>
<rect x="656.5" y="2389.0" width="14.1" height="51.3" fill="#d0d0d0" filter="url(#f1_5)"/>
<rect x="706.0" y="2389.0" width="14.0" height="51.3" fill="#d0d0d0" filter="url(#f1_5)"/>
<rect x="756.2" y="2389.0" width="14.2" height="51.3" fill="#d0d0d0" filter="url(#f1_5)"/>
<rect x="561.6" y="2389.0" width="7.0" height="51.3" fill="#d0d0d0" filter="url(#f1_5)"/>
<rect x="570.0" y="2403.0" width="39.0" height="12.6" fill="#080808" rx="4.0" filter="url(#f1_3)"/>
<rect x="622.0" y="2408.0" width="35.0" height="9.4" fill="#080808" rx="4.0" filter="url(#f1_3)"/>
<rect x="670.6" y="2409.5" width="36.4" height="8.9" fill="#1a1a1a" rx="4.0" filter="url(#f1_3)"/>
<rect x="719.0" y="2412.8" width="38.0" height="9.2" fill="#080808" rx="4.0" filter="url(#f1_3)"/>
<rect x="769.4" y="2412.8" width="38.2" height="13.2" fill="#080808" rx="4.0" filter="url(#f1_4)"/>
</g>
<rect x="561.6" y="2397.0" width="250.0" height="35.3" fill="none" stroke="#111" stroke-width="2.2"/>
</svg>
</body></html>
